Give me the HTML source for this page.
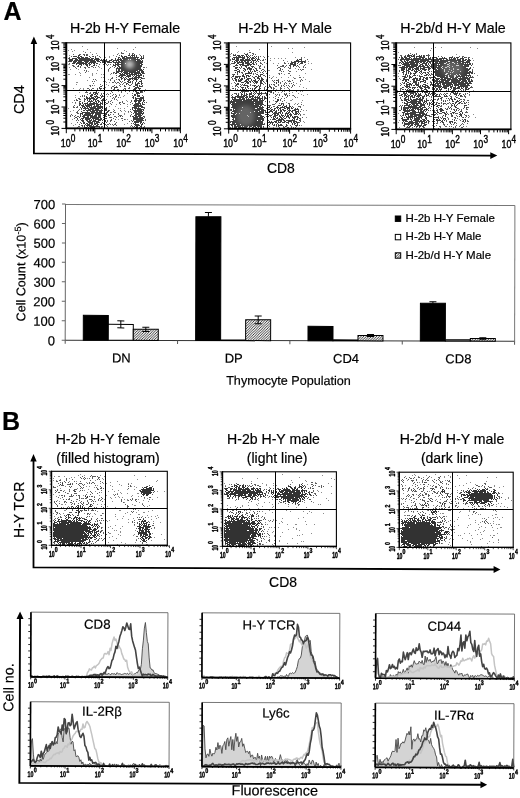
<!DOCTYPE html>
<html><head><meta charset="utf-8"><title>Figure</title>
<style>html,body{margin:0;padding:0;background:#fff}svg{display:block;filter:blur(0.4px)}text{font-family:"Liberation Sans",sans-serif;stroke:#000;stroke-width:0.2px}.lab text{stroke-width:0.4px}</style>
</head><body>
<svg width="520" height="798" viewBox="0 0 520 798" font-family="Liberation Sans, sans-serif">
<defs>
<filter id="soft" x="-5%" y="-5%" width="110%" height="110%"><feGaussianBlur stdDeviation="0.42"/></filter>
<filter id="blur2" x="-50%" y="-50%" width="200%" height="200%"><feGaussianBlur stdDeviation="2"/></filter>
<pattern id="hatch" width="2.6" height="2.6" patternUnits="userSpaceOnUse"><rect width="2.6" height="2.6" fill="#f2f2f2"/><path d="M-0.65 0.65L0.65 -0.65M0 2.6L2.6 0M1.95 3.25L3.25 1.95" stroke="#222" stroke-width="0.85"/></pattern>
<marker id="ah" viewBox="0 0 10 10" refX="2" refY="5" markerWidth="6" markerHeight="6" orient="auto-start-reverse" markerUnits="userSpaceOnUse"><path d="M0 0L10 5L0 10z"/></marker>
</defs>
<rect width="520" height="798" fill="#fff"/>

<text x="3.4" y="19.6" font-size="25" text-anchor="start" font-weight="bold" fill="#000" >A</text>
<text x="125" y="32.7" font-size="14.2" text-anchor="middle" font-weight="normal" fill="#000" >H-2b H-Y Female</text>
<text x="285" y="32.7" font-size="14.2" text-anchor="middle" font-weight="normal" fill="#000" >H-2b H-Y Male</text>
<text x="453" y="32.7" font-size="14.2" text-anchor="middle" font-weight="normal" fill="#000" >H-2b/d H-Y Male</text>
<text x="24.4" y="99.6" font-size="14.5" text-anchor="middle" font-weight="normal" fill="#000" transform="rotate(-90 24.4 99.6)" >CD4</text>
<text x="280.8" y="172.9" font-size="13.9" text-anchor="middle" font-weight="normal" fill="#000" >CD8</text>
<path d="M33.9 42V153.3L491 155.6" stroke="#000" stroke-width="1.8" fill="none"/>
<path d="M33.9 36.5L30.6 44H37.2z M497.3 155.6L490.3 152.2V159z" fill="#000"/>
<path d="M82 46.5h1M135 47.5h1M117 48.5h1M71 49.5h1m15 0h1m45 0h1M68 50.5h1m5 0h1m49 0h1M72 51.5h1m10 0h1m42 0h1M90 52.5h1M96 53.5h1m21 0h1M139 54.5h1M69 55.5h1m43 0h1M109 56.5h1M105 57.5h1m3 0h1M68 64.5h2M69 67.5h1m29 0h1m4 0h1m41 0h1M101 68.5h1M70 69.5h1m7 0h1M97 70.5h1M88 71.5h1m19 0h1M79 72.5h1M80 73.5h1m11 0h1m3 0h1M68 74.5h2m5 0h1m16 0h1m8 0h1m1 0h1m6 0h1M80 75.5h1m11 0h1M89 77.5h1m11 0h1m1 0h1M108 79.5h1M87 80.5h1m8 0h1M103 81.5h1m1 0h1M76 82.5h2m28 0h1m2 0h1M76 84.5h1m29 0h1M89 85.5h1m4 0h1m13 0h1M105 87.5h1M73 88.5h1m6 0h1m2 0h1M79 89.5h1m3 0h1m61 0h1M75 90.5h1m31 0h1M118 91.5h1M79 92.5h1M107 93.5h1m19 0h1M119 94.5h1M75 95.5h1m48 0h1M107 96.5h1m15 0h1M75 97.5h1m44 0h1M117 100.5h1m8 0h1M127 101.5h1M72 102.5h1M75 103.5h1M116 104.5h1m10 0h1m2 0h1M109 106.5h1m5 0h1m11 0h1M68 108.5h1m49 0h1m1 0h1m3 0h1M113 109.5h1M73 110.5h1m50 0h1M70 111.5h1m50 0h1m3 0h1M128 112.5h1M124 113.5h1M124 114.5h1M72 119.5h1m45 0h1m6 0h1m1 0h1M71 123.5h1m55 0h1M75 124.5h1m48 0h1M73 125.5h1M130 126.5h1M77 127.5h1m66 0h1" stroke="#8c8c8c" stroke-width="1" fill="none" filter="url(#soft)"/>
<path d="M85 52.5h1m35 0h1M121 53.5h3m5 0h1m2 0h2M73 54.5h1m5 0h2m2 0h2m1 0h2m4 0h1m24 0h1m11 0h1M87 55.5h1m9 0h1m21 0h1m20 0h1m2 0h1M71 56.5h1m20 0h1m2 0h1m3 0h1m16 0h1m26 0h1M69 57.5h1m30 0h1M68 58.5h1M112 59.5h1M68 61.5h1M69 63.5h1M99 64.5h1m3 0h1m2 0h1m1 0h1m1 0h1M72 65.5h2m22 0h1m10 0h1M73 66.5h2m2 0h1m2 0h1m10 0h2m5 0h1m13 0h1M75 67.5h1m4 0h1m3 0h2m2 0h2m3 0h1m1 0h1m14 0h1m3 0h1m28 0h2M76 68.5h1m8 0h1m23 0h1M108 69.5h1M84 70.5h1m1 0h1m21 0h1M86 71.5h1M85 72.5h1m27 0h2M111 73.5h1m1 0h1m30 0h1M116 75.5h1m26 0h1M118 76.5h1M112 77.5h1m3 0h1M111 78.5h2m30 0h2M93 79.5h1m1 0h1m14 0h1m5 0h1m1 0h2M110 80.5h1m3 0h1M92 81.5h1m1 0h1m19 0h1m7 0h1M112 82.5h2m1 0h1m1 0h2m2 0h1m2 0h2m6 0h1M93 83.5h1m22 0h1m2 0h1m3 0h1m8 0h1m9 0h1M100 84.5h1m19 0h1m1 0h1m8 0h1M90 85.5h1m1 0h1m9 0h1m11 0h1m4 0h1m4 0h1m4 0h2m11 0h1M90 86.5h1m9 0h1m11 0h2m2 0h1m3 0h1m3 0h2m7 0h1m8 0h1M111 87.5h1m5 0h1m11 0h1M87 88.5h2m3 0h2m3 0h1m5 0h1m7 0h1m12 0h2m2 0h2M89 89.5h1m1 0h1m5 0h1m2 0h1m12 0h2m2 0h2m4 0h1m1 0h1M77 90.5h1m7 0h1m5 0h2m8 0h1m19 0h1m5 0h1m2 0h1M86 91.5h1m24 0h1m9 0h1m3 0h1m3 0h1m3 0h1m8 0h1m1 0h1M85 92.5h3m2 0h1m7 0h1m13 0h1m8 0h1m19 0h2M89 93.5h2m10 0h1m1 0h1m6 0h1m21 0h1M87 94.5h1m13 0h1m2 0h1m1 0h1m1 0h1m4 0h1m1 0h1M82 95.5h1m1 0h1m27 0h1m3 0h1m2 0h1m12 0h1m9 0h1M80 96.5h1m1 0h1m1 0h1m18 0h1m6 0h1m4 0h2m26 0h1M113 97.5h1m1 0h1m2 0h1m13 0h1M78 98.5h2m32 0h1m1 0h1M76 99.5h1m2 0h2m3 0h1m21 0h1m7 0h1m1 0h1M74 100.5h1m1 0h1m7 0h1m20 0h1m5 0h1m19 0h1M79 101.5h1m28 0h1m1 0h1m11 0h1m8 0h1M75 102.5h1m3 0h1m28 0h1m3 0h1m6 0h2m1 0h1m7 0h1m15 0h1M107 103.5h1m2 0h1m8 0h1m3 0h2m7 0h1M79 104.5h1m25 0h1m5 0h1m8 0h1m23 0h1M74 105.5h1M73 106.5h1m3 0h1M73 107.5h2m1 0h2m66 0h1M144 108.5h1M79 109.5h1m1 0h1m48 0h1M78 110.5h1m30 0h1m4 0h1m5 0h1M77 111.5h1m35 0h1m14 0h1m1 0h1M76 112.5h2m32 0h2m2 0h2m15 0h1M77 113.5h2m39 0h1M71 114.5h1m38 0h1m2 0h1m4 0h1m12 0h1M70 115.5h1m1 0h1m2 0h1m33 0h1m9 0h3m8 0h1M70 116.5h1m3 0h1m2 0h2m35 0h2m2 0h1m3 0h1m7 0h1m13 0h1M75 117.5h1m33 0h3m4 0h1m27 0h1M74 118.5h1m38 0h1m7 0h2M77 119.5h1m33 0h1m3 0h1m8 0h1m20 0h1M76 120.5h1m1 0h1m28 0h1m2 0h2m10 0h1m8 0h1m13 0h1M107 121.5h1m2 0h1m3 0h1m14 0h1M77 122.5h1m2 0h1m35 0h1M101 123.5h1m7 0h1m5 0h1m15 0h1m12 0h1M79 124.5h1m27 0h2m1 0h1m1 0h1m1 0h2M81 125.5h1m22 0h1m1 0h1m6 0h1m2 0h1m14 0h1M78 126.5h2m2 0h1m18 0h2m4 0h1m24 0h1m11 0h1M84 127.5h2m13 0h1m1 0h1m31 0h1m7 0h1m1 0h1" stroke="#5c5c5c" stroke-width="1" fill="none" filter="url(#soft)"/>
<path d="M132 54.5h1m1 0h1M78 55.5h2m4 0h1m1 0h1m34 0h1m6 0h2m1 0h4m1 0h1M73 56.5h4m1 0h1m1 0h2m7 0h1m3 0h1m27 0h2m1 0h3m3 0h1m1 0h1m1 0h1m1 0h1m4 0h1M77 57.5h3m1 0h3m1 0h3m2 0h1m4 0h1m22 0h2m2 0h3m1 0h13m2 0h1m1 0h1M69 58.5h1m2 0h5m1 0h12m1 0h3m1 0h4m16 0h1m2 0h1m1 0h1m1 0h14m1 0h1m2 0h4M69 59.5h4m2 0h3m1 0h14m1 0h6m1 0h1m1 0h1m2 0h1m4 0h1m3 0h1m1 0h5m1 0h5m1 0h1m1 0h9m1 0h1M69 60.5h4m1 0h21m1 0h3m1 0h7m2 0h3m1 0h6m1 0h16m1 0h4m1 0h1M69 61.5h3m1 0h4m1 0h4m2 0h5m1 0h6m1 0h3m2 0h8m2 0h2m2 0h1m1 0h2m1 0h22M73 62.5h3m1 0h7m1 0h3m1 0h7m4 0h1m1 0h4m1 0h5m1 0h30M72 63.5h3m1 0h11m1 0h2m1 0h1m1 0h2m1 0h2m7 0h1m9 0h1m1 0h2m2 0h4m1 0h16M76 64.5h1m2 0h3m1 0h1m1 0h3m1 0h2m3 0h1m18 0h1m1 0h25m1 0h2M78 65.5h1m2 0h1m4 0h2m1 0h1m3 0h2m18 0h3m1 0h2m2 0h21M78 66.5h1m8 0h1m27 0h1m2 0h2m1 0h21M117 67.5h1m1 0h22M116 68.5h25M116 69.5h1m1 0h2m1 0h21m1 0h1M116 70.5h1m1 0h2m1 0h17m1 0h4M116 71.5h7m1 0h12m1 0h3m1 0h3M116 72.5h3m2 0h1m1 0h5m1 0h11m1 0h3M115 73.5h2m2 0h2m1 0h1m1 0h6m1 0h2m1 0h7m1 0h2M120 74.5h5m1 0h2m1 0h8m1 0h1m1 0h2M119 75.5h7m1 0h4m1 0h1m1 0h1m1 0h6M119 76.5h1m1 0h2m3 0h5m2 0h1m1 0h2m1 0h2m3 0h1M120 77.5h2m1 0h1m1 0h1m2 0h1m3 0h1m1 0h8M121 78.5h2m1 0h1m1 0h1m2 0h8m1 0h1m2 0h2M121 79.5h1m2 0h2m1 0h4m1 0h1m1 0h4m2 0h1M119 80.5h1m4 0h1m3 0h2m3 0h1m2 0h1m4 0h1M120 81.5h1m6 0h2m1 0h1m1 0h1m3 0h1m2 0h3M128 82.5h3m4 0h1m2 0h1m2 0h1M126 83.5h2m7 0h1m1 0h3m1 0h1M126 84.5h1m1 0h1m6 0h3m3 0h1M135 85.5h3m1 0h1M101 86.5h1m32 0h1m2 0h1m1 0h3M99 87.5h1m14 0h3m18 0h4M99 88.5h3m12 0h1m19 0h3m1 0h3M133 89.5h3m3 0h1M98 90.5h2m35 0h2m3 0h1M96 91.5h1m38 0h2m3 0h2M93 92.5h4m39 0h3m1 0h1M93 93.5h1m1 0h3m38 0h4M91 94.5h2m1 0h2m1 0h1m36 0h2m1 0h1M90 95.5h3m3 0h1m3 0h1m1 0h1m31 0h2m1 0h3M86 96.5h1m3 0h2m2 0h4m3 0h2m30 0h1m3 0h3M86 97.5h2m1 0h1m1 0h3m1 0h1m1 0h3m1 0h1m31 0h1m1 0h1m4 0h4M84 98.5h1m1 0h9m1 0h2m2 0h1m2 0h1m29 0h1m1 0h9M85 99.5h1m1 0h1m1 0h2m2 0h4m5 0h2m31 0h2m2 0h3m1 0h1M77 100.5h1m9 0h1m1 0h1m1 0h1m1 0h1m1 0h1m1 0h2m2 0h4m29 0h8m1 0h2M80 101.5h1m3 0h1m3 0h5m2 0h2m1 0h2m2 0h1m31 0h3m1 0h3m2 0h1M82 102.5h1m4 0h1m2 0h1m2 0h2m1 0h1m1 0h1m1 0h1m1 0h1m1 0h2m29 0h1m2 0h2m2 0h1m1 0h1M79 103.5h2m1 0h1m1 0h4m1 0h9m2 0h3m1 0h1m1 0h1m28 0h6m1 0h1M80 104.5h1m2 0h1m1 0h1m1 0h8m1 0h5m1 0h1m1 0h1m29 0h5m1 0h1m1 0h2M79 105.5h1m1 0h3m1 0h7m2 0h1m1 0h3m1 0h1m32 0h9M82 106.5h3m1 0h4m1 0h1m1 0h10m1 0h1m29 0h9M80 107.5h1m1 0h1m1 0h2m1 0h1m1 0h7m1 0h6m1 0h1m1 0h1m25 0h5m1 0h1m2 0h3M81 108.5h1m1 0h6m1 0h11m1 0h1m1 0h3m25 0h1m1 0h7M85 109.5h1m2 0h6m1 0h4m2 0h1m2 0h3m25 0h1m2 0h1m1 0h7M83 110.5h2m1 0h5m1 0h11m1 0h3m1 0h1m24 0h9m1 0h1M81 111.5h1m5 0h1m2 0h5m1 0h2m1 0h3m2 0h1m2 0h2m25 0h9M82 112.5h8m1 0h11m4 0h2m26 0h3m1 0h4m1 0h1M80 113.5h3m2 0h9m1 0h9m1 0h2m26 0h1m1 0h9M80 114.5h1m1 0h1m1 0h7m1 0h1m2 0h6m3 0h3m1 0h1m26 0h6m1 0h1M80 115.5h1m2 0h10m1 0h3m1 0h3m2 0h1m1 0h1m2 0h1m25 0h3m1 0h4M80 116.5h1m1 0h3m2 0h2m1 0h7m1 0h3m4 0h2m13 0h1m11 0h2m1 0h6m2 0h1M76 117.5h1m2 0h1m3 0h6m1 0h11m2 0h2m28 0h5m1 0h4M77 118.5h1m3 0h3m1 0h6m1 0h7m1 0h2m3 0h2m26 0h11M80 119.5h1m1 0h1m2 0h5m1 0h1m1 0h1m1 0h7m1 0h2m28 0h10M81 120.5h3m2 0h2m1 0h3m1 0h3m2 0h3m1 0h1m1 0h2m27 0h1m2 0h8M82 121.5h2m3 0h4m1 0h7m5 0h2m26 0h1m1 0h8M83 122.5h2m3 0h5m1 0h1m1 0h4m2 0h1m1 0h1m1 0h1m27 0h5m1 0h2m1 0h1M81 123.5h1m1 0h2m1 0h2m1 0h4m1 0h4m5 0h2m28 0h1m1 0h1m4 0h1m1 0h1M85 124.5h1m1 0h3m1 0h2m1 0h2m1 0h2m1 0h2m2 0h2m28 0h5m2 0h2M82 125.5h1m1 0h1m1 0h6m1 0h1m2 0h2m37 0h5m1 0h1M84 126.5h1m2 0h1m1 0h11m34 0h1m1 0h2m2 0h2M86 127.5h1m1 0h1m1 0h5m40 0h3m1 0h1" stroke="#3c3c3c" stroke-width="1" fill="none" filter="url(#soft)"/>
<ellipse cx="129.6" cy="64.4" rx="4.6" ry="4.1" fill="#c4c4c4" opacity="1" filter="url(#blur2)"/>
<rect x="66.3" y="42.8" width="114.10000000000001" height="85.60000000000001" fill="none" stroke="#000" stroke-width="1.1" />
<line x1="66.3" y1="42.3" x2="66.3" y2="128.9" stroke="#000" stroke-width="1.9"/>
<line x1="65.8" y1="128.4" x2="180.9" y2="128.4" stroke="#000" stroke-width="1.9"/>
<line x1="104.5" y1="42.8" x2="104.5" y2="128.4" stroke="#000" stroke-width="1"/>
<line x1="66.3" y1="90.5" x2="180.4" y2="90.5" stroke="#000" stroke-width="1"/>
<path d="M66.3 128.4v4.8M66.3 128.4h-4.8M74.9 128.4v2.976M66.3 122.0h-2.976M79.9 128.4v2.976M66.3 118.2h-2.976M83.5 128.4v2.976M66.3 115.5h-2.976M86.2 128.4v2.976M66.3 113.4h-2.976M88.5 128.4v2.976M66.3 111.7h-2.976M90.4 128.4v2.976M66.3 110.3h-2.976M92.1 128.4v2.976M66.3 109.1h-2.976M93.5 128.4v2.976M66.3 108.0h-2.976M94.8 128.4v4.8M66.3 107.0h-4.8M103.4 128.4v2.976M66.3 100.6h-2.976M108.4 128.4v2.976M66.3 96.8h-2.976M112.0 128.4v2.976M66.3 94.1h-2.976M114.8 128.4v2.976M66.3 92.0h-2.976M117.0 128.4v2.976M66.3 90.3h-2.976M118.9 128.4v2.976M66.3 88.9h-2.976M120.6 128.4v2.976M66.3 87.7h-2.976M122.0 128.4v2.976M66.3 86.6h-2.976M123.3 128.4v4.8M66.3 85.6h-4.8M131.9 128.4v2.976M66.3 79.2h-2.976M137.0 128.4v2.976M66.3 75.4h-2.976M140.5 128.4v2.976M66.3 72.7h-2.976M143.3 128.4v2.976M66.3 70.6h-2.976M145.5 128.4v2.976M66.3 68.9h-2.976M147.5 128.4v2.976M66.3 67.5h-2.976M149.1 128.4v2.976M66.3 66.3h-2.976M150.6 128.4v2.976M66.3 65.2h-2.976M151.9 128.4v4.8M66.3 64.2h-4.8M160.5 128.4v2.976M66.3 57.8h-2.976M165.5 128.4v2.976M66.3 54.0h-2.976M169.0 128.4v2.976M66.3 51.3h-2.976M171.8 128.4v2.976M66.3 49.2h-2.976M174.1 128.4v2.976M66.3 47.5h-2.976M176.0 128.4v2.976M66.3 46.1h-2.976M177.6 128.4v2.976M66.3 44.9h-2.976M179.1 128.4v2.976M66.3 43.8h-2.976M180.4 128.4v4.8M66.3 42.8h-4.8" stroke="#000" stroke-width="1.0" fill="none"/>
<g font-weight="normal" class="lab"><text x="60.75" y="147.0" font-size="10.6" text-anchor="start" textLength="9.9" lengthAdjust="spacingAndGlyphs">10</text><text x="70.85" y="142.0" font-size="10" text-anchor="start" textLength="4.6" lengthAdjust="spacingAndGlyphs">0</text></g>
<g transform="rotate(-90 59.0 127.9)" font-weight="normal" class="lab"><text x="51.10" y="127.9" font-size="10.6" text-anchor="start" textLength="9.9" lengthAdjust="spacingAndGlyphs">10</text><text x="62.30" y="122.9" font-size="10" text-anchor="start" textLength="4.6" lengthAdjust="spacingAndGlyphs">0</text></g>
<g font-weight="normal" class="lab"><text x="87.68" y="147.0" font-size="10.6" text-anchor="start" textLength="9.9" lengthAdjust="spacingAndGlyphs">10</text><text x="97.78" y="142.0" font-size="10" text-anchor="start" textLength="4.6" lengthAdjust="spacingAndGlyphs">1</text></g>
<g transform="rotate(-90 59.0 106.5)" font-weight="normal" class="lab"><text x="51.10" y="106.5" font-size="10.6" text-anchor="start" textLength="9.9" lengthAdjust="spacingAndGlyphs">10</text><text x="62.30" y="101.5" font-size="10" text-anchor="start" textLength="4.6" lengthAdjust="spacingAndGlyphs">1</text></g>
<g font-weight="normal" class="lab"><text x="116.20" y="147.0" font-size="10.6" text-anchor="start" textLength="9.9" lengthAdjust="spacingAndGlyphs">10</text><text x="126.30" y="142.0" font-size="10" text-anchor="start" textLength="4.6" lengthAdjust="spacingAndGlyphs">2</text></g>
<g transform="rotate(-90 59.0 85.1)" font-weight="normal" class="lab"><text x="51.10" y="85.1" font-size="10.6" text-anchor="start" textLength="9.9" lengthAdjust="spacingAndGlyphs">10</text><text x="62.30" y="80.1" font-size="10" text-anchor="start" textLength="4.6" lengthAdjust="spacingAndGlyphs">2</text></g>
<g font-weight="normal" class="lab"><text x="144.72" y="147.0" font-size="10.6" text-anchor="start" textLength="9.9" lengthAdjust="spacingAndGlyphs">10</text><text x="154.82" y="142.0" font-size="10" text-anchor="start" textLength="4.6" lengthAdjust="spacingAndGlyphs">3</text></g>
<g transform="rotate(-90 59.0 63.7)" font-weight="normal" class="lab"><text x="51.10" y="63.7" font-size="10.6" text-anchor="start" textLength="9.9" lengthAdjust="spacingAndGlyphs">10</text><text x="62.30" y="58.7" font-size="10" text-anchor="start" textLength="4.6" lengthAdjust="spacingAndGlyphs">3</text></g>
<g font-weight="normal" class="lab"><text x="173.25" y="147.0" font-size="10.6" text-anchor="start" textLength="9.9" lengthAdjust="spacingAndGlyphs">10</text><text x="183.35" y="142.0" font-size="10" text-anchor="start" textLength="4.6" lengthAdjust="spacingAndGlyphs">4</text></g>
<g transform="rotate(-90 59.0 42.3)" font-weight="normal" class="lab"><text x="51.10" y="42.3" font-size="10.6" text-anchor="start" textLength="9.9" lengthAdjust="spacingAndGlyphs">10</text><text x="62.30" y="37.3" font-size="10" text-anchor="start" textLength="4.6" lengthAdjust="spacingAndGlyphs">4</text></g>
<path d="M236 46.5h1m34 0h1M304 47.5h1M288 48.5h1m3 0h1M259 49.5h1M249 50.5h1M238 51.5h1M237 52.5h1m54 0h1M230 54.5h1M230 56.5h1m32 0h1m4 0h1M295 57.5h1m8 0h1M270 58.5h1m3 0h1m3 0h1m2 0h1m3 0h1M270 60.5h1M287 61.5h1m20 0h1M266 63.5h1m6 0h1m4 0h1m29 0h1m2 0h1M230 64.5h1M264 66.5h1M267 68.5h1m27 0h1M311 69.5h1M268 70.5h2M296 71.5h1M278 73.5h1m26 0h1M284 74.5h1M269 75.5h1m29 0h1M273 76.5h1M272 77.5h1m3 0h1m4 0h1m6 0h1m4 0h1m9 0h1M295 78.5h1M266 79.5h1m38 0h1M284 80.5h1M309 81.5h1M231 83.5h1m64 0h1M300 84.5h1M232 86.5h1m66 0h1M303 87.5h1M284 88.5h1m21 0h1M230 89.5h1m45 0h1M296 90.5h1M300 91.5h1m1 0h1M278 92.5h1m2 0h1m10 0h1M298 93.5h1M301 94.5h1m5 0h1M292 95.5h1m10 0h1M269 97.5h1m3 0h1m23 0h1M292 99.5h1M273 100.5h1m16 0h2m10 0h1M269 102.5h1m16 0h1m14 0h1M295 103.5h1m2 0h1M294 104.5h1M303 105.5h1M303 110.5h1m2 0h1M303 114.5h2M306 117.5h1M303 121.5h1M304 122.5h1M301 125.5h1M273 127.5h1" stroke="#8c8c8c" stroke-width="1" fill="none" filter="url(#soft)"/>
<path d="M249 52.5h2M231 53.5h1m12 0h1m2 0h1m4 0h2M233 54.5h1m1 0h1m17 0h1m1 0h1M250 55.5h1M258 56.5h1m1 0h1M264 57.5h1m36 0h1M301 58.5h1M230 59.5h1m28 0h1m3 0h1m1 0h1m41 0h1M230 60.5h1m29 0h1m1 0h2m19 0h1m21 0h1M291 61.5h1m13 0h1M260 62.5h1m3 0h1m19 0h1m20 0h1M231 63.5h2m23 0h1m3 0h2m22 0h2m2 0h1M256 64.5h1m5 0h1m36 0h1m5 0h1M258 65.5h1m1 0h1m16 0h1m4 0h1m3 0h1m17 0h1M233 66.5h1m25 0h2m19 0h4m1 0h1m10 0h1m1 0h1m4 0h1M241 67.5h1m12 0h1m4 0h1m4 0h1m13 0h2m4 0h1m3 0h1m1 0h1m8 0h1m3 0h1m1 0h1M240 68.5h1m15 0h1m2 0h2m16 0h1m11 0h2M244 69.5h1m17 0h2m16 0h1m1 0h1m15 0h1m1 0h1m1 0h2M234 70.5h1m29 0h1m14 0h2m7 0h1m12 0h1M259 71.5h1m3 0h1m1 0h1m15 0h1m1 0h1m5 0h2M241 72.5h2m14 0h1m2 0h1M237 73.5h1m4 0h1m10 0h1m1 0h1m7 0h1m2 0h1m12 0h1m1 0h1m6 0h2M232 74.5h2m19 0h1m2 0h1m22 0h1M263 75.5h2m2 0h1m22 0h1M252 76.5h1m12 0h1M231 77.5h1m21 0h2m14 0h1m29 0h2M232 78.5h1m38 0h1m22 0h1M232 79.5h1m45 0h1m22 0h1M233 80.5h1m32 0h1m5 0h1m1 0h1m2 0h2m8 0h1m1 0h1m2 0h1m7 0h1m1 0h1M266 81.5h1m6 0h1m8 0h1m5 0h3m9 0h1M234 82.5h1m29 0h1m15 0h1m4 0h1m7 0h1M235 83.5h1m29 0h1m14 0h1m3 0h1m1 0h1m2 0h1m1 0h1M240 84.5h1m9 0h1m12 0h1m5 0h1m1 0h1m1 0h2m3 0h1m5 0h1m8 0h1M235 85.5h1m5 0h1m8 0h1m1 0h2m13 0h1m6 0h1m3 0h1m2 0h1m1 0h1m2 0h1m1 0h1m3 0h1m1 0h1M235 86.5h1m24 0h1m4 0h1m9 0h2m4 0h1m2 0h1m4 0h1m2 0h1M238 87.5h1m25 0h1m3 0h1m1 0h1m2 0h1m6 0h1m6 0h1m3 0h1M232 88.5h1m2 0h1m28 0h1m8 0h2m5 0h2m6 0h1M235 89.5h1m1 0h1m26 0h1m1 0h1m6 0h1m6 0h1m8 0h1M231 90.5h1m2 0h2m26 0h1m7 0h1m16 0h1m2 0h1m3 0h1M267 91.5h1m2 0h1m4 0h1m6 0h1m1 0h1m4 0h1m6 0h1M270 92.5h1m2 0h1M234 93.5h3m1 0h1m23 0h3m8 0h1m10 0h1m1 0h1m2 0h1M232 94.5h1m34 0h1m1 0h1m5 0h1m1 0h1m1 0h1m4 0h3M231 95.5h1m44 0h1m2 0h1m9 0h1m3 0h1M275 96.5h1m6 0h1m4 0h1m6 0h1M231 97.5h1m46 0h1m7 0h1m8 0h1M266 98.5h1m8 0h1m5 0h1m2 0h1M267 99.5h1m12 0h1M280 100.5h1m3 0h1M265 101.5h1m3 0h1m5 0h1m6 0h1M267 102.5h1m8 0h1M275 103.5h1m3 0h1m2 0h2m4 0h2M272 104.5h3m14 0h1m7 0h1m3 0h1M264 105.5h2m2 0h3M273 106.5h2m17 0h1m5 0h3M293 107.5h1m6 0h1M266 108.5h2M230 109.5h1m70 0h1M230 110.5h1M300 111.5h1M300 114.5h1M270 115.5h1m29 0h1M266 116.5h2m2 0h1M302 117.5h1M300 118.5h1M270 119.5h1m29 0h1M268 120.5h1m31 0h1M230 121.5h1m36 0h1m32 0h1M299 122.5h1M264 123.5h1M264 124.5h1m2 0h1M267 125.5h2m4 0h1m8 0h1m4 0h1m2 0h1m8 0h1M269 126.5h1m6 0h1m6 0h1m2 0h1m4 0h1m4 0h1M230 127.5h1m1 0h1m30 0h1m3 0h1m11 0h1m3 0h2m2 0h2m2 0h1m1 0h1m1 0h1" stroke="#5c5c5c" stroke-width="1" fill="none" filter="url(#soft)"/>
<path d="M245 54.5h3M233 55.5h3m1 0h3m1 0h3m2 0h1m1 0h1m3 0h1M236 56.5h1m1 0h3m1 0h1m1 0h1m1 0h2m1 0h1m4 0h1m1 0h1M233 57.5h12m2 0h2m1 0h1m1 0h2m1 0h1m2 0h1M232 58.5h1m1 0h1m1 0h3m3 0h3m2 0h1m1 0h1m1 0h4m1 0h1m1 0h1M232 59.5h3m1 0h3m1 0h4m1 0h5m1 0h2m2 0h1m1 0h2m38 0h1m1 0h3M235 60.5h4m1 0h11m1 0h4m1 0h1m38 0h3m2 0h1M232 61.5h1m1 0h1m1 0h2m1 0h1m1 0h2m1 0h2m1 0h2m2 0h1m1 0h1m2 0h1m1 0h1m35 0h11M234 62.5h2m1 0h7m1 0h4m1 0h2m1 0h1m1 0h1m35 0h5m2 0h1m2 0h2m1 0h1M233 63.5h2m2 0h2m3 0h2m1 0h5m2 0h2m36 0h3m1 0h2m1 0h1m2 0h3M236 64.5h1m2 0h5m3 0h5m1 0h2m35 0h6M235 65.5h3m2 0h1m1 0h7m1 0h1m32 0h1m5 0h2m2 0h3m1 0h1M234 66.5h1m6 0h1m3 0h2m4 0h3m36 0h1m2 0h1M235 67.5h3m1 0h1m6 0h1m1 0h2m2 0h1M235 68.5h2m6 0h2m2 0h5m3 0h1m24 0h1M237 69.5h2m6 0h1m1 0h1m1 0h3m1 0h1m2 0h1M235 70.5h2m2 0h1m3 0h1m1 0h1m4 0h1m3 0h1m1 0h2m3 0h1M237 71.5h3m4 0h1m3 0h1m1 0h1m1 0h1m1 0h2M235 72.5h1m1 0h1m1 0h1m8 0h2m1 0h1m10 0h1M245 73.5h7M234 74.5h1m2 0h1m5 0h1m1 0h1m11 0h1m2 0h3M233 75.5h1m8 0h2m2 0h3m1 0h1m7 0h1m1 0h1M232 76.5h2m1 0h6m1 0h3m1 0h1m1 0h2m5 0h2m1 0h3M235 77.5h3m1 0h1m4 0h1m1 0h1m10 0h2m2 0h1M234 78.5h2m3 0h1m1 0h2m1 0h1m2 0h4m3 0h1m2 0h3m1 0h2M235 79.5h2m1 0h1m1 0h3m3 0h3m2 0h1m3 0h1m3 0h1m1 0h3M235 80.5h2m1 0h4m3 0h2m1 0h1m2 0h1m1 0h3m2 0h1m1 0h3m13 0h1M236 81.5h1m1 0h3m3 0h4m1 0h2m1 0h1m1 0h4m2 0h2m1 0h1m14 0h1M241 82.5h3m2 0h3m1 0h1m2 0h1m1 0h3m2 0h2m12 0h1m1 0h1m1 0h1M237 83.5h2m6 0h1m1 0h2m5 0h1m1 0h1m3 0h3m13 0h1M236 84.5h3m3 0h1m1 0h1m15 0h1M236 85.5h1m6 0h5m6 0h2m2 0h1m1 0h1m8 0h1M237 86.5h1m2 0h1m6 0h2m5 0h1m1 0h2m1 0h1m9 0h2M241 87.5h3m1 0h1m1 0h1m7 0h2m2 0h1m11 0h1M233 88.5h1m8 0h1m2 0h1m2 0h1m1 0h1m1 0h1m1 0h2m3 0h2m10 0h1M240 89.5h1m1 0h3m1 0h1m5 0h1m1 0h1m3 0h2M240 90.5h2m1 0h3m1 0h6m1 0h1m3 0h3M241 91.5h8m1 0h1m2 0h1m1 0h2m2 0h1m8 0h2m1 0h1M240 92.5h1m1 0h1m1 0h1m6 0h1m2 0h1m1 0h1m2 0h1m1 0h1m3 0h1m5 0h1M241 93.5h1m2 0h1m1 0h1m2 0h3m1 0h1m1 0h1m1 0h5m3 0h3M236 94.5h1m1 0h1m2 0h2m1 0h1m1 0h2m1 0h3m2 0h1m3 0h2m1 0h1m4 0h1M237 95.5h2m2 0h1m1 0h4m2 0h1m2 0h2m4 0h1m1 0h1m5 0h1m18 0h1m1 0h1M232 96.5h1m2 0h10m1 0h2m1 0h5m1 0h1m1 0h1m1 0h1m2 0h1m1 0h1M232 97.5h4m1 0h7m1 0h3m1 0h2m1 0h1m1 0h6m2 0h1m1 0h2M232 98.5h1m1 0h2m3 0h2m1 0h3m1 0h1m1 0h1m2 0h3m1 0h1m1 0h6m1 0h2M232 99.5h13m1 0h12m1 0h2m1 0h1m1 0h1m12 0h2M231 100.5h1m1 0h9m1 0h9m1 0h5m1 0h5m13 0h2M230 101.5h33m13 0h2M230 102.5h5m1 0h18m1 0h8M230 103.5h1m1 0h31m18 0h1M231 104.5h23m1 0h9m17 0h1m1 0h1M232 105.5h27m1 0h2m16 0h3m2 0h1m2 0h1m2 0h1M232 106.5h29m1 0h1m6 0h1m7 0h1m4 0h1m1 0h3m2 0h2M231 107.5h11m1 0h15m1 0h5m4 0h2m1 0h1m4 0h3m1 0h5m1 0h4m1 0h1M233 108.5h22m2 0h6m7 0h1m3 0h2m1 0h1m1 0h2m3 0h2m1 0h3m1 0h2m2 0h1m1 0h1M231 109.5h1m1 0h1m1 0h29m4 0h2m1 0h2m1 0h1m3 0h1m1 0h1m1 0h2m3 0h1m1 0h1m4 0h5M231 110.5h1m1 0h8m1 0h18m1 0h5m4 0h2m1 0h2m1 0h1m1 0h1m1 0h2m1 0h3m2 0h3m1 0h4m2 0h1M232 111.5h22m1 0h3m1 0h5m1 0h1m3 0h4m2 0h2m3 0h2m2 0h1m2 0h1m1 0h1m1 0h2m2 0h4M231 112.5h1m2 0h16m1 0h13m1 0h5m2 0h1m1 0h3m1 0h3m1 0h1m3 0h1m1 0h2m2 0h1m2 0h2m1 0h1M231 113.5h5m1 0h2m1 0h24m3 0h1m5 0h6m1 0h1m1 0h1m2 0h4m1 0h1m2 0h1m1 0h3m1 0h1M233 114.5h2m1 0h25m4 0h2m1 0h1m3 0h1m1 0h2m1 0h2m2 0h1m3 0h1m1 0h1m1 0h3m2 0h3m1 0h1M231 115.5h16m1 0h14m5 0h1m1 0h1m1 0h1m2 0h4m1 0h1m1 0h3m1 0h1m1 0h2m1 0h2M231 116.5h17m1 0h9m2 0h4m4 0h1m4 0h3m3 0h2m1 0h1m1 0h1m1 0h3m1 0h1m1 0h1m1 0h4M232 117.5h31m1 0h1m6 0h1m1 0h1m1 0h1m1 0h1m2 0h2m1 0h1m2 0h1m1 0h2m2 0h4m1 0h2M233 118.5h1m1 0h29m9 0h2m1 0h2m1 0h1m1 0h2m1 0h2m3 0h1m3 0h2m2 0h1m1 0h1M232 119.5h2m1 0h29m8 0h4m2 0h6m8 0h1m1 0h1m1 0h2M233 120.5h24m1 0h3m1 0h2m12 0h6m1 0h2m1 0h9m4 0h1M231 121.5h32m6 0h1m1 0h1m2 0h3m1 0h1m1 0h2m2 0h2m2 0h4m1 0h4M230 122.5h1m1 0h31m5 0h6m1 0h2m1 0h3m1 0h3m1 0h3m2 0h1m1 0h2m1 0h3M232 123.5h3m1 0h27m7 0h1m1 0h1m4 0h1m10 0h1m3 0h1m1 0h2m1 0h1M230 124.5h10m1 0h23m5 0h1m2 0h1m1 0h1m1 0h1m1 0h1m1 0h2m4 0h1m5 0h1m1 0h1m2 0h1M231 125.5h2m1 0h2m1 0h25m12 0h1m1 0h1m1 0h4m4 0h1m8 0h3M232 126.5h1m1 0h7m1 0h1m1 0h4m1 0h3m1 0h3m1 0h5m1 0h1m14 0h1m6 0h1M234 127.5h3m1 0h9m2 0h1m2 0h2m1 0h2m1 0h1m1 0h2" stroke="#3c3c3c" stroke-width="1" fill="none" filter="url(#soft)"/>
<ellipse cx="245.5" cy="115.9" rx="9.1" ry="10.7" fill="#858585" opacity="0.55" filter="url(#blur2)"/>
<rect x="228.7" y="42.9" width="121.90000000000003" height="85.9" fill="none" stroke="#000" stroke-width="1.1" />
<line x1="228.7" y1="42.4" x2="228.7" y2="129.3" stroke="#000" stroke-width="1.9"/>
<line x1="228.2" y1="128.8" x2="351.1" y2="128.8" stroke="#000" stroke-width="1.9"/>
<line x1="267.5" y1="42.9" x2="267.5" y2="128.8" stroke="#000" stroke-width="1"/>
<line x1="228.7" y1="90.5" x2="350.6" y2="90.5" stroke="#000" stroke-width="1"/>
<path d="M228.7 128.8v4.8M228.7 128.8h-4.8M237.9 128.8v2.976M228.7 122.3h-2.976M243.2 128.8v2.976M228.7 118.6h-2.976M247.0 128.8v2.976M228.7 115.9h-2.976M250.0 128.8v2.976M228.7 113.8h-2.976M252.4 128.8v2.976M228.7 112.1h-2.976M254.5 128.8v2.976M228.7 110.7h-2.976M256.2 128.8v2.976M228.7 109.4h-2.976M257.8 128.8v2.976M228.7 108.3h-2.976M259.2 128.8v4.8M228.7 107.3h-4.8M268.3 128.8v2.976M228.7 100.9h-2.976M273.7 128.8v2.976M228.7 97.1h-2.976M277.5 128.8v2.976M228.7 94.4h-2.976M280.5 128.8v2.976M228.7 92.3h-2.976M282.9 128.8v2.976M228.7 90.6h-2.976M284.9 128.8v2.976M228.7 89.2h-2.976M286.7 128.8v2.976M228.7 87.9h-2.976M288.3 128.8v2.976M228.7 86.8h-2.976M289.6 128.8v4.8M228.7 85.9h-4.8M298.8 128.8v2.976M228.7 79.4h-2.976M304.2 128.8v2.976M228.7 75.6h-2.976M308.0 128.8v2.976M228.7 72.9h-2.976M311.0 128.8v2.976M228.7 70.8h-2.976M313.4 128.8v2.976M228.7 69.1h-2.976M315.4 128.8v2.976M228.7 67.7h-2.976M317.2 128.8v2.976M228.7 66.5h-2.976M318.7 128.8v2.976M228.7 65.4h-2.976M320.1 128.8v4.8M228.7 64.4h-4.8M329.3 128.8v2.976M228.7 57.9h-2.976M334.7 128.8v2.976M228.7 54.1h-2.976M338.5 128.8v2.976M228.7 51.4h-2.976M341.4 128.8v2.976M228.7 49.4h-2.976M343.8 128.8v2.976M228.7 47.7h-2.976M345.9 128.8v2.976M228.7 46.2h-2.976M347.6 128.8v2.976M228.7 45.0h-2.976M349.2 128.8v2.976M228.7 43.9h-2.976M350.6 128.8v4.8M228.7 42.9h-4.8" stroke="#000" stroke-width="1.0" fill="none"/>
<g font-weight="normal" class="lab"><text x="223.15" y="147.4" font-size="10.6" text-anchor="start" textLength="9.9" lengthAdjust="spacingAndGlyphs">10</text><text x="233.25" y="142.4" font-size="10" text-anchor="start" textLength="4.6" lengthAdjust="spacingAndGlyphs">0</text></g>
<g transform="rotate(-90 221.39999999999998 128.3)" font-weight="normal" class="lab"><text x="213.50" y="128.3" font-size="10.6" text-anchor="start" textLength="9.9" lengthAdjust="spacingAndGlyphs">10</text><text x="224.70" y="123.30000000000001" font-size="10" text-anchor="start" textLength="4.6" lengthAdjust="spacingAndGlyphs">0</text></g>
<g font-weight="normal" class="lab"><text x="252.03" y="147.4" font-size="10.6" text-anchor="start" textLength="9.9" lengthAdjust="spacingAndGlyphs">10</text><text x="262.12" y="142.4" font-size="10" text-anchor="start" textLength="4.6" lengthAdjust="spacingAndGlyphs">1</text></g>
<g transform="rotate(-90 221.39999999999998 106.82500000000002)" font-weight="normal" class="lab"><text x="213.50" y="106.82500000000002" font-size="10.6" text-anchor="start" textLength="9.9" lengthAdjust="spacingAndGlyphs">10</text><text x="224.70" y="101.82500000000002" font-size="10" text-anchor="start" textLength="4.6" lengthAdjust="spacingAndGlyphs">1</text></g>
<g font-weight="normal" class="lab"><text x="282.50" y="147.4" font-size="10.6" text-anchor="start" textLength="9.9" lengthAdjust="spacingAndGlyphs">10</text><text x="292.60" y="142.4" font-size="10" text-anchor="start" textLength="4.6" lengthAdjust="spacingAndGlyphs">2</text></g>
<g transform="rotate(-90 221.39999999999998 85.35000000000001)" font-weight="normal" class="lab"><text x="213.50" y="85.35000000000001" font-size="10.6" text-anchor="start" textLength="9.9" lengthAdjust="spacingAndGlyphs">10</text><text x="224.70" y="80.35000000000001" font-size="10" text-anchor="start" textLength="4.6" lengthAdjust="spacingAndGlyphs">2</text></g>
<g font-weight="normal" class="lab"><text x="312.97" y="147.4" font-size="10.6" text-anchor="start" textLength="9.9" lengthAdjust="spacingAndGlyphs">10</text><text x="323.07" y="142.4" font-size="10" text-anchor="start" textLength="4.6" lengthAdjust="spacingAndGlyphs">3</text></g>
<g transform="rotate(-90 221.39999999999998 63.875)" font-weight="normal" class="lab"><text x="213.50" y="63.875" font-size="10.6" text-anchor="start" textLength="9.9" lengthAdjust="spacingAndGlyphs">10</text><text x="224.70" y="58.875" font-size="10" text-anchor="start" textLength="4.6" lengthAdjust="spacingAndGlyphs">3</text></g>
<g font-weight="normal" class="lab"><text x="343.45" y="147.4" font-size="10.6" text-anchor="start" textLength="9.9" lengthAdjust="spacingAndGlyphs">10</text><text x="353.55" y="142.4" font-size="10" text-anchor="start" textLength="4.6" lengthAdjust="spacingAndGlyphs">4</text></g>
<g transform="rotate(-90 221.39999999999998 42.400000000000006)" font-weight="normal" class="lab"><text x="213.50" y="42.400000000000006" font-size="10.6" text-anchor="start" textLength="9.9" lengthAdjust="spacingAndGlyphs">10</text><text x="224.70" y="37.400000000000006" font-size="10" text-anchor="start" textLength="4.6" lengthAdjust="spacingAndGlyphs">4</text></g>
<path d="M414 47.5h1m20 0h1m5 0h1m28 0h1M431 48.5h1m45 0h1M430 50.5h1M398 52.5h1M456 54.5h1M472 58.5h1M473 60.5h1M473 67.5h1M398 73.5h1M477 75.5h1M398 76.5h1M399 78.5h1M400 79.5h1M397 90.5h1m75 0h1M469 95.5h1M398 113.5h1M473 114.5h1M469 116.5h1M475 117.5h1M459 119.5h1M399 120.5h1M398 122.5h1M432 125.5h1M466 126.5h1M399 127.5h1M434 128.5h1m14 0h1" stroke="#8c8c8c" stroke-width="1" fill="none" filter="url(#soft)"/>
<path d="M410 53.5h1m5 0h1M416 54.5h1m11 0h1M400 55.5h2m3 0h1m18 0h1m2 0h3M438 56.5h1m2 0h1m10 0h1m6 0h1m2 0h2M465 57.5h2m1 0h2M398 59.5h1M399 62.5h1M399 63.5h1m72 0h1M472 64.5h1M398 65.5h2M399 67.5h1M472 69.5h1M399 70.5h1m72 0h1M399 71.5h1m31 0h1M424 72.5h1m3 0h1M403 73.5h1m7 0h1m8 0h1m10 0h1m42 0h1M431 74.5h2M417 75.5h1m1 0h1M402 76.5h1m69 0h1M430 77.5h1m41 0h2M430 78.5h1M472 80.5h1M410 81.5h1m19 0h1M402 82.5h1m27 0h1M400 83.5h1m2 0h1m23 0h1M401 84.5h1M400 85.5h1M471 86.5h1M403 87.5h1m67 0h2M400 88.5h2m27 0h1m2 0h1M400 89.5h1m2 0h1m13 0h2M400 90.5h1m16 0h2m27 0h1m1 0h1m12 0h1m1 0h1M398 91.5h1m2 0h1m19 0h1m18 0h1m4 0h1m3 0h1m19 0h1m1 0h1M397 92.5h1m71 0h1M399 93.5h1m40 0h1m3 0h1m1 0h2m2 0h1m9 0h1m4 0h1m1 0h1M441 94.5h1m1 0h1m6 0h1m14 0h1m3 0h1M399 95.5h2m48 0h1m14 0h1M429 96.5h1m1 0h1m15 0h1m2 0h2m3 0h1m5 0h2m1 0h2M400 97.5h1m30 0h1m9 0h2m14 0h1m7 0h1M400 98.5h1m25 0h1m19 0h1m7 0h1m3 0h1M401 99.5h1m29 0h1m2 0h2m1 0h2m2 0h1m7 0h1m10 0h2m1 0h2M401 100.5h1m28 0h1m6 0h1m3 0h1m1 0h1m1 0h1m1 0h1m1 0h1m14 0h1m2 0h2M402 102.5h1m33 0h2m3 0h1m7 0h1m14 0h1m3 0h1M441 103.5h1m2 0h2m1 0h2m1 0h1m10 0h2m2 0h1M443 104.5h1m2 0h1m4 0h1m16 0h1M400 105.5h1m40 0h1m9 0h1M399 106.5h1m1 0h1m26 0h1m11 0h2m6 0h1m2 0h1m2 0h1m9 0h1M429 107.5h1m3 0h1m14 0h1m18 0h2M430 108.5h1m2 0h1m2 0h1m8 0h1m1 0h1m3 0h1m6 0h1m4 0h1m2 0h1M437 109.5h1m8 0h2m3 0h1m1 0h2m4 0h1m1 0h1m4 0h2M399 110.5h2m29 0h1m1 0h1m1 0h1m23 0h1m2 0h1M434 111.5h1m11 0h1m3 0h1m15 0h1M427 112.5h1m37 0h3M440 113.5h2m5 0h1m2 0h1m4 0h3M431 114.5h1m5 0h1m10 0h1m15 0h1M400 115.5h1m1 0h1m26 0h1m21 0h1m4 0h1m8 0h2m1 0h1M401 116.5h1m27 0h3m6 0h1m3 0h1m8 0h2m4 0h1m8 0h1M440 117.5h1m1 0h1m4 0h1m6 0h2m6 0h1m2 0h1m2 0h1M448 118.5h1m6 0h1m1 0h1M433 119.5h1m14 0h1m3 0h1m1 0h1m7 0h1M433 120.5h1m12 0h1m9 0h1m3 0h1m6 0h1M429 121.5h1m2 0h2m12 0h1m2 0h1m12 0h1m4 0h2M437 122.5h1m2 0h1m8 0h1m5 0h1m8 0h1M402 123.5h1m25 0h1m5 0h1m1 0h2m5 0h1m10 0h1m1 0h1m5 0h1m4 0h1M443 124.5h2m2 0h1m3 0h1m1 0h1m7 0h1m1 0h1M403 125.5h1m32 0h1m7 0h1m11 0h1m3 0h1M404 126.5h1m29 0h1m4 0h2m4 0h2m2 0h1m1 0h1m3 0h1m3 0h1m3 0h1M406 127.5h2m4 0h1m3 0h1m7 0h1m15 0h1m12 0h1m1 0h1m5 0h2M405 128.5h1m15 0h1m16 0h1" stroke="#5c5c5c" stroke-width="1" fill="none" filter="url(#soft)"/>
<path d="M408 54.5h1m3 0h1m1 0h1M407 55.5h5m1 0h2m4 0h1m1 0h1m1 0h1m2 0h1M401 56.5h1m2 0h2m1 0h3m1 0h4m1 0h6m1 0h2m3 0h1M399 57.5h1m1 0h2m1 0h3m2 0h2m3 0h1m1 0h1m2 0h6m3 0h1m1 0h1m1 0h1m1 0h3m5 0h1m1 0h1m4 0h4m1 0h1m1 0h3m3 0h1m1 0h1M401 58.5h3m1 0h5m1 0h1m1 0h8m1 0h2m1 0h2m1 0h3m1 0h2m2 0h2m1 0h8m2 0h1m1 0h1m1 0h3m1 0h1m2 0h4m4 0h1M400 59.5h42m1 0h1m2 0h2m1 0h7m1 0h4m1 0h2m1 0h2m1 0h2M400 60.5h2m2 0h1m1 0h3m2 0h8m1 0h9m2 0h2m1 0h5m1 0h21m1 0h4m1 0h4M401 61.5h2m1 0h2m1 0h1m1 0h5m1 0h11m1 0h21m2 0h7m1 0h6m2 0h4M400 62.5h1m1 0h2m1 0h14m1 0h2m1 0h2m1 0h2m1 0h2m1 0h2m1 0h3m1 0h7m1 0h5m2 0h7m1 0h8M401 63.5h1m1 0h6m1 0h5m1 0h2m1 0h1m2 0h5m1 0h1m1 0h1m1 0h12m2 0h3m1 0h4m1 0h2m1 0h6m1 0h1m1 0h1m1 0h2M402 64.5h16m2 0h3m2 0h2m1 0h1m2 0h6m1 0h1m1 0h7m2 0h22M400 65.5h1m3 0h6m1 0h7m1 0h2m1 0h2m1 0h3m1 0h1m1 0h18m1 0h6m3 0h4m1 0h5m2 0h1M402 66.5h3m1 0h11m1 0h7m2 0h2m1 0h7m1 0h4m1 0h4m2 0h3m1 0h16M400 67.5h8m1 0h5m2 0h3m1 0h1m2 0h7m1 0h2m1 0h7m1 0h3m2 0h2m1 0h16m4 0h1M401 68.5h4m1 0h1m1 0h3m1 0h1m1 0h5m1 0h5m3 0h3m1 0h1m1 0h2m1 0h5m1 0h10m1 0h14m1 0h2M401 69.5h4m1 0h1m1 0h3m1 0h2m1 0h4m1 0h1m1 0h5m1 0h2m3 0h4m1 0h6m1 0h4m1 0h3m1 0h3m2 0h11M401 70.5h3m2 0h3m2 0h2m1 0h1m1 0h1m1 0h2m1 0h1m2 0h2m2 0h1m4 0h1m1 0h9m1 0h6m1 0h17M403 71.5h2m1 0h1m1 0h2m4 0h4m2 0h2m7 0h1m4 0h10m1 0h3m1 0h4m1 0h6m1 0h7m1 0h2m1 0h1M402 72.5h2m2 0h1m1 0h1m1 0h1m4 0h2m2 0h1m1 0h1m1 0h1m1 0h1m1 0h1m6 0h16m1 0h1m1 0h20M406 73.5h1m1 0h1m1 0h1m2 0h3m6 0h1m2 0h1m2 0h1m6 0h11m2 0h22m1 0h2M403 74.5h1m1 0h2m3 0h1m3 0h1m6 0h1m4 0h2m1 0h1m3 0h1m1 0h10m2 0h3m1 0h5m1 0h2m1 0h7m2 0h1M405 75.5h1m1 0h1m1 0h1m3 0h3m8 0h3m1 0h1m1 0h1m4 0h13m1 0h5m2 0h1m1 0h2m1 0h10M403 76.5h3m1 0h1m1 0h2m1 0h1m6 0h4m11 0h1m2 0h8m1 0h2m1 0h5m2 0h9m1 0h1m1 0h1m1 0h1M404 77.5h3m2 0h3m3 0h1m4 0h1m2 0h2m1 0h2m1 0h1m1 0h5m4 0h8m2 0h4m1 0h3m2 0h1m1 0h6m1 0h3M403 78.5h2m4 0h1m3 0h5m1 0h2m2 0h1m1 0h3m5 0h1m1 0h5m1 0h2m1 0h7m1 0h5m1 0h12M403 79.5h6m3 0h3m1 0h2m1 0h2m1 0h2m2 0h2m4 0h1m1 0h1m1 0h3m1 0h6m1 0h11m1 0h7m1 0h3m1 0h1M402 80.5h2m1 0h2m1 0h1m4 0h2m1 0h4m3 0h3m6 0h6m1 0h1m1 0h9m1 0h10m1 0h5m1 0h2m1 0h1M405 81.5h2m6 0h4m3 0h4m1 0h1m7 0h11m1 0h4m2 0h9m1 0h6m1 0h5M404 82.5h1m2 0h2m4 0h4m1 0h1m1 0h1m3 0h2m5 0h1m1 0h2m1 0h2m1 0h25m1 0h3m1 0h2M404 83.5h1m1 0h1m2 0h2m1 0h1m2 0h2m1 0h1m12 0h1m3 0h6m1 0h10m1 0h4m1 0h14M406 84.5h6m3 0h4m4 0h3m4 0h6m1 0h2m1 0h1m1 0h3m1 0h7m1 0h12m1 0h2M404 85.5h1m1 0h2m1 0h1m1 0h1m1 0h2m1 0h3m1 0h1m1 0h1m2 0h3m2 0h1m1 0h1m1 0h7m2 0h8m1 0h1m1 0h5m1 0h10M405 86.5h5m8 0h3m1 0h4m1 0h2m4 0h9m1 0h6m1 0h3m2 0h1m2 0h10M402 87.5h1m3 0h2m1 0h2m1 0h4m1 0h1m1 0h3m2 0h6m2 0h1m2 0h1m2 0h3m1 0h5m3 0h2m1 0h3m1 0h3m1 0h1m1 0h1m1 0h3m2 0h1M408 88.5h1m3 0h1m1 0h1m5 0h3m2 0h1m2 0h1m4 0h2m1 0h2m1 0h1m1 0h1m2 0h3m1 0h1m2 0h1m1 0h7m1 0h2m2 0h2m1 0h2M402 89.5h1m2 0h1m1 0h1m1 0h2m2 0h1m7 0h1m2 0h3m5 0h1m1 0h1m1 0h2m1 0h3m6 0h1m1 0h1m2 0h3m4 0h1m2 0h1m1 0h4M406 90.5h8m7 0h3m2 0h2m7 0h2m1 0h1m1 0h1m11 0h3m3 0h1m6 0h1M404 91.5h1m2 0h1m5 0h1m8 0h1m1 0h1m1 0h1m4 0h1m1 0h2m1 0h1m2 0h1m10 0h1m3 0h1m1 0h3m8 0h1M403 92.5h2m1 0h1m1 0h8m1 0h1m4 0h1m1 0h4m1 0h1m2 0h1m1 0h1m16 0h3m1 0h1m1 0h1M403 93.5h4m3 0h4m1 0h2m1 0h1m1 0h1m4 0h1m2 0h2m1 0h5m17 0h5m1 0h1M401 94.5h2m1 0h2m1 0h1m2 0h1m2 0h1m1 0h2m1 0h3m4 0h2m1 0h1m1 0h1m1 0h1m1 0h1m1 0h2m1 0h1m5 0h1m8 0h3m2 0h1m3 0h1M401 95.5h1m2 0h3m1 0h2m1 0h2m1 0h2m1 0h5m2 0h1m1 0h3m3 0h2m1 0h2m2 0h1m4 0h1m1 0h1m9 0h1m1 0h1m1 0h2M402 96.5h1m1 0h1m1 0h3m1 0h3m1 0h1m1 0h4m2 0h3m1 0h1m6 0h8m3 0h3m13 0h1M405 97.5h2m1 0h1m1 0h1m1 0h3m3 0h1m1 0h1m1 0h2m27 0h1m4 0h1M404 98.5h2m2 0h1m1 0h1m5 0h2m1 0h2m1 0h2m14 0h1m1 0h2m6 0h1m1 0h2m7 0h1M404 99.5h5m1 0h2m1 0h10m3 0h1m24 0h2m1 0h2M402 100.5h1m1 0h3m1 0h2m1 0h6m2 0h4m1 0h1m1 0h3m3 0h2m18 0h1m4 0h1m1 0h1M406 101.5h2m2 0h11m1 0h1m1 0h3m5 0h2m9 0h1m1 0h1m6 0h2m2 0h3m2 0h1m1 0h1M404 102.5h1m2 0h10m1 0h3m2 0h2m1 0h1m2 0h1m1 0h1m2 0h1m20 0h2m2 0h2m5 0h1M404 103.5h4m3 0h11m1 0h1m1 0h1m1 0h1m1 0h2m1 0h2m2 0h1m1 0h2m3 0h1m8 0h2m1 0h1m2 0h2m4 0h1M406 104.5h2m1 0h2m1 0h3m1 0h2m2 0h5m2 0h1m1 0h1m1 0h2m2 0h2m17 0h1m2 0h1M402 105.5h1m1 0h6m1 0h1m1 0h6m1 0h5m4 0h1m3 0h2m2 0h3m12 0h1m1 0h1m1 0h1m7 0h3M404 106.5h1m3 0h9m2 0h3m2 0h1m6 0h1m4 0h2m17 0h1M401 107.5h1m1 0h18m1 0h4m12 0h1m11 0h1m4 0h2m7 0h1m1 0h1M401 108.5h1m1 0h6m1 0h1m1 0h7m1 0h3m3 0h1m1 0h1m11 0h2m7 0h1m7 0h1M401 109.5h1m1 0h3m1 0h1m1 0h1m1 0h3m1 0h1m1 0h6m1 0h4m11 0h4m13 0h1M403 110.5h12m3 0h1m1 0h2m1 0h2m1 0h1m1 0h1m7 0h2m2 0h4m10 0h1m1 0h1M404 111.5h6m2 0h4m2 0h1m1 0h4m1 0h1m11 0h1m2 0h2m13 0h1m4 0h2M402 112.5h3m2 0h1m2 0h14m10 0h2m1 0h2m3 0h3m1 0h1m5 0h3m4 0h1m2 0h1M403 113.5h1m1 0h11m3 0h6m1 0h1m9 0h1m2 0h1m4 0h2m5 0h1m1 0h1m6 0h1m1 0h1M403 114.5h1m1 0h4m1 0h11m1 0h5m5 0h1m1 0h2m9 0h2m4 0h1m7 0h3M403 115.5h1m1 0h1m2 0h1m1 0h3m1 0h10m1 0h4m4 0h2m8 0h1m1 0h1m6 0h1m7 0h2M406 116.5h1m1 0h9m1 0h5m1 0h2m7 0h1m11 0h1m13 0h1m1 0h1M402 117.5h1m1 0h1m1 0h7m1 0h1m1 0h6m3 0h2m7 0h5m24 0h1M401 118.5h2m4 0h2m1 0h1m1 0h1m1 0h6m1 0h1m3 0h2m11 0h1m2 0h1m1 0h3M402 119.5h7m1 0h2m2 0h6m2 0h3m1 0h1m7 0h1m1 0h2m1 0h1m3 0h1m1 0h1m18 0h2M402 120.5h5m4 0h1m1 0h6m1 0h2m1 0h3m1 0h2m7 0h5m1 0h1m1 0h1m9 0h1m8 0h1m1 0h1M403 121.5h1m1 0h3m1 0h4m2 0h10m1 0h1m1 0h1m5 0h1m2 0h1m3 0h2m7 0h3m10 0h1m1 0h1M402 122.5h1m1 0h1m3 0h10m1 0h1m1 0h2m1 0h3m1 0h1m13 0h2m6 0h1m1 0h1m1 0h1M404 123.5h10m1 0h4m2 0h4m25 0h1M404 124.5h6m1 0h2m1 0h5m2 0h1m2 0h3M404 125.5h1m3 0h1m1 0h3m2 0h1m1 0h5m1 0h3M407 126.5h1m1 0h2m3 0h1m1 0h2m1 0h2m1 0h2M408 127.5h2m9 0h1m3 0h1" stroke="#3c3c3c" stroke-width="1" fill="none" filter="url(#soft)"/>
<ellipse cx="452.4" cy="68.9" rx="11.2" ry="7.6" fill="#909090" opacity="0.45" filter="url(#blur2)"/>
<rect x="396.2" y="42.9" width="114.69999999999999" height="86.5" fill="none" stroke="#000" stroke-width="1.1" />
<line x1="396.2" y1="42.4" x2="396.2" y2="129.9" stroke="#000" stroke-width="1.9"/>
<line x1="395.7" y1="129.4" x2="511.4" y2="129.4" stroke="#000" stroke-width="1.9"/>
<line x1="433.5" y1="42.9" x2="433.5" y2="129.4" stroke="#000" stroke-width="1"/>
<line x1="396.2" y1="91.5" x2="510.9" y2="91.5" stroke="#000" stroke-width="1"/>
<path d="M396.2 129.4v4.8M396.2 129.4h-4.8M404.7 129.4v2.976M396.2 122.9h-2.976M409.6 129.4v2.976M396.2 119.1h-2.976M413.1 129.4v2.976M396.2 116.4h-2.976M415.8 129.4v2.976M396.2 114.3h-2.976M418.1 129.4v2.976M396.2 112.6h-2.976M419.9 129.4v2.976M396.2 111.1h-2.976M421.6 129.4v2.976M396.2 109.9h-2.976M423.0 129.4v2.976M396.2 108.8h-2.976M424.3 129.4v4.8M396.2 107.8h-4.8M432.8 129.4v2.976M396.2 101.3h-2.976M437.7 129.4v2.976M396.2 97.5h-2.976M441.2 129.4v2.976M396.2 94.8h-2.976M443.9 129.4v2.976M396.2 92.7h-2.976M446.2 129.4v2.976M396.2 90.9h-2.976M448.0 129.4v2.976M396.2 89.5h-2.976M449.7 129.4v2.976M396.2 88.2h-2.976M451.1 129.4v2.976M396.2 87.1h-2.976M452.4 129.4v4.8M396.2 86.2h-4.8M460.9 129.4v2.976M396.2 79.6h-2.976M465.8 129.4v2.976M396.2 75.8h-2.976M469.3 129.4v2.976M396.2 73.1h-2.976M472.0 129.4v2.976M396.2 71.0h-2.976M474.3 129.4v2.976M396.2 69.3h-2.976M476.1 129.4v2.976M396.2 67.9h-2.976M477.8 129.4v2.976M396.2 66.6h-2.976M479.2 129.4v2.976M396.2 65.5h-2.976M480.5 129.4v4.8M396.2 64.5h-4.8M489.0 129.4v2.976M396.2 58.0h-2.976M493.9 129.4v2.976M396.2 54.2h-2.976M497.4 129.4v2.976M396.2 51.5h-2.976M500.1 129.4v2.976M396.2 49.4h-2.976M502.4 129.4v2.976M396.2 47.7h-2.976M504.2 129.4v2.976M396.2 46.2h-2.976M505.9 129.4v2.976M396.2 45.0h-2.976M507.3 129.4v2.976M396.2 43.9h-2.976M508.6 129.4v4.8M396.2 42.9h-4.8" stroke="#000" stroke-width="1.0" fill="none"/>
<g font-weight="normal" class="lab"><text x="390.65" y="148.0" font-size="10.6" text-anchor="start" textLength="9.9" lengthAdjust="spacingAndGlyphs">10</text><text x="400.75" y="143.0" font-size="10" text-anchor="start" textLength="4.6" lengthAdjust="spacingAndGlyphs">0</text></g>
<g transform="rotate(-90 388.9 128.9)" font-weight="normal" class="lab"><text x="381.00" y="128.9" font-size="10.6" text-anchor="start" textLength="9.9" lengthAdjust="spacingAndGlyphs">10</text><text x="392.20" y="123.9" font-size="10" text-anchor="start" textLength="4.6" lengthAdjust="spacingAndGlyphs">0</text></g>
<g font-weight="normal" class="lab"><text x="417.15" y="148.0" font-size="10.6" text-anchor="start" textLength="9.9" lengthAdjust="spacingAndGlyphs">10</text><text x="427.25" y="143.0" font-size="10" text-anchor="start" textLength="4.6" lengthAdjust="spacingAndGlyphs">1</text></g>
<g transform="rotate(-90 388.9 107.275)" font-weight="normal" class="lab"><text x="381.00" y="107.275" font-size="10.6" text-anchor="start" textLength="9.9" lengthAdjust="spacingAndGlyphs">10</text><text x="392.20" y="102.275" font-size="10" text-anchor="start" textLength="4.6" lengthAdjust="spacingAndGlyphs">1</text></g>
<g font-weight="normal" class="lab"><text x="445.25" y="148.0" font-size="10.6" text-anchor="start" textLength="9.9" lengthAdjust="spacingAndGlyphs">10</text><text x="455.35" y="143.0" font-size="10" text-anchor="start" textLength="4.6" lengthAdjust="spacingAndGlyphs">2</text></g>
<g transform="rotate(-90 388.9 85.65)" font-weight="normal" class="lab"><text x="381.00" y="85.65" font-size="10.6" text-anchor="start" textLength="9.9" lengthAdjust="spacingAndGlyphs">10</text><text x="392.20" y="80.65" font-size="10" text-anchor="start" textLength="4.6" lengthAdjust="spacingAndGlyphs">2</text></g>
<g font-weight="normal" class="lab"><text x="473.35" y="148.0" font-size="10.6" text-anchor="start" textLength="9.9" lengthAdjust="spacingAndGlyphs">10</text><text x="483.45" y="143.0" font-size="10" text-anchor="start" textLength="4.6" lengthAdjust="spacingAndGlyphs">3</text></g>
<g transform="rotate(-90 388.9 64.025)" font-weight="normal" class="lab"><text x="381.00" y="64.025" font-size="10.6" text-anchor="start" textLength="9.9" lengthAdjust="spacingAndGlyphs">10</text><text x="392.20" y="59.025000000000006" font-size="10" text-anchor="start" textLength="4.6" lengthAdjust="spacingAndGlyphs">3</text></g>
<g font-weight="normal" class="lab"><text x="501.45" y="148.0" font-size="10.6" text-anchor="start" textLength="9.9" lengthAdjust="spacingAndGlyphs">10</text><text x="511.55" y="143.0" font-size="10" text-anchor="start" textLength="4.6" lengthAdjust="spacingAndGlyphs">4</text></g>
<g transform="rotate(-90 388.9 42.400000000000006)" font-weight="normal" class="lab"><text x="381.00" y="42.400000000000006" font-size="10.6" text-anchor="start" textLength="9.9" lengthAdjust="spacingAndGlyphs">10</text><text x="392.20" y="37.400000000000006" font-size="10" text-anchor="start" textLength="4.6" lengthAdjust="spacingAndGlyphs">4</text></g>
<g transform="rotate(0.13 65 340)">
<line x1="65.2" y1="204.5" x2="514.6" y2="204.5" stroke="#777" stroke-width="1"/>
<line x1="514.6" y1="204.5" x2="514.6" y2="340.2" stroke="#777" stroke-width="1"/>
<line x1="65.2" y1="204" x2="65.2" y2="340.2" stroke="#666" stroke-width="1"/>
<line x1="65.2" y1="340.2" x2="514.6" y2="340.2" stroke="#333" stroke-width="1"/>
<line x1="61.7" y1="340.2" x2="65.2" y2="340.2" stroke="#666" stroke-width="1"/>
<text x="55.0" y="345.2" font-size="13" text-anchor="end" font-weight="normal" fill="#000" >0</text>
<line x1="61.7" y1="320.74285714285713" x2="65.2" y2="320.74285714285713" stroke="#666" stroke-width="1"/>
<text x="55.0" y="325.74285714285713" font-size="13" text-anchor="end" font-weight="normal" fill="#000" >100</text>
<line x1="61.7" y1="301.2857142857143" x2="65.2" y2="301.2857142857143" stroke="#666" stroke-width="1"/>
<text x="55.0" y="306.2857142857143" font-size="13" text-anchor="end" font-weight="normal" fill="#000" >200</text>
<line x1="61.7" y1="281.8285714285714" x2="65.2" y2="281.8285714285714" stroke="#666" stroke-width="1"/>
<text x="55.0" y="286.8285714285714" font-size="13" text-anchor="end" font-weight="normal" fill="#000" >300</text>
<line x1="61.7" y1="262.37142857142857" x2="65.2" y2="262.37142857142857" stroke="#666" stroke-width="1"/>
<text x="55.0" y="267.37142857142857" font-size="13" text-anchor="end" font-weight="normal" fill="#000" >400</text>
<line x1="61.7" y1="242.9142857142857" x2="65.2" y2="242.9142857142857" stroke="#666" stroke-width="1"/>
<text x="55.0" y="247.9142857142857" font-size="13" text-anchor="end" font-weight="normal" fill="#000" >500</text>
<line x1="61.7" y1="223.45714285714286" x2="65.2" y2="223.45714285714286" stroke="#666" stroke-width="1"/>
<text x="55.0" y="228.45714285714286" font-size="13" text-anchor="end" font-weight="normal" fill="#000" >600</text>
<line x1="61.7" y1="204.0" x2="65.2" y2="204.0" stroke="#666" stroke-width="1"/>
<text x="55.0" y="209.0" font-size="13" text-anchor="end" font-weight="normal" fill="#000" >700</text>
<line x1="65.2" y1="340.2" x2="65.2" y2="343.7" stroke="#555" stroke-width="1"/>
<line x1="177.55" y1="340.2" x2="177.55" y2="343.7" stroke="#555" stroke-width="1"/>
<line x1="289.90000000000003" y1="340.2" x2="289.90000000000003" y2="343.7" stroke="#555" stroke-width="1"/>
<line x1="402.25" y1="340.2" x2="402.25" y2="343.7" stroke="#555" stroke-width="1"/>
<line x1="514.6" y1="340.2" x2="514.6" y2="343.7" stroke="#555" stroke-width="1"/>
<text x="121.375" y="362.3" font-size="13" text-anchor="middle" font-weight="normal" fill="#000" >DN</text>
<rect x="83.275" y="315.29485714285715" width="25.0" height="24.905142857142856" fill="#000" stroke="#000" stroke-width="1" />
<rect x="108.275" y="324.24514285714287" width="25.0" height="15.954857142857142" fill="#fff" stroke="#000" stroke-width="1" />
<line x1="120.775" y1="320.74285714285713" x2="120.775" y2="327.7474285714286" stroke="#000" stroke-width="1"/>
<line x1="117.275" y1="320.74285714285713" x2="124.275" y2="320.74285714285713" stroke="#000" stroke-width="1"/>
<line x1="117.275" y1="327.7474285714286" x2="124.275" y2="327.7474285714286" stroke="#000" stroke-width="1"/>
<rect x="133.275" y="329.10942857142857" width="25.0" height="11.090571428571428" fill="url(#hatch)" stroke="#000" stroke-width="1" />
<line x1="145.775" y1="326.96914285714286" x2="145.775" y2="331.2497142857143" stroke="#000" stroke-width="1"/>
<line x1="142.275" y1="326.96914285714286" x2="149.275" y2="326.96914285714286" stroke="#000" stroke-width="1"/>
<line x1="142.275" y1="331.2497142857143" x2="149.275" y2="331.2497142857143" stroke="#000" stroke-width="1"/>
<text x="233.72500000000002" y="362.3" font-size="13" text-anchor="middle" font-weight="normal" fill="#000" >DP</text>
<rect x="195.62500000000003" y="216.45257142857142" width="25.0" height="123.74742857142857" fill="#000" stroke="#000" stroke-width="1" />
<line x1="208.12500000000003" y1="212.172" x2="208.12500000000003" y2="216.45257142857142" stroke="#000" stroke-width="1"/>
<line x1="204.62500000000003" y1="212.172" x2="211.62500000000003" y2="212.172" stroke="#000" stroke-width="1"/>
<rect x="220.62500000000003" y="339.6162857142857" width="25.0" height="0.5837142857142856" fill="#fff" stroke="#000" stroke-width="1" />
<rect x="245.62500000000003" y="319.3808571428571" width="25.0" height="20.819142857142857" fill="url(#hatch)" stroke="#000" stroke-width="1" />
<line x1="258.125" y1="315.48942857142856" x2="258.125" y2="323.27228571428566" stroke="#000" stroke-width="1"/>
<line x1="254.625" y1="315.48942857142856" x2="261.625" y2="315.48942857142856" stroke="#000" stroke-width="1"/>
<line x1="254.625" y1="323.27228571428566" x2="261.625" y2="323.27228571428566" stroke="#000" stroke-width="1"/>
<text x="346.075" y="362.3" font-size="13" text-anchor="middle" font-weight="normal" fill="#000" >CD4</text>
<rect x="307.97499999999997" y="325.8017142857143" width="25.0" height="14.398285714285713" fill="#000" stroke="#000" stroke-width="1" />
<rect x="332.97499999999997" y="339.22714285714284" width="25.0" height="0.9728571428571429" fill="#fff" stroke="#000" stroke-width="1" />
<rect x="357.97499999999997" y="334.752" width="25.0" height="5.4479999999999995" fill="url(#hatch)" stroke="#000" stroke-width="1" />
<line x1="370.47499999999997" y1="333.77914285714286" x2="370.47499999999997" y2="335.72485714285716" stroke="#000" stroke-width="1"/>
<line x1="366.97499999999997" y1="333.77914285714286" x2="373.97499999999997" y2="333.77914285714286" stroke="#000" stroke-width="1"/>
<line x1="366.97499999999997" y1="335.72485714285716" x2="373.97499999999997" y2="335.72485714285716" stroke="#000" stroke-width="1"/>
<text x="458.425" y="362.3" font-size="13" text-anchor="middle" font-weight="normal" fill="#000" >CD8</text>
<rect x="420.325" y="302.45314285714284" width="25.0" height="37.74685714285714" fill="#000" stroke="#000" stroke-width="1" />
<line x1="432.825" y1="300.8965714285714" x2="432.825" y2="302.45314285714284" stroke="#000" stroke-width="1"/>
<line x1="429.325" y1="300.8965714285714" x2="436.325" y2="300.8965714285714" stroke="#000" stroke-width="1"/>
<rect x="445.325" y="338.83799999999997" width="25.0" height="1.3619999999999999" fill="#fff" stroke="#000" stroke-width="1" />
<rect x="470.325" y="337.476" width="25.0" height="2.7239999999999998" fill="url(#hatch)" stroke="#000" stroke-width="1" />
<line x1="482.825" y1="336.6977142857143" x2="482.825" y2="338.2542857142857" stroke="#000" stroke-width="1"/>
<line x1="479.325" y1="336.6977142857143" x2="486.325" y2="336.6977142857143" stroke="#000" stroke-width="1"/>
<line x1="479.325" y1="338.2542857142857" x2="486.325" y2="338.2542857142857" stroke="#000" stroke-width="1"/>
<text x="288.6" y="384.3" font-size="12.6" text-anchor="middle" font-weight="normal" fill="#000" >Thymocyte Population</text>
<text x="25.2" y="272" font-size="12.6" text-anchor="middle" transform="rotate(-90 25.2 272)">Cell Count (x10<tspan dy="-4.5" font-size="9">-5</tspan><tspan dy="4.5">)</tspan></text>
</g>
<rect x="395.3" y="216.0" width="5.4" height="5.4" fill="#000" stroke="#000" stroke-width="1" />
<text x="405.6" y="222.0" font-size="11.5" text-anchor="start" font-weight="normal" fill="#000" >H-2b H-Y Female</text>
<rect x="395.3" y="234.4" width="5.4" height="5.4" fill="#fff" stroke="#000" stroke-width="1" />
<text x="405.6" y="240.4" font-size="11.5" text-anchor="start" font-weight="normal" fill="#000" >H-2b H-Y Male</text>
<rect x="395.3" y="252.8" width="5.4" height="5.4" fill="url(#hatch)" stroke="#000" stroke-width="1" />
<text x="405.6" y="258.8" font-size="11.5" text-anchor="start" font-weight="normal" fill="#000" >H-2b/d H-Y Male</text>
<text x="2.1" y="429.8" font-size="25" text-anchor="start" font-weight="bold" fill="#000" >B</text>
<text x="108" y="444.3" font-size="14.1" text-anchor="middle" font-weight="normal" fill="#000" >H-2b H-Y female</text>
<text x="108" y="463.3" font-size="14" text-anchor="middle" font-weight="normal" fill="#000" >(filled histogram)</text>
<text x="273.5" y="444.3" font-size="14.1" text-anchor="middle" font-weight="normal" fill="#000" >H-2b H-Y male</text>
<text x="277.2" y="463.3" font-size="14" text-anchor="middle" font-weight="normal" fill="#000" >(light line)</text>
<text x="452" y="444.3" font-size="14.1" text-anchor="middle" font-weight="normal" fill="#000" >H-2b/d H-Y male</text>
<text x="452" y="463.3" font-size="14" text-anchor="middle" font-weight="normal" fill="#000" >(dark line)</text>
<text x="23.6" y="509.8" font-size="14" text-anchor="middle" font-weight="normal" fill="#000" transform="rotate(-90 23.6 509.8)" >H-Y TCR</text>
<text x="283" y="587" font-size="13.9" text-anchor="middle" font-weight="normal" fill="#000" >CD8</text>
<path d="M33.5 460V567.4L494 569.5" stroke="#000" stroke-width="1.8" fill="none"/>
<path d="M33.5 454L30.3 461.5H36.7z M500.4 569.5L493.6 566V573z" fill="#000"/>
<path d="M80 474.5h1M78 475.5h1m5 0h1m15 0h1m33 0h1M54 476.5h1m3 0h2m4 0h1m39 0h1m40 0h1M71 477.5h1m2 0h1M53 478.5h1m15 0h1m17 0h1m14 0h1M60 479.5h1m42 0h1m33 0h1M53 480.5h1m2 0h1m38 0h1m61 0h1M69 481.5h1m6 0h1m40 0h1m38 0h1M86 482.5h1m23 0h1M100 483.5h1m2 0h1m2 0h1m21 0h1m2 0h1M119 484.5h1M97 485.5h1m7 0h1m4 0h1m10 0h1M57 486.5h1m7 0h1m20 0h1m2 0h1m22 0h1m18 0h1m2 0h1M94 487.5h1m41 0h1M60 488.5h1m16 0h1M88 489.5h1m23 0h1m14 0h1m6 0h1M64 490.5h1m4 0h1m14 0h1m33 0h1M79 491.5h1m15 0h1m12 0h1m5 0h1m42 0h1m6 0h1M87 492.5h1m13 0h1m18 0h1M68 493.5h1m48 0h1m3 0h1m5 0h1m9 0h2M53 494.5h1m59 0h1M59 495.5h1m23 0h1m15 0h1m6 0h1m25 0h1M56 496.5h1m37 0h1m23 0h1m12 0h1m6 0h1M110 497.5h1m4 0h1m3 0h1m2 0h1m34 0h1M60 498.5h1m21 0h1m28 0h1m32 0h1m2 0h1M76 499.5h1m27 0h1m19 0h1m2 0h1m10 0h1m13 0h1M57 500.5h1m69 0h1m15 0h1M59 501.5h1m52 0h1m35 0h1M124 502.5h1m14 0h1M142 503.5h1M61 504.5h2m2 0h1m31 0h1m3 0h1m2 0h1m27 0h1M134 505.5h2m13 0h1M68 506.5h1m38 0h1m36 0h1m2 0h1M63 507.5h1m51 0h1M54 508.5h1m3 0h1m41 0h1m10 0h1m22 0h1m15 0h1m6 0h1m2 0h1M64 510.5h2m53 0h2m17 0h1m13 0h1M97 511.5h1m50 0h1M127 512.5h1m8 0h1m6 0h2M53 513.5h1m9 0h1m20 0h1m5 0h1m3 0h1m8 0h1m21 0h1M60 514.5h1m34 0h1m19 0h1m14 0h1m7 0h2M100 515.5h1m46 0h1m9 0h1M54 516.5h1m37 0h1m12 0h1m9 0h1m7 0h1m18 0h1m8 0h1m3 0h1M148 517.5h1m9 0h1M122 518.5h1m10 0h1m22 0h1M117 519.5h1m10 0h1m22 0h1M106 520.5h1m2 0h1M107 521.5h1m45 0h1M128 522.5h1m31 0h1M101 523.5h1M115 525.5h1m18 0h1M105 526.5h1m4 0h1m11 0h1M102 527.5h1m5 0h1M112 528.5h1m7 0h1m33 0h1M105 529.5h1M114 530.5h1m1 0h1m18 0h1M120 531.5h1M120 532.5h1M109 533.5h2m41 0h1M118 534.5h1m15 0h1m26 0h1M120 535.5h1m12 0h1M105 536.5h1m6 0h1M109 537.5h1m44 0h1M116 538.5h1M105 539.5h1m30 0h1m27 0h1M113 540.5h1m37 0h1M108 542.5h1m12 0h1m13 0h1M125 543.5h1M117 544.5h1m28 0h2" stroke="#8c8c8c" stroke-width="1" fill="none" filter="url(#soft)"/>
<path d="M91 475.5h1M82 476.5h1m7 0h1m1 0h4m1 0h1M80 477.5h1m3 0h1m7 0h1m5 0h2M66 478.5h1m14 0h1m1 0h1m1 0h1m3 0h1m2 0h1m5 0h1M66 479.5h1m5 0h1m11 0h1m12 0h1m1 0h1M59 480.5h2m5 0h1m23 0h1M56 481.5h2m6 0h1m9 0h1m5 0h1m19 0h1M60 482.5h1m1 0h1m2 0h1m2 0h1m20 0h1m2 0h2m8 0h1M58 483.5h1m11 0h1m1 0h1m3 0h1m2 0h3m5 0h1m1 0h1m1 0h1m2 0h1M62 484.5h1m4 0h3m2 0h1m5 0h1m3 0h1m1 0h1m43 0h1M59 485.5h1m1 0h3m15 0h1m3 0h1m11 0h1m34 0h1m18 0h1M53 486.5h1m15 0h1m1 0h1m8 0h1m19 0h1m27 0h1m1 0h1m15 0h1m5 0h1M53 487.5h3m14 0h1m10 0h1m1 0h1m12 0h1m4 0h1m40 0h1M80 488.5h1m1 0h1m14 0h1m2 0h2m1 0h1m24 0h1M57 489.5h1m11 0h1m4 0h3m20 0h2M55 490.5h1m1 0h1m2 0h2m11 0h2m5 0h1m1 0h1m18 0h1m37 0h1M56 491.5h1m6 0h1m5 0h1m20 0h1m63 0h1M55 492.5h1m2 0h2m5 0h1m25 0h1m7 0h1m53 0h1M67 493.5h1m6 0h3m15 0h1m4 0h1M71 494.5h1m14 0h1m3 0h1m24 0h1m1 0h1m34 0h1M61 495.5h2m1 0h1m6 0h1m1 0h1m2 0h1m1 0h2m5 0h1m28 0h1M64 496.5h1m4 0h4m6 0h1m9 0h1m1 0h2m48 0h1M58 497.5h1m3 0h1m16 0h1m6 0h1m7 0h1m6 0h1m42 0h1m4 0h2M69 498.5h1m9 0h1m1 0h1m1 0h1m1 0h2m12 0h1m2 0h1m29 0h1M63 499.5h1m2 0h1m1 0h2m7 0h1m11 0h3m2 0h1m3 0h1m2 0h1m19 0h1m8 0h1m1 0h1m2 0h2m12 0h1M71 500.5h1m7 0h1m7 0h1m4 0h1m5 0h1m1 0h1m20 0h1m6 0h1m2 0h1m3 0h1M54 501.5h1m1 0h1m7 0h2m7 0h1m2 0h1m4 0h1m5 0h1m3 0h1m1 0h1m1 0h1m6 0h1m18 0h1m14 0h1M54 502.5h1m9 0h1m1 0h1m3 0h2m8 0h1m2 0h1m4 0h1m34 0h1M55 503.5h1m3 0h1m12 0h1m1 0h1m3 0h1m2 0h1m1 0h1m4 0h1m4 0h1M56 504.5h1m14 0h1m2 0h1m11 0h2m3 0h1m33 0h1m16 0h1M57 505.5h1m19 0h1m5 0h1m8 0h1m34 0h1m15 0h1M57 506.5h1m13 0h1m29 0h1m25 0h2M61 507.5h1m5 0h1m1 0h1m1 0h1m3 0h1m8 0h1m3 0h1m5 0h1m1 0h1m6 0h1m1 0h1m21 0h1M59 508.5h1m1 0h1m34 0h1m7 0h1m2 0h1M66 509.5h1m5 0h1m15 0h1m3 0h1m12 0h1m27 0h1m1 0h1M55 510.5h1m16 0h1m8 0h2m1 0h2m2 0h1m2 0h3m1 0h1M55 511.5h1m25 0h1m49 0h1m1 0h1M56 512.5h2m11 0h3m3 0h1m56 0h1M57 513.5h1m1 0h1m27 0h2m13 0h1M56 514.5h1m10 0h1m4 0h1m5 0h1m8 0h1m1 0h1M64 515.5h1m8 0h1m4 0h1m22 0h1M60 516.5h1m4 0h1m21 0h1m1 0h1M58 517.5h1m1 0h2m8 0h1m10 0h1m4 0h1m50 0h1m1 0h1m1 0h1m3 0h1M55 518.5h1m1 0h1m13 0h1m11 0h2m6 0h1m5 0h1m3 0h2m40 0h1M54 519.5h1m36 0h1m4 0h1m41 0h2M53 520.5h1m36 0h1m6 0h1m1 0h1m1 0h1m1 0h1m30 0h1M95 521.5h1m1 0h1m34 0h1m15 0h1M100 522.5h1m31 0h1m1 0h1m2 0h1m11 0h1M97 523.5h1m2 0h1m36 0h1m15 0h1M134 524.5h1M152 525.5h2M98 527.5h1m2 0h1m52 0h1M101 528.5h1m34 0h1m14 0h1M101 530.5h2M100 531.5h2M103 532.5h1m4 0h1M103 533.5h1m1 0h1M99 534.5h1m6 0h1M98 535.5h1m2 0h1M99 536.5h1m36 0h2M151 537.5h1M99 538.5h1m1 0h1m2 0h1m33 0h1M94 539.5h2m2 0h1m4 0h1M97 540.5h2m3 0h1m33 0h1M90 541.5h1m1 0h1m3 0h1m43 0h1M53 542.5h2m34 0h1m5 0h1m46 0h1m3 0h1M54 543.5h1m31 0h1m4 0h1m1 0h1m48 0h1M56 544.5h1m2 0h1m15 0h2m8 0h2m2 0h1" stroke="#5c5c5c" stroke-width="1" fill="none" filter="url(#soft)"/>
<path d="M62 483.5h1M60 484.5h1m9 0h1M147 486.5h1M144 487.5h3m2 0h3M143 488.5h1m2 0h6m1 0h1M141 489.5h11m1 0h1M140 490.5h1m1 0h12M74 491.5h2m64 0h11M141 492.5h11M141 493.5h1m1 0h8M142 494.5h3m1 0h3M143 495.5h1m2 0h2M85 496.5h1m1 0h1M87 497.5h1M82 504.5h1m7 0h1M78 505.5h1m1 0h1m9 0h1M72 506.5h1m3 0h1m1 0h1m1 0h1m1 0h1m6 0h3M73 507.5h1m3 0h2m1 0h1m1 0h1M71 508.5h1m1 0h2m2 0h1m6 0h4m2 0h1m2 0h2M78 509.5h1m5 0h1M76 510.5h3m1 0h1m5 0h1M78 511.5h2M76 512.5h1m1 0h2M78 513.5h1M68 514.5h2M66 515.5h1m1 0h1m1 0h1m6 0h1M68 516.5h1m6 0h1M66 517.5h1m1 0h2m4 0h4m1 0h1M65 518.5h1m2 0h1m4 0h2m1 0h1m1 0h3m1 0h1M58 519.5h2m1 0h1m4 0h2m5 0h1m2 0h2m1 0h1m4 0h3m53 0h1m2 0h1M55 520.5h1m2 0h1m2 0h10m1 0h1m1 0h1m1 0h1m1 0h5m4 0h1m1 0h1m52 0h1m1 0h2M54 521.5h1m2 0h10m1 0h4m1 0h2m1 0h2m3 0h1m1 0h2m1 0h1m1 0h2m49 0h1m1 0h5M54 522.5h3m2 0h1m1 0h20m3 0h3m1 0h1m1 0h1m50 0h1m1 0h1m2 0h2M53 523.5h2m2 0h1m1 0h10m1 0h12m1 0h7m4 0h1m44 0h1m1 0h1m1 0h4M53 524.5h13m1 0h14m1 0h9m1 0h1m1 0h4m41 0h2m1 0h1m1 0h1m1 0h1m1 0h2M53 525.5h34m4 0h2m1 0h1m1 0h1m1 0h1m40 0h1m1 0h1m1 0h4m1 0h1M53 526.5h35m1 0h1m3 0h1m1 0h1m1 0h1m1 0h1m37 0h4m2 0h8M53 527.5h1m1 0h36m1 0h1m4 0h1m41 0h5m1 0h5M53 528.5h38m3 0h2m1 0h1m40 0h3m1 0h2m1 0h3M53 529.5h35m1 0h3m1 0h4m42 0h2m1 0h1m1 0h6M53 530.5h37m2 0h4m2 0h1m40 0h5m1 0h2m1 0h1M54 531.5h30m1 0h8m1 0h1m1 0h3m38 0h1m1 0h1m1 0h3m1 0h5M53 532.5h32m1 0h1m1 0h3m1 0h1m1 0h3m3 0h1m37 0h9m1 0h2M53 533.5h33m1 0h2m1 0h2m2 0h1m1 0h1m1 0h1m39 0h9m2 0h2M53 534.5h30m1 0h3m1 0h1m2 0h1m2 0h2m1 0h1m40 0h1m1 0h2m1 0h5m1 0h2M53 535.5h36m1 0h1m1 0h4m1 0h1m42 0h2m1 0h1m1 0h3m1 0h1M53 536.5h35m1 0h1m3 0h2m1 0h1m43 0h1m1 0h4m2 0h3M54 537.5h1m1 0h37m1 0h2m45 0h2m2 0h3m1 0h2M53 538.5h3m1 0h5m1 0h21m1 0h2m1 0h1m1 0h2m4 0h1m43 0h1m1 0h2m1 0h2m1 0h2M54 539.5h5m1 0h21m1 0h6m1 0h1m51 0h1m1 0h2m3 0h1M55 540.5h1m1 0h29m3 0h1m52 0h3m1 0h1M54 541.5h5m2 0h23m5 0h1m53 0h3M57 542.5h1m1 0h11m1 0h2m2 0h1m3 0h2m1 0h1m1 0h1m1 0h1m1 0h1M58 543.5h1m1 0h1m1 0h3m1 0h1m1 0h5m1 0h2m1 0h5m1 0h2m2 0h1M60 544.5h1m1 0h3m2 0h7m3 0h1m1 0h1m1 0h1" stroke="#303030" stroke-width="1" fill="none" filter="url(#soft)"/>
<rect x="51.5" y="471.3" width="115.80000000000001" height="73.99999999999994" fill="none" stroke="#000" stroke-width="1.1" />
<line x1="51.5" y1="470.8" x2="51.5" y2="545.8" stroke="#000" stroke-width="1.3"/>
<line x1="51.0" y1="545.3" x2="167.8" y2="545.3" stroke="#000" stroke-width="1.3"/>
<line x1="105.5" y1="471.3" x2="105.5" y2="545.3" stroke="#000" stroke-width="1"/>
<line x1="51.5" y1="508.5" x2="167.3" y2="508.5" stroke="#000" stroke-width="1"/>
<path d="M51.5 545.3v2.8M51.5 545.3h-2.8M60.4 545.3v1.736M51.5 539.7h-1.736M65.6 545.3v1.736M51.5 536.5h-1.736M69.3 545.3v1.736M51.5 534.2h-1.736M72.1 545.3v1.736M51.5 532.4h-1.736M74.5 545.3v1.736M51.5 530.9h-1.736M76.4 545.3v1.736M51.5 529.7h-1.736M78.1 545.3v1.736M51.5 528.6h-1.736M79.7 545.3v1.736M51.5 527.6h-1.736M81.0 545.3v2.8M51.5 526.8h-2.8M89.9 545.3v1.736M51.5 521.2h-1.736M95.1 545.3v1.736M51.5 518.0h-1.736M98.8 545.3v1.736M51.5 515.7h-1.736M101.6 545.3v1.736M51.5 513.9h-1.736M104.0 545.3v1.736M51.5 512.4h-1.736M105.9 545.3v1.736M51.5 511.2h-1.736M107.6 545.3v1.736M51.5 510.1h-1.736M109.2 545.3v1.736M51.5 509.1h-1.736M110.5 545.3v2.8M51.5 508.3h-2.8M119.4 545.3v1.736M51.5 502.7h-1.736M124.6 545.3v1.736M51.5 499.5h-1.736M128.3 545.3v1.736M51.5 497.2h-1.736M131.1 545.3v1.736M51.5 495.4h-1.736M133.5 545.3v1.736M51.5 493.9h-1.736M135.4 545.3v1.736M51.5 492.7h-1.736M137.1 545.3v1.736M51.5 491.6h-1.736M138.7 545.3v1.736M51.5 490.6h-1.736M140.0 545.3v2.8M51.5 489.8h-2.8M148.9 545.3v1.736M51.5 484.2h-1.736M154.1 545.3v1.736M51.5 481.0h-1.736M157.8 545.3v1.736M51.5 478.7h-1.736M160.6 545.3v1.736M51.5 476.9h-1.736M163.0 545.3v1.736M51.5 475.4h-1.736M164.9 545.3v1.736M51.5 474.2h-1.736M166.6 545.3v1.736M51.5 473.1h-1.736M168.2 545.3v1.736M51.5 472.1h-1.736M169.5 545.3v2.8M51.5 471.3h-2.8" stroke="#000" stroke-width="0.7" fill="none"/>
<g font-weight="bold" class="lab"><text x="48.90" y="556.8" font-size="8.2" text-anchor="start" textLength="5.7" lengthAdjust="spacingAndGlyphs">10</text><text x="54.80" y="552.1999999999999" font-size="6.8" text-anchor="start" textLength="2.9" lengthAdjust="spacingAndGlyphs">0</text></g>
<g transform="rotate(-90 47.0 544.8)" font-weight="bold" class="lab"><text x="42.30" y="544.8" font-size="8.2" text-anchor="start" textLength="5.7" lengthAdjust="spacingAndGlyphs">10</text><text x="48.80" y="540.1999999999999" font-size="6.8" text-anchor="start" textLength="2.9" lengthAdjust="spacingAndGlyphs">0</text></g>
<g font-weight="bold" class="lab"><text x="76.80" y="556.8" font-size="8.2" text-anchor="start" textLength="5.7" lengthAdjust="spacingAndGlyphs">10</text><text x="82.70" y="552.1999999999999" font-size="6.8" text-anchor="start" textLength="2.9" lengthAdjust="spacingAndGlyphs">1</text></g>
<g transform="rotate(-90 47.0 526.3)" font-weight="bold" class="lab"><text x="42.30" y="526.3" font-size="8.2" text-anchor="start" textLength="5.7" lengthAdjust="spacingAndGlyphs">10</text><text x="48.80" y="521.6999999999999" font-size="6.8" text-anchor="start" textLength="2.9" lengthAdjust="spacingAndGlyphs">1</text></g>
<g font-weight="bold" class="lab"><text x="106.30" y="556.8" font-size="8.2" text-anchor="start" textLength="5.7" lengthAdjust="spacingAndGlyphs">10</text><text x="112.20" y="552.1999999999999" font-size="6.8" text-anchor="start" textLength="2.9" lengthAdjust="spacingAndGlyphs">2</text></g>
<g transform="rotate(-90 47.0 507.79999999999995)" font-weight="bold" class="lab"><text x="42.30" y="507.79999999999995" font-size="8.2" text-anchor="start" textLength="5.7" lengthAdjust="spacingAndGlyphs">10</text><text x="48.80" y="503.19999999999993" font-size="6.8" text-anchor="start" textLength="2.9" lengthAdjust="spacingAndGlyphs">2</text></g>
<g font-weight="bold" class="lab"><text x="135.80" y="556.8" font-size="8.2" text-anchor="start" textLength="5.7" lengthAdjust="spacingAndGlyphs">10</text><text x="141.70" y="552.1999999999999" font-size="6.8" text-anchor="start" textLength="2.9" lengthAdjust="spacingAndGlyphs">3</text></g>
<g transform="rotate(-90 47.0 489.3)" font-weight="bold" class="lab"><text x="42.30" y="489.3" font-size="8.2" text-anchor="start" textLength="5.7" lengthAdjust="spacingAndGlyphs">10</text><text x="48.80" y="484.7" font-size="6.8" text-anchor="start" textLength="2.9" lengthAdjust="spacingAndGlyphs">3</text></g>
<g font-weight="bold" class="lab"><text x="165.30" y="556.8" font-size="8.2" text-anchor="start" textLength="5.7" lengthAdjust="spacingAndGlyphs">10</text><text x="171.20" y="552.1999999999999" font-size="6.8" text-anchor="start" textLength="2.9" lengthAdjust="spacingAndGlyphs">4</text></g>
<g transform="rotate(-90 47.0 470.8)" font-weight="bold" class="lab"><text x="42.30" y="470.8" font-size="8.2" text-anchor="start" textLength="5.7" lengthAdjust="spacingAndGlyphs">10</text><text x="48.80" y="466.2" font-size="6.8" text-anchor="start" textLength="2.9" lengthAdjust="spacingAndGlyphs">4</text></g>
<path d="M282 474.5h1M322 475.5h1M299 477.5h1M242 478.5h1m14 0h1m73 0h1M334 479.5h1M291 480.5h1m13 0h1M251 481.5h1m54 0h1M292 482.5h1m22 0h1M224 483.5h1m37 0h1m10 0h1m54 0h1M229 484.5h1m36 0h1m40 0h1M225 485.5h1m40 0h1m6 0h1m2 0h1M318 486.5h1m12 0h1M269 487.5h1M317 490.5h1M318 491.5h1M321 492.5h1M331 493.5h1M268 497.5h1m44 0h1M326 498.5h1M272 499.5h1M235 500.5h1m22 0h1m69 0h1M248 502.5h1m15 0h1m4 0h1m34 0h1m8 0h1M258 503.5h1m19 0h1M256 504.5h1m15 0h1m45 0h1m1 0h1M227 505.5h1m14 0h1m5 0h1m8 0h1M235 506.5h1m6 0h1m19 0h1m10 0h1m14 0h1M230 507.5h1m41 0h1m23 0h1m9 0h1M227 508.5h1m21 0h1m8 0h1M253 509.5h1M246 510.5h1m3 0h1m18 0h1m16 0h1M227 511.5h1m34 0h1m27 0h1m12 0h1m5 0h1M272 512.5h1m38 0h1M265 513.5h1m41 0h1m15 0h1M261 517.5h1m41 0h1M282 518.5h1m15 0h1M273 519.5h1M268 520.5h1m4 0h1m2 0h1M269 521.5h1m11 0h1m23 0h1M265 522.5h1m16 0h1M279 523.5h1M267 524.5h1m19 0h1m7 0h2m9 0h1m7 0h1M269 527.5h1m1 0h1m2 0h1m3 0h1m14 0h1M275 528.5h1m20 0h1M268 529.5h1m19 0h1m7 0h1M299 530.5h1M267 531.5h1m5 0h1M272 532.5h1m9 0h1M311 533.5h1M302 534.5h1M274 535.5h1m22 0h1m1 0h1M266 536.5h1m7 0h1m5 0h1M269 537.5h1M292 538.5h1M264 539.5h1M274 540.5h1m4 0h1M275 541.5h1m3 0h1m21 0h1m1 0h1M266 542.5h1M287 543.5h1m9 0h1M263 544.5h1m8 0h1M273 545.5h1" stroke="#8c8c8c" stroke-width="1" fill="none" filter="url(#soft)"/>
<path d="M311 482.5h2M236 483.5h1m14 0h1m50 0h1m12 0h2M231 484.5h1m2 0h1m8 0h1m10 0h2m34 0h1m8 0h1m11 0h2M239 485.5h1m7 0h1m1 0h1m2 0h1m2 0h1m1 0h2m29 0h1m15 0h1m8 0h1m1 0h1m5 0h1M225 486.5h1m5 0h1m16 0h1m1 0h2m7 0h2m34 0h1m9 0h1m6 0h1m6 0h1m1 0h1m1 0h1M228 487.5h2m45 0h1m22 0h1m6 0h1m4 0h1m10 0h1M224 488.5h1m45 0h1m2 0h1m3 0h2m29 0h1m1 0h1m1 0h2M264 489.5h1m1 0h1m2 0h1m6 0h1M263 490.5h1m41 0h1m7 0h1M309 491.5h1m3 0h1M266 492.5h1m1 0h1m40 0h1m2 0h1M224 493.5h1m40 0h1m2 0h1m45 0h2M224 494.5h1m90 0h1M267 495.5h1m42 0h2m1 0h1m2 0h1M264 496.5h1m4 0h1m1 0h1M232 497.5h1m2 0h1m24 0h1m4 0h1m6 0h1m35 0h1M227 498.5h3m2 0h1m5 0h1m4 0h1m11 0h1m2 0h1m48 0h1M236 499.5h1m1 0h1m7 0h1m7 0h2m1 0h1m17 0h2m3 0h1m28 0h2M249 500.5h1m54 0h1M251 501.5h1m27 0h1m4 0h1m17 0h1m8 0h1M280 502.5h2m1 0h1M285 503.5h1m6 0h1M288 504.5h1m6 0h1m2 0h2M298 505.5h1M237 507.5h1m2 0h1M236 508.5h1M232 509.5h1m5 0h1m2 0h1m17 0h1M227 510.5h1m4 0h2m2 0h1m7 0h1M230 511.5h1m8 0h1m13 0h1m3 0h1m1 0h1M229 512.5h1m1 0h2m3 0h1m5 0h1m3 0h1m2 0h1m4 0h1M233 513.5h1m2 0h1m9 0h2m6 0h1m2 0h1M242 514.5h1m2 0h1m4 0h1m5 0h1M247 515.5h1m10 0h1M256 516.5h1m1 0h1m3 0h1M225 517.5h2m21 0h1m15 0h1M254 518.5h1m1 0h1m1 0h1m5 0h1M225 519.5h1m37 0h1m1 0h1M224 520.5h1m35 0h2m8 0h1M272 521.5h1M261 523.5h1M261 524.5h2m2 0h1M261 526.5h1m1 0h1M263 527.5h1M260 528.5h1M264 529.5h1M262 530.5h1M263 531.5h1M262 533.5h1m1 0h1m2 0h1M268 534.5h1M269 535.5h1M264 536.5h1M260 537.5h1M261 538.5h1m1 0h1M256 539.5h2m11 0h1M257 540.5h1m3 0h1m6 0h2M259 541.5h1m1 0h1m7 0h1M257 542.5h1M260 543.5h1m13 0h1M225 544.5h1m31 0h1m1 0h2m1 0h1M253 545.5h1m3 0h1" stroke="#5c5c5c" stroke-width="1" fill="none" filter="url(#soft)"/>
<path d="M237 484.5h2m62 0h1M234 485.5h3m3 0h1m1 0h2m1 0h1m53 0h1m2 0h1M232 486.5h1m1 0h1m1 0h2m1 0h1m2 0h2m1 0h1m42 0h3m8 0h3m1 0h1M235 487.5h2m1 0h2m2 0h3m2 0h1m5 0h1m32 0h1m3 0h2m2 0h2m3 0h1m1 0h2M225 488.5h3m2 0h3m1 0h1m1 0h1m1 0h4m1 0h1m1 0h4m2 0h4m1 0h2m1 0h2m21 0h1m1 0h1m1 0h2m3 0h2m1 0h2m1 0h1m3 0h1m2 0h1M225 489.5h2m3 0h2m1 0h4m1 0h12m1 0h3m1 0h1m1 0h2m1 0h1m17 0h3m2 0h7m2 0h3m1 0h2m4 0h1M226 490.5h2m2 0h1m2 0h8m1 0h4m1 0h4m2 0h1m1 0h6m7 0h2m1 0h1m1 0h1m1 0h1m3 0h1m1 0h10m1 0h8m1 0h4m1 0h1M225 491.5h1m2 0h6m1 0h20m1 0h6m4 0h1m2 0h1m1 0h1m1 0h1m1 0h2m2 0h5m1 0h10m1 0h4m1 0h2m1 0h1m1 0h1M226 492.5h4m1 0h2m1 0h29m8 0h3m2 0h1m1 0h1m1 0h3m1 0h4m1 0h12m1 0h1m1 0h1m3 0h1m2 0h1M226 493.5h3m1 0h18m1 0h9m1 0h1m2 0h1m1 0h1m6 0h1m1 0h1m1 0h1m1 0h3m2 0h10m1 0h8m1 0h1m2 0h2m2 0h1M225 494.5h3m1 0h7m2 0h5m1 0h2m2 0h4m1 0h3m1 0h6m2 0h1m6 0h1m2 0h1m1 0h23m1 0h5m1 0h1m1 0h2M227 495.5h2m1 0h1m3 0h12m2 0h4m1 0h4m1 0h1m1 0h1m2 0h1m1 0h1m8 0h1m1 0h2m2 0h1m2 0h3m1 0h16m1 0h1M227 496.5h2m1 0h1m2 0h1m1 0h1m2 0h2m1 0h1m3 0h6m1 0h3m2 0h1m2 0h2m1 0h1m9 0h1m1 0h29m1 0h2M229 497.5h1m8 0h1m3 0h5m3 0h3m2 0h1m18 0h5m2 0h13m1 0h5m1 0h1m1 0h2M247 498.5h1m3 0h2m28 0h1m1 0h15m1 0h2m1 0h1m1 0h1M250 499.5h1m1 0h1m24 0h1m1 0h1m3 0h1m1 0h1m1 0h4m1 0h7m1 0h1m1 0h2M281 500.5h1m3 0h1m1 0h12m1 0h1M283 501.5h1m1 0h1m1 0h2m2 0h6m2 0h2M288 502.5h2m3 0h1m1 0h1m2 0h1M295 503.5h1m1 0h1M238 511.5h1m1 0h1M238 512.5h1m1 0h1M239 513.5h1M235 514.5h1m2 0h1m13 0h1M228 515.5h1m1 0h1m1 0h1m4 0h1m3 0h2m8 0h3M227 516.5h4m1 0h1m1 0h4m1 0h2m1 0h2m5 0h1m1 0h3M228 517.5h1m1 0h2m1 0h1m2 0h1m2 0h1m1 0h6m4 0h1M228 518.5h2m1 0h4m1 0h3m2 0h2m1 0h1m2 0h1m1 0h1m1 0h1M231 519.5h3m1 0h4m1 0h3m3 0h2m3 0h2M225 520.5h2m2 0h1m1 0h1m1 0h2m2 0h9m1 0h3m1 0h1m3 0h2m1 0h2M225 521.5h1m1 0h18m1 0h1m1 0h2m2 0h3m2 0h1m1 0h1M225 522.5h6m1 0h18m1 0h4m3 0h1m1 0h1M224 523.5h18m1 0h13m1 0h3M225 524.5h2m1 0h23m1 0h3m1 0h2M224 525.5h1m1 0h22m1 0h1m1 0h1m3 0h2m1 0h1M225 526.5h25m1 0h4m2 0h1M224 527.5h1m1 0h2m1 0h22m1 0h1m1 0h1m2 0h1M224 528.5h30m1 0h2m2 0h1m1 0h1M224 529.5h1m1 0h3m1 0h24m1 0h3m1 0h2M224 530.5h23m2 0h9m1 0h1M224 531.5h30m1 0h2m1 0h1m2 0h1M224 532.5h1m1 0h31m1 0h1M224 533.5h34m1 0h2M224 534.5h27m1 0h4m1 0h4m1 0h1M224 535.5h26m1 0h5m2 0h3M224 536.5h26m1 0h6m1 0h1m1 0h1m1 0h1M224 537.5h30M225 538.5h3m1 0h22m1 0h4M224 539.5h24m1 0h4M224 540.5h31M225 541.5h3m1 0h18m1 0h1m1 0h4M225 542.5h1m1 0h9m1 0h1m1 0h6m1 0h1m1 0h7M225 543.5h3m1 0h12m1 0h4m1 0h4m1 0h4m3 0h1M227 544.5h3m1 0h5m2 0h9m1 0h5M227 545.5h1m1 0h2m1 0h2m2 0h1m1 0h7m1 0h1m1 0h1m1 0h2" stroke="#303030" stroke-width="1" fill="none" filter="url(#soft)"/>
<rect x="222.5" y="471.8" width="113.89999999999998" height="74.59999999999997" fill="none" stroke="#000" stroke-width="1.1" />
<line x1="222.5" y1="471.3" x2="222.5" y2="546.9" stroke="#000" stroke-width="1.3"/>
<line x1="222.0" y1="546.4" x2="336.9" y2="546.4" stroke="#000" stroke-width="1.3"/>
<line x1="275.5" y1="471.8" x2="275.5" y2="546.4" stroke="#000" stroke-width="1"/>
<line x1="222.5" y1="509.5" x2="336.4" y2="509.5" stroke="#000" stroke-width="1"/>
<path d="M222.5 546.4v2.8M222.5 546.4h-2.8M231.1 546.4v1.736M222.5 540.8h-1.736M236.1 546.4v1.736M222.5 537.5h-1.736M239.6 546.4v1.736M222.5 535.2h-1.736M242.4 546.4v1.736M222.5 533.4h-1.736M244.7 546.4v1.736M222.5 531.9h-1.736M246.6 546.4v1.736M222.5 530.6h-1.736M248.2 546.4v1.736M222.5 529.6h-1.736M249.7 546.4v1.736M222.5 528.6h-1.736M251.0 546.4v2.8M222.5 527.8h-2.8M259.5 546.4v1.736M222.5 522.1h-1.736M264.6 546.4v1.736M222.5 518.9h-1.736M268.1 546.4v1.736M222.5 516.5h-1.736M270.9 546.4v1.736M222.5 514.7h-1.736M273.1 546.4v1.736M222.5 513.2h-1.736M275.0 546.4v1.736M222.5 512.0h-1.736M276.7 546.4v1.736M222.5 510.9h-1.736M278.1 546.4v1.736M222.5 510.0h-1.736M279.4 546.4v2.8M222.5 509.1h-2.8M288.0 546.4v1.736M222.5 503.5h-1.736M293.0 546.4v1.736M222.5 500.2h-1.736M296.6 546.4v1.736M222.5 497.9h-1.736M299.4 546.4v1.736M222.5 496.1h-1.736M301.6 546.4v1.736M222.5 494.6h-1.736M303.5 546.4v1.736M222.5 493.3h-1.736M305.2 546.4v1.736M222.5 492.3h-1.736M306.6 546.4v1.736M222.5 491.3h-1.736M307.9 546.4v2.8M222.5 490.4h-2.8M316.5 546.4v1.736M222.5 484.8h-1.736M321.5 546.4v1.736M222.5 481.6h-1.736M325.1 546.4v1.736M222.5 479.2h-1.736M327.8 546.4v1.736M222.5 477.4h-1.736M330.1 546.4v1.736M222.5 475.9h-1.736M332.0 546.4v1.736M222.5 474.7h-1.736M333.6 546.4v1.736M222.5 473.6h-1.736M335.1 546.4v1.736M222.5 472.7h-1.736M336.4 546.4v2.8M222.5 471.8h-2.8" stroke="#000" stroke-width="0.7" fill="none"/>
<g font-weight="bold" class="lab"><text x="219.90" y="557.9" font-size="8.2" text-anchor="start" textLength="5.7" lengthAdjust="spacingAndGlyphs">10</text><text x="225.80" y="553.3" font-size="6.8" text-anchor="start" textLength="2.9" lengthAdjust="spacingAndGlyphs">0</text></g>
<g transform="rotate(-90 218.0 545.9)" font-weight="bold" class="lab"><text x="213.30" y="545.9" font-size="8.2" text-anchor="start" textLength="5.7" lengthAdjust="spacingAndGlyphs">10</text><text x="219.80" y="541.3" font-size="6.8" text-anchor="start" textLength="2.9" lengthAdjust="spacingAndGlyphs">0</text></g>
<g font-weight="bold" class="lab"><text x="246.77" y="557.9" font-size="8.2" text-anchor="start" textLength="5.7" lengthAdjust="spacingAndGlyphs">10</text><text x="252.67" y="553.3" font-size="6.8" text-anchor="start" textLength="2.9" lengthAdjust="spacingAndGlyphs">1</text></g>
<g transform="rotate(-90 218.0 527.25)" font-weight="bold" class="lab"><text x="213.30" y="527.25" font-size="8.2" text-anchor="start" textLength="5.7" lengthAdjust="spacingAndGlyphs">10</text><text x="219.80" y="522.65" font-size="6.8" text-anchor="start" textLength="2.9" lengthAdjust="spacingAndGlyphs">1</text></g>
<g font-weight="bold" class="lab"><text x="275.25" y="557.9" font-size="8.2" text-anchor="start" textLength="5.7" lengthAdjust="spacingAndGlyphs">10</text><text x="281.15" y="553.3" font-size="6.8" text-anchor="start" textLength="2.9" lengthAdjust="spacingAndGlyphs">2</text></g>
<g transform="rotate(-90 218.0 508.6)" font-weight="bold" class="lab"><text x="213.30" y="508.6" font-size="8.2" text-anchor="start" textLength="5.7" lengthAdjust="spacingAndGlyphs">10</text><text x="219.80" y="504.0" font-size="6.8" text-anchor="start" textLength="2.9" lengthAdjust="spacingAndGlyphs">2</text></g>
<g font-weight="bold" class="lab"><text x="303.72" y="557.9" font-size="8.2" text-anchor="start" textLength="5.7" lengthAdjust="spacingAndGlyphs">10</text><text x="309.62" y="553.3" font-size="6.8" text-anchor="start" textLength="2.9" lengthAdjust="spacingAndGlyphs">3</text></g>
<g transform="rotate(-90 218.0 489.95)" font-weight="bold" class="lab"><text x="213.30" y="489.95" font-size="8.2" text-anchor="start" textLength="5.7" lengthAdjust="spacingAndGlyphs">10</text><text x="219.80" y="485.34999999999997" font-size="6.8" text-anchor="start" textLength="2.9" lengthAdjust="spacingAndGlyphs">3</text></g>
<g font-weight="bold" class="lab"><text x="332.20" y="557.9" font-size="8.2" text-anchor="start" textLength="5.7" lengthAdjust="spacingAndGlyphs">10</text><text x="338.10" y="553.3" font-size="6.8" text-anchor="start" textLength="2.9" lengthAdjust="spacingAndGlyphs">4</text></g>
<g transform="rotate(-90 218.0 471.3)" font-weight="bold" class="lab"><text x="213.30" y="471.3" font-size="8.2" text-anchor="start" textLength="5.7" lengthAdjust="spacingAndGlyphs">10</text><text x="219.80" y="466.7" font-size="6.8" text-anchor="start" textLength="2.9" lengthAdjust="spacingAndGlyphs">4</text></g>
<path d="M414 474.5h1m20 0h1M412 475.5h1m2 0h1m10 0h1m21 0h1m8 0h1m8 0h1M405 476.5h1m12 0h1m25 0h1m5 0h1M423 477.5h1m7 0h1m12 0h1m5 0h1m36 0h1m8 0h1M459 478.5h1M407 480.5h1m37 0h1M486 481.5h1M419 482.5h1m50 0h1M436 483.5h1m29 0h1M420 484.5h1m25 0h1m28 0h1M402 485.5h1m2 0h1m6 0h1m17 0h1m28 0h1m3 0h1m30 0h1M427 486.5h1m27 0h1m25 0h1m12 0h1m8 0h1M446 487.5h1m26 0h1m25 0h1M405 488.5h1m44 0h1M457 490.5h1M407 491.5h1m21 0h1M457 492.5h1M403 493.5h1m47 0h1m50 0h1M416 494.5h1M435 496.5h1m2 0h1M508 497.5h1M401 498.5h1m12 0h1m93 0h1M402 499.5h1m6 0h1m26 0h1m3 0h1m9 0h1m54 0h1M435 500.5h1m75 0h1M405 501.5h1m49 0h1M411 502.5h1m46 0h1M401 503.5h1m17 0h1m78 0h1m2 0h1M496 504.5h1M412 505.5h1m20 0h1M449 506.5h1m8 0h1m9 0h1m27 0h1m3 0h1m3 0h1M452 507.5h1m54 0h1M403 508.5h1m59 0h1M453 509.5h1m43 0h1M427 510.5h1m24 0h1m16 0h1m23 0h1M405 511.5h1m2 0h1m51 0h1m8 0h1m26 0h1M404 512.5h1m8 0h1m45 0h1M440 513.5h1m1 0h2M429 514.5h1m42 0h1m5 0h1m1 0h1m14 0h2M404 515.5h2m2 0h1m59 0h1m23 0h1M446 516.5h1M452 517.5h1m5 0h1m29 0h1m6 0h1m1 0h1m4 0h1M469 518.5h1m12 0h1m10 0h1M457 519.5h1m41 0h1M475 520.5h1M448 521.5h1m5 0h1m38 0h1M475 522.5h1m4 0h1M490 523.5h1m2 0h1M470 524.5h1m7 0h1m17 0h1m1 0h2M458 525.5h1m9 0h1M454 526.5h1m26 0h1M467 527.5h1m11 0h1m5 0h1m6 0h1m7 0h2M497 528.5h1M454 529.5h1m23 0h1M475 530.5h1m8 0h1m8 0h1M483 531.5h1M454 532.5h1m25 0h1M464 533.5h1m4 0h1m27 0h1M477 534.5h1m3 0h1M452 535.5h1m5 0h1m1 0h1m10 0h1m18 0h1m2 0h2M450 538.5h1m11 0h1m9 0h1m9 0h1M449 539.5h1m3 0h1m26 0h1m17 0h1M452 540.5h1m14 0h1m30 0h1M445 541.5h1m24 0h1m18 0h1M449 542.5h1m20 0h1m22 0h1m4 0h1M442 543.5h1m9 0h1m34 0h1M448 544.5h1m22 0h1M450 545.5h1M481 546.5h1m6 0h1" stroke="#8c8c8c" stroke-width="1" fill="none" filter="url(#soft)"/>
<path d="M429 476.5h1m10 0h1M404 477.5h1m4 0h1m4 0h1m3 0h2m8 0h1m9 0h2M406 478.5h1m3 0h2m1 0h1m7 0h1m5 0h1m11 0h1M402 479.5h1m5 0h1m7 0h1m6 0h1m2 0h1m7 0h1m3 0h1M401 480.5h1m1 0h1m7 0h3m2 0h1m5 0h1m2 0h1m1 0h2m3 0h1m3 0h1m2 0h1m7 0h1m1 0h1M402 481.5h1m9 0h1m9 0h1m10 0h1m6 0h1m1 0h1m5 0h2M403 482.5h1m10 0h1m2 0h1m4 0h1m2 0h2m7 0h1m5 0h2m8 0h1M413 483.5h1m28 0h1m3 0h1m37 0h2M401 484.5h1m13 0h1m7 0h2m3 0h1m9 0h1m9 0h1m36 0h1M417 485.5h1m15 0h1m5 0h1m36 0h2m4 0h1M402 486.5h1m12 0h1m8 0h1m7 0h1m2 0h2m4 0h1m36 0h2m4 0h1m3 0h1M409 487.5h1m8 0h1m4 0h1m11 0h2m3 0h1m1 0h1m41 0h1m4 0h3M402 488.5h2m4 0h2m3 0h1m3 0h1m2 0h2m1 0h2m5 0h3m7 0h1m5 0h1m1 0h1m19 0h1m3 0h1m2 0h1m11 0h1M402 489.5h1m5 0h1m2 0h1m2 0h1m4 0h1m3 0h1m10 0h1m35 0h1m22 0h2M403 490.5h1m4 0h1m2 0h1m3 0h1m7 0h1m7 0h1m29 0h1m1 0h1m25 0h1M412 491.5h1m1 0h3m4 0h2m4 0h1m5 0h2m3 0h1m24 0h1m1 0h1M424 492.5h1m9 0h2m1 0h1m2 0h1m19 0h1m37 0h1M420 493.5h1m4 0h2m5 0h1m3 0h2m7 0h4m10 0h2m37 0h2M408 494.5h1m3 0h2m5 0h1m2 0h1m2 0h2m1 0h1m12 0h1m8 0h1M407 495.5h1m1 0h1m3 0h1m4 0h1m1 0h1m1 0h2m4 0h2m9 0h1m2 0h1M406 496.5h1m1 0h1m2 0h1m7 0h1m8 0h1m17 0h1m2 0h2m6 0h1m40 0h2M410 497.5h1m7 0h1m4 0h2m17 0h1m1 0h1m1 0h1m2 0h1m9 0h1m39 0h1m1 0h1M403 498.5h1m2 0h1m6 0h1m14 0h1m1 0h2m23 0h1m1 0h1m41 0h1M405 499.5h1m10 0h1m3 0h1m1 0h1m6 0h1m2 0h1m14 0h1m7 0h1m2 0h1m1 0h2m34 0h1M411 500.5h1m10 0h3m21 0h1m49 0h1M414 501.5h1m9 0h1m2 0h2m2 0h2m4 0h1m6 0h3m4 0h1m39 0h2m3 0h1M413 502.5h1m11 0h1m13 0h2m2 0h1m5 0h1M403 503.5h1m11 0h1m24 0h1m4 0h1m4 0h2m4 0h1m1 0h1m4 0h1m1 0h3m2 0h1M401 504.5h1m13 0h1m4 0h1m1 0h1m5 0h1m15 0h1m20 0h1m22 0h1m4 0h1M407 505.5h1m6 0h2m5 0h2m2 0h1m2 0h1m8 0h1m3 0h1m2 0h1m10 0h2m15 0h1m5 0h1m5 0h1m2 0h1m1 0h1m1 0h2M403 506.5h1m7 0h1m14 0h1m9 0h1m2 0h1m1 0h1m2 0h1m10 0h1m18 0h1m3 0h2m2 0h1m2 0h1m3 0h1M404 507.5h1m1 0h3m13 0h1m5 0h1m6 0h1m9 0h1m2 0h2m7 0h1m14 0h1M408 508.5h1m1 0h1m1 0h1m1 0h4m4 0h1m10 0h1m1 0h2m2 0h1m1 0h2m1 0h1m29 0h1m1 0h1m3 0h4m1 0h1M412 509.5h1m4 0h1m1 0h1m4 0h2m4 0h1m18 0h1m30 0h1m1 0h1m1 0h1M408 510.5h1m19 0h1m1 0h1m17 0h3m44 0h1M411 511.5h1m1 0h1m3 0h1m4 0h1m15 0h1m34 0h2M420 512.5h1m2 0h1m49 0h1m2 0h1M418 513.5h1m6 0h1m49 0h1M419 514.5h1m2 0h1m9 0h2m2 0h1M407 515.5h1m1 0h1m2 0h1m2 0h1m4 0h1m3 0h1M411 516.5h1m3 0h1m11 0h1m8 0h1m2 0h1m3 0h2M427 517.5h1m2 0h1m2 0h2m2 0h1m2 0h1m1 0h1M405 518.5h1m1 0h1m29 0h1m3 0h1m2 0h1m7 0h1m31 0h1M401 519.5h1m42 0h1m7 0h1m33 0h1M445 520.5h1m4 0h1m34 0h1M440 521.5h1m1 0h1m1 0h1m37 0h1m1 0h1m1 0h1M437 522.5h4m5 0h1m5 0h1m31 0h1m2 0h1M443 523.5h1m41 0h1m2 0h1M443 524.5h1m6 0h1M450 525.5h1m40 0h1M443 526.5h1m7 0h1M443 527.5h1m1 0h2m2 0h1M400 528.5h1m43 0h1m3 0h1M448 529.5h1m1 0h4M451 530.5h1M449 532.5h1M449 534.5h1m2 0h1M451 535.5h1M446 536.5h1M446 537.5h1m45 0h1M445 538.5h2M442 540.5h1m1 0h1M439 543.5h1m1 0h1M401 545.5h1M403 546.5h1m23 0h1m2 0h1m2 0h1" stroke="#5c5c5c" stroke-width="1" fill="none" filter="url(#soft)"/>
<path d="M424 482.5h1M433 488.5h1m51 0h1M432 489.5h1m9 0h2m33 0h1m1 0h1m2 0h3m1 0h2M413 490.5h1m28 0h1m1 0h1m22 0h1m1 0h1m1 0h1m1 0h4m1 0h1m1 0h6m8 0h2M441 491.5h4m21 0h1m1 0h2m2 0h14m1 0h1m3 0h1m1 0h2M442 492.5h1m1 0h1m16 0h1m2 0h1m1 0h5m3 0h4m1 0h4m1 0h2m1 0h2m4 0h3M440 493.5h1m27 0h2m1 0h20m1 0h3m1 0h1M447 494.5h1m13 0h4m1 0h2m1 0h23m5 0h1M447 495.5h1m13 0h1m1 0h3m1 0h26m1 0h1m2 0h1M448 496.5h1m12 0h1m5 0h2m1 0h23m1 0h1M464 497.5h4m1 0h5m1 0h18m1 0h1m1 0h1M462 498.5h2m4 0h25m1 0h1m2 0h1M463 499.5h2m4 0h1m1 0h18m2 0h1m1 0h1m1 0h1M430 500.5h1m32 0h3m2 0h14m1 0h6M463 501.5h1m3 0h1m6 0h3m2 0h3m2 0h7M466 502.5h1m2 0h4m1 0h6m1 0h6m3 0h1M425 503.5h1m1 0h1m14 0h1m1 0h1m27 0h1m1 0h1m1 0h2m2 0h5m3 0h1m2 0h1M424 504.5h1m17 0h1m28 0h1m1 0h1m3 0h1m7 0h1m3 0h1M423 505.5h1m2 0h1M416 506.5h1M416 507.5h1m6 0h1M434 509.5h1M432 510.5h1m2 0h1M431 511.5h1m1 0h4M431 512.5h4m1 0h1M432 513.5h1m2 0h1M422 515.5h2M414 516.5h1m6 0h1M413 517.5h2m5 0h2m1 0h2m4 0h1m2 0h1m2 0h1M409 518.5h4m1 0h3m1 0h1m2 0h1m1 0h2m2 0h1m2 0h2M408 519.5h1m1 0h1m1 0h1m1 0h1m2 0h2m3 0h2m1 0h1m2 0h3m2 0h3M402 520.5h1m1 0h1m1 0h2m1 0h2m1 0h4m1 0h4m1 0h1m2 0h6m1 0h1m9 0h1M401 521.5h2m1 0h3m1 0h1m1 0h2m1 0h4m1 0h1m1 0h1m1 0h3m1 0h1m2 0h1m1 0h4M402 522.5h13m1 0h14m1 0h5m5 0h1M401 523.5h3m1 0h1m1 0h8m1 0h15m1 0h4M402 524.5h1m1 0h26m1 0h1m2 0h2m1 0h1m2 0h1M402 525.5h1m1 0h29m1 0h2m1 0h3M405 526.5h31m3 0h1m2 0h1M402 527.5h7m1 0h32M401 528.5h40M402 529.5h37m2 0h1M401 530.5h1m1 0h35m1 0h5M401 531.5h39m1 0h1m3 0h4M401 532.5h34m1 0h5m3 0h4M400 533.5h41m3 0h1m1 0h1m1 0h1M401 534.5h45m1 0h1M402 535.5h36m1 0h3M401 536.5h1m1 0h37m1 0h2M401 537.5h36m2 0h4m1 0h1M401 538.5h38m1 0h3M401 539.5h35m1 0h1m2 0h1m3 0h1M401 540.5h4m2 0h29m1 0h3m1 0h1M401 541.5h39M401 542.5h6m1 0h28m3 0h1M403 543.5h6m2 0h9m1 0h13m1 0h3M402 544.5h3m1 0h5m2 0h4m1 0h7m1 0h1m1 0h2m3 0h3M404 545.5h1m2 0h4m1 0h2m1 0h7m2 0h2m1 0h2m4 0h2M404 546.5h3m2 0h2m3 0h8m1 0h1m1 0h1" stroke="#303030" stroke-width="1" fill="none" filter="url(#soft)"/>
<rect x="399.3" y="472.2" width="113.90000000000003" height="75.19999999999999" fill="none" stroke="#000" stroke-width="1.1" />
<line x1="399.3" y1="471.7" x2="399.3" y2="547.9" stroke="#000" stroke-width="1.3"/>
<line x1="398.8" y1="547.4" x2="513.7" y2="547.4" stroke="#000" stroke-width="1.3"/>
<line x1="452.5" y1="472.2" x2="452.5" y2="547.4" stroke="#000" stroke-width="1"/>
<line x1="399.3" y1="509.5" x2="513.2" y2="509.5" stroke="#000" stroke-width="1"/>
<path d="M399.3 547.4v2.8M399.3 547.4h-2.8M407.9 547.4v1.736M399.3 541.7h-1.736M412.9 547.4v1.736M399.3 538.4h-1.736M416.4 547.4v1.736M399.3 536.1h-1.736M419.2 547.4v1.736M399.3 534.3h-1.736M421.5 547.4v1.736M399.3 532.8h-1.736M423.4 547.4v1.736M399.3 531.5h-1.736M425.0 547.4v1.736M399.3 530.4h-1.736M426.5 547.4v1.736M399.3 529.5h-1.736M427.8 547.4v2.8M399.3 528.6h-2.8M436.3 547.4v1.736M399.3 522.9h-1.736M441.4 547.4v1.736M399.3 519.6h-1.736M444.9 547.4v1.736M399.3 517.3h-1.736M447.7 547.4v1.736M399.3 515.5h-1.736M449.9 547.4v1.736M399.3 514.0h-1.736M451.8 547.4v1.736M399.3 512.7h-1.736M453.5 547.4v1.736M399.3 511.6h-1.736M454.9 547.4v1.736M399.3 510.7h-1.736M456.2 547.4v2.8M399.3 509.8h-2.8M464.8 547.4v1.736M399.3 504.1h-1.736M469.8 547.4v1.736M399.3 500.8h-1.736M473.4 547.4v1.736M399.3 498.5h-1.736M476.2 547.4v1.736M399.3 496.7h-1.736M478.4 547.4v1.736M399.3 495.2h-1.736M480.3 547.4v1.736M399.3 493.9h-1.736M482.0 547.4v1.736M399.3 492.8h-1.736M483.4 547.4v1.736M399.3 491.9h-1.736M484.7 547.4v2.8M399.3 491.0h-2.8M493.3 547.4v1.736M399.3 485.3h-1.736M498.3 547.4v1.736M399.3 482.0h-1.736M501.9 547.4v1.736M399.3 479.7h-1.736M504.6 547.4v1.736M399.3 477.9h-1.736M506.9 547.4v1.736M399.3 476.4h-1.736M508.8 547.4v1.736M399.3 475.1h-1.736M510.4 547.4v1.736M399.3 474.0h-1.736M511.9 547.4v1.736M399.3 473.1h-1.736M513.2 547.4v2.8M399.3 472.2h-2.8" stroke="#000" stroke-width="0.7" fill="none"/>
<g font-weight="bold" class="lab"><text x="396.70" y="558.9" font-size="8.2" text-anchor="start" textLength="5.7" lengthAdjust="spacingAndGlyphs">10</text><text x="402.60" y="554.3" font-size="6.8" text-anchor="start" textLength="2.9" lengthAdjust="spacingAndGlyphs">0</text></g>
<g transform="rotate(-90 394.8 546.9)" font-weight="bold" class="lab"><text x="390.10" y="546.9" font-size="8.2" text-anchor="start" textLength="5.7" lengthAdjust="spacingAndGlyphs">10</text><text x="396.60" y="542.3" font-size="6.8" text-anchor="start" textLength="2.9" lengthAdjust="spacingAndGlyphs">0</text></g>
<g font-weight="bold" class="lab"><text x="423.58" y="558.9" font-size="8.2" text-anchor="start" textLength="5.7" lengthAdjust="spacingAndGlyphs">10</text><text x="429.48" y="554.3" font-size="6.8" text-anchor="start" textLength="2.9" lengthAdjust="spacingAndGlyphs">1</text></g>
<g transform="rotate(-90 394.8 528.1)" font-weight="bold" class="lab"><text x="390.10" y="528.1" font-size="8.2" text-anchor="start" textLength="5.7" lengthAdjust="spacingAndGlyphs">10</text><text x="396.60" y="523.5" font-size="6.8" text-anchor="start" textLength="2.9" lengthAdjust="spacingAndGlyphs">1</text></g>
<g font-weight="bold" class="lab"><text x="452.05" y="558.9" font-size="8.2" text-anchor="start" textLength="5.7" lengthAdjust="spacingAndGlyphs">10</text><text x="457.95" y="554.3" font-size="6.8" text-anchor="start" textLength="2.9" lengthAdjust="spacingAndGlyphs">2</text></g>
<g transform="rotate(-90 394.8 509.29999999999995)" font-weight="bold" class="lab"><text x="390.10" y="509.29999999999995" font-size="8.2" text-anchor="start" textLength="5.7" lengthAdjust="spacingAndGlyphs">10</text><text x="396.60" y="504.69999999999993" font-size="6.8" text-anchor="start" textLength="2.9" lengthAdjust="spacingAndGlyphs">2</text></g>
<g font-weight="bold" class="lab"><text x="480.53" y="558.9" font-size="8.2" text-anchor="start" textLength="5.7" lengthAdjust="spacingAndGlyphs">10</text><text x="486.43" y="554.3" font-size="6.8" text-anchor="start" textLength="2.9" lengthAdjust="spacingAndGlyphs">3</text></g>
<g transform="rotate(-90 394.8 490.5)" font-weight="bold" class="lab"><text x="390.10" y="490.5" font-size="8.2" text-anchor="start" textLength="5.7" lengthAdjust="spacingAndGlyphs">10</text><text x="396.60" y="485.9" font-size="6.8" text-anchor="start" textLength="2.9" lengthAdjust="spacingAndGlyphs">3</text></g>
<g font-weight="bold" class="lab"><text x="509.00" y="558.9" font-size="8.2" text-anchor="start" textLength="5.7" lengthAdjust="spacingAndGlyphs">10</text><text x="514.90" y="554.3" font-size="6.8" text-anchor="start" textLength="2.9" lengthAdjust="spacingAndGlyphs">4</text></g>
<g transform="rotate(-90 394.8 471.7)" font-weight="bold" class="lab"><text x="390.10" y="471.7" font-size="8.2" text-anchor="start" textLength="5.7" lengthAdjust="spacingAndGlyphs">10</text><text x="396.60" y="467.09999999999997" font-size="6.8" text-anchor="start" textLength="2.9" lengthAdjust="spacingAndGlyphs">4</text></g>
<g transform="rotate(0.23 20 700)">
<path d="M19.7 618V782.9H482" stroke="#000" stroke-width="1.9" fill="none"/>
<path d="M19.7 611.5L16.2 619H23.2z M487.5 782.9L480.8 779.5V786.3z" fill="#000"/>
<text x="13.4" y="687.6" font-size="14.25" text-anchor="middle" font-weight="normal" fill="#000" transform="rotate(-90 13.4 687.6)" >Cell no.</text>
<text x="275.2" y="794.4" font-size="14.4" text-anchor="middle" font-weight="normal" fill="#000" >Fluorescence</text>
<path d="M30.6 676.8L31.6 676.6L32.6 676.3L33.5 676.8L34.5 676.8L35.5 676.8L36.5 676.6L37.5 676.3L38.4 676.8L39.4 676.8L40.4 676.5L41.4 676.6L42.3 676.1L43.3 676.3L44.3 676.8L45.3 676.8L46.3 675.6L47.2 676.8L48.2 676.8L49.2 676.8L50.2 676.8L51.2 676.7L52.1 676.8L53.1 676.8L54.1 676.7L55.1 676.5L56.0 676.3L57.0 676.7L58.0 676.8L59.0 676.5L60.0 676.8L60.9 676.8L61.9 676.8L62.9 676.8L63.9 676.8L64.8 676.7L65.8 675.2L66.8 676.8L67.8 676.4L68.8 676.8L69.7 676.8L70.7 676.5L71.7 676.8L72.7 676.6L73.7 676.7L74.6 676.8L75.6 676.5L76.6 676.8L77.6 675.9L78.5 676.8L79.5 676.5L80.5 676.8L81.5 676.3L82.5 676.8L83.4 676.3L84.4 676.8L85.4 676.2L86.4 676.5L87.4 676.7L88.3 676.8L89.3 676.4L90.3 676.1L91.3 674.7L92.2 675.1L93.2 674.0L94.2 673.9L95.2 674.1L96.2 674.1L97.1 674.1L98.1 674.5L99.1 674.8L100.1 674.4L101.1 673.8L102.0 673.3L103.0 673.6L104.0 673.5L105.0 673.7L106.0 673.7L106.9 674.0L107.9 673.6L108.9 673.0L109.9 674.2L110.8 674.4L111.8 672.8L112.8 673.8L113.8 673.4L114.8 673.4L115.7 674.5L116.7 672.4L117.7 672.8L118.7 673.7L119.7 673.3L120.6 673.7L121.6 674.2L122.6 673.8L123.6 673.5L124.5 673.0L125.5 673.2L126.5 673.6L127.5 672.8L128.5 674.1L129.4 673.1L130.4 672.9L131.4 673.7L132.4 674.6L133.3 674.1L134.3 673.4L135.3 673.2L136.3 672.0L137.3 672.4L138.2 670.5L139.2 669.0L140.2 669.1L141.2 664.1L142.2 648.3L143.1 640.4L144.1 627.6L145.1 622.0L146.1 632.1L147.1 640.9L148.0 643.3L149.0 657.4L150.0 667.4L151.0 668.0L151.9 669.7L152.9 669.3L153.9 672.1L154.9 673.0L155.9 673.2L156.8 673.3L157.8 673.9L158.8 674.2L159.8 675.5L160.8 675.1L161.7 675.3L162.7 675.5L163.7 675.2L164.7 675.9L165.6 675.6L166.6 676.1L167.6 676.3L167.6 676.8L30.6 676.8Z" fill="#d4d4d4" stroke="#484848" stroke-width="0.9"/>
<path d="M30.6 676.8L31.6 676.7L32.6 676.8L33.5 676.8L34.5 676.3L35.5 676.8L36.5 676.8L37.5 675.8L38.4 676.8L39.4 676.8L40.4 676.8L41.4 676.8L42.3 676.4L43.3 676.3L44.3 676.2L45.3 675.8L46.3 675.8L47.2 676.4L48.2 676.0L49.2 676.4L50.2 676.8L51.2 676.3L52.1 676.7L53.1 676.8L54.1 675.6L55.1 676.3L56.0 676.8L57.0 676.8L58.0 675.4L59.0 676.8L60.0 676.3L60.9 676.4L61.9 676.5L62.9 676.4L63.9 676.8L64.8 676.8L65.8 676.8L66.8 676.8L67.8 676.3L68.8 675.9L69.7 676.8L70.7 676.5L71.7 676.8L72.7 676.8L73.7 676.8L74.6 676.7L75.6 676.8L76.6 676.8L77.6 676.0L78.5 676.8L79.5 676.8L80.5 676.4L81.5 676.8L82.5 676.8L83.4 676.5L84.4 676.5L85.4 676.8L86.4 675.9L87.4 672.1L88.3 671.2L89.3 668.6L90.3 669.3L91.3 669.8L92.2 667.7L93.2 667.2L94.2 665.9L95.2 667.7L96.2 665.3L97.1 664.8L98.1 663.9L99.1 662.6L100.1 660.1L101.1 659.0L102.0 657.9L103.0 657.6L104.0 653.8L105.0 653.1L106.0 653.7L106.9 653.4L107.9 651.3L108.9 654.3L109.9 647.8L110.8 650.1L111.8 643.3L112.8 639.7L113.8 636.6L114.8 640.2L115.7 638.7L116.7 641.6L117.7 648.0L118.7 645.4L119.7 647.6L120.6 648.7L121.6 653.2L122.6 655.5L123.6 658.6L124.5 659.0L125.5 660.9L126.5 659.8L127.5 666.9L128.5 669.6L129.4 671.3L130.4 672.3L131.4 671.3L132.4 672.9L133.3 675.3L134.3 675.2L135.3 674.8L136.3 676.4L137.3 675.4L138.2 675.7L139.2 674.1L140.2 675.3L141.2 675.8L142.2 676.0L143.1 674.5L144.1 676.0L145.1 674.4L146.1 676.8L147.1 676.0L148.0 676.1L149.0 676.4L150.0 676.2L151.0 675.7L151.9 676.6L152.9 676.8L153.9 675.5L154.9 675.5L155.9 676.8L156.8 676.3L157.8 676.8L158.8 675.9L159.8 676.8L160.8 676.8L161.7 675.4L162.7 676.8L163.7 676.7L164.7 676.8L165.6 676.8L166.6 676.8L167.6 676.6" fill="none" stroke="#c4c4c4" stroke-width="1.5" stroke-linejoin="round"/>
<path d="M30.6 676.8L31.6 675.9L32.6 676.8L33.5 676.8L34.5 676.6L35.5 676.4L36.5 676.6L37.5 676.5L38.4 676.8L39.4 676.8L40.4 676.8L41.4 676.8L42.3 676.8L43.3 676.2L44.3 676.4L45.3 676.8L46.3 676.3L47.2 676.8L48.2 676.1L49.2 675.9L50.2 676.4L51.2 676.8L52.1 676.4L53.1 676.8L54.1 675.8L55.1 676.8L56.0 676.8L57.0 675.7L58.0 676.8L59.0 676.7L60.0 676.8L60.9 676.8L61.9 676.8L62.9 676.3L63.9 676.8L64.8 676.5L65.8 676.4L66.8 676.8L67.8 675.9L68.8 676.8L69.7 676.8L70.7 676.8L71.7 676.2L72.7 676.2L73.7 676.8L74.6 676.7L75.6 676.6L76.6 676.1L77.6 676.8L78.5 676.2L79.5 676.8L80.5 676.8L81.5 676.4L82.5 676.3L83.4 676.8L84.4 676.4L85.4 676.6L86.4 676.3L87.4 676.1L88.3 676.4L89.3 675.3L90.3 675.1L91.3 675.1L92.2 676.3L93.2 674.4L94.2 674.6L95.2 674.2L96.2 675.7L97.1 674.7L98.1 674.7L99.1 675.5L100.1 673.6L101.1 673.3L102.0 675.0L103.0 673.7L104.0 672.1L105.0 673.0L106.0 669.8L106.9 667.7L107.9 666.2L108.9 668.3L109.9 667.7L110.8 664.5L111.8 660.0L112.8 658.8L113.8 654.2L114.8 651.5L115.7 646.0L116.7 648.1L117.7 644.3L118.7 640.8L119.7 635.8L120.6 633.3L121.6 630.1L122.6 626.3L123.6 627.3L124.5 630.1L125.5 626.8L126.5 622.6L127.5 625.5L128.5 628.7L129.4 629.1L130.4 623.4L131.4 635.7L132.4 640.5L133.3 643.5L134.3 646.9L135.3 649.9L136.3 657.0L137.3 663.3L138.2 668.1L139.2 666.6L140.2 669.6L141.2 672.8L142.2 675.4L143.1 673.6L144.1 674.4L145.1 673.9L146.1 674.2L147.1 674.6L148.0 673.5L149.0 674.2L150.0 673.6L151.0 675.2L151.9 674.8L152.9 673.9L153.9 674.6L154.9 675.3L155.9 675.5L156.8 675.4L157.8 675.2L158.8 674.9L159.8 675.5L160.8 675.3L161.7 675.5L162.7 676.1L163.7 675.6L164.7 676.1L165.6 676.7L166.6 676.8L167.6 676.7" fill="none" stroke="#444" stroke-width="1.6" stroke-linejoin="round"/>
<path d="M30.6 612.1H167.6V676.8H30.6Z" fill="none" stroke="#555" stroke-width="0.8"/>
<line x1="30.6" y1="612.1" x2="30.6" y2="676.8" stroke="#000" stroke-width="1.6"/>
<line x1="30.6" y1="676.8" x2="167.6" y2="676.8" stroke="#000" stroke-width="1.7"/>
<path d="M30.6 676.8v2.5M40.9 676.8v1.3M46.9 676.8v1.3M51.2 676.8v1.3M54.5 676.8v1.3M57.3 676.8v1.3M59.5 676.8v1.3M61.5 676.8v1.3M63.3 676.8v1.3M64.8 676.8v2.5M75.2 676.8v1.3M81.2 676.8v1.3M85.5 676.8v1.3M88.8 676.8v1.3M91.5 676.8v1.3M93.8 676.8v1.3M95.8 676.8v1.3M97.5 676.8v1.3M99.1 676.8v2.5M109.4 676.8v1.3M115.4 676.8v1.3M119.7 676.8v1.3M123.0 676.8v1.3M125.8 676.8v1.3M128.0 676.8v1.3M130.0 676.8v1.3M131.8 676.8v1.3M133.3 676.8v2.5M143.7 676.8v1.3M149.7 676.8v1.3M154.0 676.8v1.3M157.3 676.8v1.3M160.0 676.8v1.3M162.3 676.8v1.3M164.3 676.8v1.3M166.0 676.8v1.3M167.6 676.8v2.5M30.6 670.3h-2.6M30.6 663.9h-2.6M30.6 657.4h-2.6M30.6 650.9h-2.6M30.6 644.5h-2.6M30.6 638.0h-2.6M30.6 631.5h-2.6M30.6 625.0h-2.6M30.6 618.6h-2.6" stroke="#000" stroke-width="0.8" fill="none"/>
<g font-weight="bold" class="lab"><text x="27.85" y="687.8" font-size="8.2" text-anchor="start" textLength="5.9" lengthAdjust="spacingAndGlyphs">10</text><text x="33.95" y="683.1999999999999" font-size="6.8" text-anchor="start" textLength="3.0" lengthAdjust="spacingAndGlyphs">0</text></g>
<g font-weight="bold" class="lab"><text x="60.00" y="687.8" font-size="8.2" text-anchor="start" textLength="5.9" lengthAdjust="spacingAndGlyphs">10</text><text x="66.10" y="683.1999999999999" font-size="6.8" text-anchor="start" textLength="3.0" lengthAdjust="spacingAndGlyphs">1</text></g>
<g font-weight="bold" class="lab"><text x="94.25" y="687.8" font-size="8.2" text-anchor="start" textLength="5.9" lengthAdjust="spacingAndGlyphs">10</text><text x="100.35" y="683.1999999999999" font-size="6.8" text-anchor="start" textLength="3.0" lengthAdjust="spacingAndGlyphs">2</text></g>
<g font-weight="bold" class="lab"><text x="128.50" y="687.8" font-size="8.2" text-anchor="start" textLength="5.9" lengthAdjust="spacingAndGlyphs">10</text><text x="134.60" y="683.1999999999999" font-size="6.8" text-anchor="start" textLength="3.0" lengthAdjust="spacingAndGlyphs">3</text></g>
<g font-weight="bold" class="lab"><text x="162.75" y="687.8" font-size="8.2" text-anchor="start" textLength="5.9" lengthAdjust="spacingAndGlyphs">10</text><text x="168.85" y="683.1999999999999" font-size="6.8" text-anchor="start" textLength="3.0" lengthAdjust="spacingAndGlyphs">4</text></g>
<text x="97" y="628.5" font-size="13.2" text-anchor="middle" font-weight="normal" fill="#000" >CD8</text>
<path d="M201.8 676.4L202.8 676.2L203.8 676.8L204.8 676.8L205.7 676.6L206.7 676.0L207.7 676.6L208.7 676.8L209.7 676.8L210.7 676.8L211.6 676.3L212.6 676.8L213.6 676.8L214.6 676.8L215.6 676.7L216.6 676.8L217.5 676.8L218.5 676.7L219.5 676.0L220.5 676.8L221.5 676.3L222.5 676.8L223.4 676.4L224.4 676.7L225.4 676.8L226.4 676.8L227.4 676.4L228.4 676.8L229.3 676.3L230.3 676.1L231.3 676.0L232.3 676.0L233.3 676.8L234.3 676.6L235.2 676.8L236.2 676.3L237.2 676.7L238.2 676.7L239.2 676.6L240.2 676.8L241.1 676.7L242.1 676.8L243.1 675.8L244.1 676.8L245.1 676.8L246.1 676.8L247.0 676.8L248.0 676.8L249.0 676.4L250.0 676.4L251.0 676.6L252.0 676.8L252.9 675.9L253.9 676.8L254.9 676.8L255.9 676.6L256.9 676.8L257.9 676.7L258.8 676.3L259.8 676.8L260.8 676.6L261.8 676.8L262.8 676.8L263.8 676.8L264.7 676.8L265.7 676.8L266.7 676.8L267.7 676.8L268.7 676.7L269.7 676.1L270.6 676.8L271.6 676.8L272.6 676.7L273.6 676.5L274.6 676.8L275.6 675.8L276.6 676.8L277.5 675.7L278.5 676.1L279.5 675.5L280.5 674.6L281.5 674.9L282.5 675.0L283.4 675.4L284.4 675.2L285.4 675.5L286.4 673.4L287.4 675.1L288.4 675.3L289.3 672.4L290.3 672.1L291.3 672.7L292.3 671.5L293.3 672.3L294.3 672.0L295.2 670.9L296.2 668.5L297.2 665.4L298.2 659.5L299.2 657.4L300.2 657.0L301.1 654.0L302.1 645.7L303.1 641.9L304.1 640.2L305.1 635.3L306.1 634.7L307.0 633.8L308.0 636.8L309.0 640.5L310.0 639.3L311.0 650.2L312.0 654.3L312.9 660.4L313.9 660.7L314.9 659.9L315.9 666.3L316.9 668.2L317.9 670.1L318.8 671.5L319.8 671.2L320.8 673.2L321.8 672.3L322.8 674.1L323.8 674.9L324.7 674.4L325.7 674.6L326.7 675.3L327.7 675.4L328.7 675.2L329.7 675.3L330.6 675.5L331.6 676.2L332.6 676.8L333.6 675.3L334.6 676.0L335.6 676.8L336.5 676.8L337.5 676.7L338.5 676.8L339.5 676.8L339.5 676.8L201.8 676.8Z" fill="#d4d4d4" stroke="#484848" stroke-width="0.9"/>
<path d="M201.8 676.5L202.8 676.8L203.8 674.8L204.8 676.5L205.7 676.7L206.7 676.5L207.7 676.8L208.7 676.8L209.7 676.5L210.7 676.8L211.6 676.3L212.6 676.8L213.6 676.8L214.6 676.8L215.6 676.8L216.6 676.8L217.5 676.8L218.5 676.8L219.5 676.2L220.5 676.8L221.5 676.8L222.5 676.5L223.4 676.4L224.4 676.8L225.4 675.9L226.4 676.8L227.4 676.1L228.4 676.8L229.3 676.8L230.3 676.8L231.3 676.8L232.3 675.4L233.3 676.8L234.3 675.9L235.2 676.0L236.2 676.8L237.2 676.1L238.2 676.0L239.2 676.8L240.2 676.8L241.1 676.1L242.1 676.6L243.1 675.5L244.1 676.5L245.1 676.8L246.1 676.8L247.0 676.8L248.0 676.4L249.0 676.4L250.0 676.8L251.0 676.8L252.0 676.3L252.9 676.8L253.9 676.1L254.9 676.8L255.9 676.8L256.9 676.8L257.9 676.8L258.8 675.2L259.8 675.8L260.8 676.8L261.8 676.3L262.8 676.8L263.8 676.1L264.7 676.2L265.7 676.8L266.7 676.8L267.7 676.7L268.7 676.5L269.7 676.8L270.6 676.8L271.6 676.2L272.6 674.7L273.6 672.6L274.6 672.7L275.6 671.8L276.6 672.0L277.5 669.4L278.5 667.8L279.5 666.6L280.5 665.4L281.5 665.2L282.5 665.1L283.4 659.9L284.4 656.8L285.4 655.8L286.4 651.7L287.4 652.5L288.4 652.6L289.3 649.2L290.3 643.3L291.3 642.8L292.3 642.5L293.3 636.8L294.3 637.8L295.2 636.6L296.2 632.4L297.2 636.8L298.2 638.6L299.2 640.7L300.2 638.7L301.1 642.6L302.1 644.3L303.1 644.8L304.1 643.1L305.1 642.8L306.1 646.8L307.0 645.3L308.0 643.6L309.0 649.8L310.0 654.9L311.0 657.0L312.0 658.5L312.9 658.9L313.9 662.0L314.9 666.2L315.9 668.7L316.9 669.9L317.9 671.1L318.8 671.4L319.8 673.4L320.8 673.1L321.8 673.7L322.8 675.4L323.8 674.3L324.7 674.8L325.7 675.0L326.7 675.3L327.7 675.1L328.7 674.8L329.7 676.4L330.6 675.1L331.6 676.1L332.6 676.8L333.6 676.3L334.6 676.0L335.6 676.6L336.5 676.4L337.5 676.8L338.5 676.8L339.5 676.2" fill="none" stroke="#c4c4c4" stroke-width="1.5" stroke-linejoin="round"/>
<path d="M201.8 675.6L202.8 676.8L203.8 676.6L204.8 676.8L205.7 676.8L206.7 676.8L207.7 676.8L208.7 676.8L209.7 676.6L210.7 676.2L211.6 676.7L212.6 676.2L213.6 676.6L214.6 676.8L215.6 676.8L216.6 676.8L217.5 676.8L218.5 676.8L219.5 676.8L220.5 676.6L221.5 676.6L222.5 676.8L223.4 676.8L224.4 676.8L225.4 676.3L226.4 676.8L227.4 676.8L228.4 676.8L229.3 676.8L230.3 676.8L231.3 676.8L232.3 676.6L233.3 676.8L234.3 676.7L235.2 676.8L236.2 676.8L237.2 676.8L238.2 676.8L239.2 676.6L240.2 676.3L241.1 676.6L242.1 676.8L243.1 676.6L244.1 676.6L245.1 676.4L246.1 676.7L247.0 676.8L248.0 676.8L249.0 676.8L250.0 676.3L251.0 676.8L252.0 676.3L252.9 676.7L253.9 676.8L254.9 676.8L255.9 676.5L256.9 676.6L257.9 676.8L258.8 676.6L259.8 676.8L260.8 676.8L261.8 676.8L262.8 676.8L263.8 676.8L264.7 676.0L265.7 675.5L266.7 676.2L267.7 676.6L268.7 675.8L269.7 676.6L270.6 676.8L271.6 676.8L272.6 672.7L273.6 674.5L274.6 674.6L275.6 672.7L276.6 671.8L277.5 672.3L278.5 670.5L279.5 670.2L280.5 668.4L281.5 666.6L282.5 666.0L283.4 664.1L284.4 661.6L285.4 663.9L286.4 660.2L287.4 656.4L288.4 654.3L289.3 650.8L290.3 651.8L291.3 648.9L292.3 644.7L293.3 638.1L294.3 634.0L295.2 634.8L296.2 633.9L297.2 623.3L298.2 626.1L299.2 635.8L300.2 636.2L301.1 638.6L302.1 639.2L303.1 642.5L304.1 640.1L305.1 639.9L306.1 639.0L307.0 636.2L308.0 637.8L309.0 643.7L310.0 650.2L311.0 653.8L312.0 654.0L312.9 655.7L313.9 661.0L314.9 663.4L315.9 667.9L316.9 670.7L317.9 670.2L318.8 671.3L319.8 672.9L320.8 673.3L321.8 673.4L322.8 672.7L323.8 674.3L324.7 673.6L325.7 673.8L326.7 674.0L327.7 674.9L328.7 673.5L329.7 673.6L330.6 673.6L331.6 674.4L332.6 673.9L333.6 674.5L334.6 674.3L335.6 675.4L336.5 675.5L337.5 676.4L338.5 676.8L339.5 676.8" fill="none" stroke="#444" stroke-width="1.6" stroke-linejoin="round"/>
<path d="M201.8 612.1H339.5V676.8H201.8Z" fill="none" stroke="#555" stroke-width="0.8"/>
<line x1="201.8" y1="612.1" x2="201.8" y2="676.8" stroke="#000" stroke-width="1.6"/>
<line x1="201.8" y1="676.8" x2="339.5" y2="676.8" stroke="#000" stroke-width="1.7"/>
<path d="M201.8 676.8v2.5M212.2 676.8v1.3M218.2 676.8v1.3M222.5 676.8v1.3M225.9 676.8v1.3M228.6 676.8v1.3M230.9 676.8v1.3M232.9 676.8v1.3M234.6 676.8v1.3M236.2 676.8v2.5M246.6 676.8v1.3M252.6 676.8v1.3M257.0 676.8v1.3M260.3 676.8v1.3M263.0 676.8v1.3M265.3 676.8v1.3M267.3 676.8v1.3M269.1 676.8v1.3M270.6 676.8v2.5M281.0 676.8v1.3M287.1 676.8v1.3M291.4 676.8v1.3M294.7 676.8v1.3M297.4 676.8v1.3M299.7 676.8v1.3M301.7 676.8v1.3M303.5 676.8v1.3M305.1 676.8v2.5M315.4 676.8v1.3M321.5 676.8v1.3M325.8 676.8v1.3M329.1 676.8v1.3M331.9 676.8v1.3M334.2 676.8v1.3M336.2 676.8v1.3M337.9 676.8v1.3M339.5 676.8v2.5M201.8 670.3h-2.6M201.8 663.9h-2.6M201.8 657.4h-2.6M201.8 650.9h-2.6M201.8 644.5h-2.6M201.8 638.0h-2.6M201.8 631.5h-2.6M201.8 625.0h-2.6M201.8 618.6h-2.6" stroke="#000" stroke-width="0.8" fill="none"/>
<g font-weight="bold" class="lab"><text x="199.05" y="687.8" font-size="8.2" text-anchor="start" textLength="5.9" lengthAdjust="spacingAndGlyphs">10</text><text x="205.15" y="683.1999999999999" font-size="6.8" text-anchor="start" textLength="3.0" lengthAdjust="spacingAndGlyphs">0</text></g>
<g font-weight="bold" class="lab"><text x="231.38" y="687.8" font-size="8.2" text-anchor="start" textLength="5.9" lengthAdjust="spacingAndGlyphs">10</text><text x="237.47" y="683.1999999999999" font-size="6.8" text-anchor="start" textLength="3.0" lengthAdjust="spacingAndGlyphs">1</text></g>
<g font-weight="bold" class="lab"><text x="265.80" y="687.8" font-size="8.2" text-anchor="start" textLength="5.9" lengthAdjust="spacingAndGlyphs">10</text><text x="271.90" y="683.1999999999999" font-size="6.8" text-anchor="start" textLength="3.0" lengthAdjust="spacingAndGlyphs">2</text></g>
<g font-weight="bold" class="lab"><text x="300.22" y="687.8" font-size="8.2" text-anchor="start" textLength="5.9" lengthAdjust="spacingAndGlyphs">10</text><text x="306.32" y="683.1999999999999" font-size="6.8" text-anchor="start" textLength="3.0" lengthAdjust="spacingAndGlyphs">3</text></g>
<g font-weight="bold" class="lab"><text x="334.65" y="687.8" font-size="8.2" text-anchor="start" textLength="5.9" lengthAdjust="spacingAndGlyphs">10</text><text x="340.75" y="683.1999999999999" font-size="6.8" text-anchor="start" textLength="3.0" lengthAdjust="spacingAndGlyphs">4</text></g>
<text x="268.7" y="628.5" font-size="13.2" text-anchor="middle" font-weight="normal" fill="#000" >H-Y TCR</text>
<path d="M375.4 676.3L376.4 676.7L377.4 676.8L378.4 675.7L379.4 676.2L380.4 676.0L381.3 676.1L382.3 674.4L383.3 674.9L384.3 674.4L385.3 675.9L386.3 675.9L387.3 676.4L388.3 675.4L389.3 676.8L390.3 673.1L391.3 674.7L392.3 674.7L393.2 673.8L394.2 675.0L395.2 673.9L396.2 672.7L397.2 675.0L398.2 670.1L399.2 671.6L400.2 670.3L401.2 672.2L402.2 671.3L403.2 667.8L404.2 670.9L405.1 670.4L406.1 668.5L407.1 666.3L408.1 671.6L409.1 664.2L410.1 665.3L411.1 663.2L412.1 665.8L413.1 662.4L414.1 659.1L415.1 661.9L416.0 662.6L417.0 662.1L418.0 662.3L419.0 659.5L420.0 660.5L421.0 661.7L422.0 658.8L423.0 662.5L424.0 663.0L425.0 654.4L426.0 660.8L427.0 655.6L427.9 659.1L428.9 659.3L429.9 657.5L430.9 660.5L431.9 660.5L432.9 659.2L433.9 659.7L434.9 657.5L435.9 655.0L436.9 661.9L437.9 661.5L438.9 658.2L439.8 658.9L440.8 657.8L441.8 661.9L442.8 659.2L443.8 660.7L444.8 664.0L445.8 659.9L446.8 664.7L447.8 661.5L448.8 664.6L449.8 665.4L450.7 662.8L451.7 665.3L452.7 668.2L453.7 669.2L454.7 671.4L455.7 668.5L456.7 669.6L457.7 672.0L458.7 673.5L459.7 671.6L460.7 672.3L461.7 671.3L462.6 674.2L463.6 674.4L464.6 672.9L465.6 673.4L466.6 672.4L467.6 672.2L468.6 674.7L469.6 676.6L470.6 673.6L471.6 674.6L472.6 673.5L473.6 676.8L474.5 674.1L475.5 673.9L476.5 674.8L477.5 673.5L478.5 674.1L479.5 674.0L480.5 672.8L481.5 672.9L482.5 673.1L483.5 674.2L484.5 674.5L485.4 674.1L486.4 674.4L487.4 675.6L488.4 674.4L489.4 673.8L490.4 675.3L491.4 676.3L492.4 674.7L493.4 676.6L494.4 676.8L495.4 676.8L496.4 676.8L497.3 676.4L498.3 676.8L499.3 676.7L500.3 675.6L501.3 675.6L502.3 676.8L503.3 676.8L504.3 676.8L505.3 676.8L506.3 675.8L507.3 675.2L508.3 676.1L509.2 676.1L510.2 676.2L511.2 676.1L512.2 676.8L513.2 675.8L514.2 676.8L514.2 676.8L375.4 676.8Z" fill="#d4d4d4" stroke="#484848" stroke-width="0.9"/>
<path d="M375.4 676.5L376.4 676.6L377.4 676.8L378.4 675.7L379.4 676.8L380.4 676.5L381.3 676.0L382.3 676.0L383.3 675.9L384.3 676.6L385.3 675.0L386.3 676.3L387.3 675.8L388.3 675.7L389.3 675.6L390.3 675.8L391.3 674.7L392.3 675.5L393.2 674.9L394.2 676.2L395.2 674.9L396.2 675.1L397.2 674.4L398.2 674.2L399.2 673.6L400.2 673.5L401.2 673.0L402.2 672.5L403.2 672.0L404.2 671.7L405.1 671.6L406.1 670.7L407.1 671.3L408.1 669.1L409.1 669.8L410.1 669.2L411.1 670.4L412.1 671.0L413.1 671.0L414.1 670.3L415.1 669.8L416.0 669.3L417.0 668.9L418.0 667.7L419.0 669.6L420.0 666.0L421.0 667.1L422.0 666.3L423.0 667.4L424.0 665.3L425.0 666.4L426.0 664.3L427.0 664.2L427.9 664.1L428.9 664.2L429.9 664.1L430.9 664.1L431.9 663.1L432.9 663.8L433.9 663.7L434.9 661.9L435.9 664.0L436.9 665.0L437.9 666.3L438.9 666.5L439.8 664.4L440.8 663.9L441.8 665.6L442.8 665.8L443.8 665.1L444.8 664.9L445.8 664.3L446.8 665.2L447.8 665.7L448.8 664.5L449.8 665.8L450.7 666.0L451.7 665.5L452.7 664.5L453.7 664.4L454.7 663.9L455.7 663.7L456.7 661.1L457.7 662.0L458.7 663.4L459.7 661.6L460.7 659.1L461.7 659.6L462.6 656.4L463.6 659.0L464.6 658.7L465.6 657.9L466.6 657.9L467.6 656.7L468.6 657.2L469.6 656.3L470.6 657.0L471.6 659.2L472.6 655.6L473.6 653.9L474.5 656.2L475.5 654.7L476.5 652.0L477.5 652.6L478.5 651.1L479.5 651.2L480.5 649.2L481.5 648.0L482.5 642.1L483.5 642.5L484.5 641.7L485.4 643.1L486.4 639.1L487.4 639.4L488.4 636.4L489.4 639.5L490.4 641.8L491.4 651.8L492.4 653.8L493.4 654.4L494.4 663.3L495.4 667.9L496.4 672.3L497.3 674.2L498.3 674.3L499.3 673.7L500.3 674.3L501.3 674.5L502.3 674.3L503.3 675.4L504.3 674.2L505.3 675.6L506.3 675.7L507.3 676.1L508.3 676.8L509.2 676.8L510.2 676.6L511.2 676.6L512.2 676.1L513.2 675.5L514.2 676.4" fill="none" stroke="#c4c4c4" stroke-width="1.5" stroke-linejoin="round"/>
<path d="M375.4 675.8L376.4 659.9L377.4 657.0L378.4 672.3L379.4 675.7L380.4 676.3L381.3 671.9L382.3 672.9L383.3 673.1L384.3 673.0L385.3 675.2L386.3 669.0L387.3 670.4L388.3 667.6L389.3 663.3L390.3 667.1L391.3 666.1L392.3 663.1L393.2 665.9L394.2 664.8L395.2 667.5L396.2 666.2L397.2 667.3L398.2 659.2L399.2 657.5L400.2 661.6L401.2 659.9L402.2 660.2L403.2 650.6L404.2 655.4L405.1 658.1L406.1 654.4L407.1 651.1L408.1 658.0L409.1 651.6L410.1 651.3L411.1 653.2L412.1 649.9L413.1 647.5L414.1 651.0L415.1 651.7L416.0 646.2L417.0 648.9L418.0 648.0L419.0 642.2L420.0 648.5L421.0 650.5L422.0 655.7L423.0 649.7L424.0 650.1L425.0 649.5L426.0 649.9L427.0 649.4L427.9 651.1L428.9 650.9L429.9 648.3L430.9 652.1L431.9 652.2L432.9 651.4L433.9 646.5L434.9 654.1L435.9 649.1L436.9 648.3L437.9 646.9L438.9 652.9L439.8 649.4L440.8 650.2L441.8 653.0L442.8 651.3L443.8 652.5L444.8 656.0L445.8 653.2L446.8 655.2L447.8 644.9L448.8 652.4L449.8 653.7L450.7 656.6L451.7 651.1L452.7 649.5L453.7 650.7L454.7 655.8L455.7 654.4L456.7 653.7L457.7 646.9L458.7 649.0L459.7 643.7L460.7 633.4L461.7 649.1L462.6 641.5L463.6 640.0L464.6 646.4L465.6 633.3L466.6 638.9L467.6 635.0L468.6 633.6L469.6 629.5L470.6 640.9L471.6 642.6L472.6 647.7L473.6 649.7L474.5 638.7L475.5 649.2L476.5 654.6L477.5 646.1L478.5 643.4L479.5 654.4L480.5 652.1L481.5 659.7L482.5 664.8L483.5 662.4L484.5 666.7L485.4 667.3L486.4 666.2L487.4 668.1L488.4 672.0L489.4 671.0L490.4 674.6L491.4 674.3L492.4 672.6L493.4 670.8L494.4 671.6L495.4 673.7L496.4 675.2L497.3 676.8L498.3 673.2L499.3 675.6L500.3 672.0L501.3 675.6L502.3 676.8L503.3 674.1L504.3 675.7L505.3 676.8L506.3 675.9L507.3 676.3L508.3 675.9L509.2 676.8L510.2 676.5L511.2 676.0L512.2 676.8L513.2 674.8L514.2 676.8" fill="none" stroke="#444" stroke-width="1.6" stroke-linejoin="round"/>
<path d="M375.4 612.1H514.2V676.8H375.4Z" fill="none" stroke="#555" stroke-width="0.8"/>
<line x1="375.4" y1="612.1" x2="375.4" y2="676.8" stroke="#000" stroke-width="1.6"/>
<line x1="375.4" y1="676.8" x2="514.2" y2="676.8" stroke="#000" stroke-width="1.7"/>
<path d="M375.4 676.8v2.5M385.8 676.8v1.3M392.0 676.8v1.3M396.3 676.8v1.3M399.7 676.8v1.3M402.4 676.8v1.3M404.7 676.8v1.3M406.7 676.8v1.3M408.5 676.8v1.3M410.1 676.8v2.5M420.5 676.8v1.3M426.7 676.8v1.3M431.0 676.8v1.3M434.4 676.8v1.3M437.1 676.8v1.3M439.4 676.8v1.3M441.4 676.8v1.3M443.2 676.8v1.3M444.8 676.8v2.5M455.2 676.8v1.3M461.4 676.8v1.3M465.7 676.8v1.3M469.1 676.8v1.3M471.8 676.8v1.3M474.1 676.8v1.3M476.1 676.8v1.3M477.9 676.8v1.3M479.5 676.8v2.5M489.9 676.8v1.3M496.1 676.8v1.3M500.4 676.8v1.3M503.8 676.8v1.3M506.5 676.8v1.3M508.8 676.8v1.3M510.8 676.8v1.3M512.6 676.8v1.3M514.2 676.8v2.5M375.4 670.3h-2.6M375.4 663.9h-2.6M375.4 657.4h-2.6M375.4 650.9h-2.6M375.4 644.5h-2.6M375.4 638.0h-2.6M375.4 631.5h-2.6M375.4 625.0h-2.6M375.4 618.6h-2.6" stroke="#000" stroke-width="0.8" fill="none"/>
<g font-weight="bold" class="lab"><text x="372.65" y="687.8" font-size="8.2" text-anchor="start" textLength="5.9" lengthAdjust="spacingAndGlyphs">10</text><text x="378.75" y="683.1999999999999" font-size="6.8" text-anchor="start" textLength="3.0" lengthAdjust="spacingAndGlyphs">0</text></g>
<g font-weight="bold" class="lab"><text x="405.25" y="687.8" font-size="8.2" text-anchor="start" textLength="5.9" lengthAdjust="spacingAndGlyphs">10</text><text x="411.35" y="683.1999999999999" font-size="6.8" text-anchor="start" textLength="3.0" lengthAdjust="spacingAndGlyphs">1</text></g>
<g font-weight="bold" class="lab"><text x="439.95" y="687.8" font-size="8.2" text-anchor="start" textLength="5.9" lengthAdjust="spacingAndGlyphs">10</text><text x="446.05" y="683.1999999999999" font-size="6.8" text-anchor="start" textLength="3.0" lengthAdjust="spacingAndGlyphs">2</text></g>
<g font-weight="bold" class="lab"><text x="474.65" y="687.8" font-size="8.2" text-anchor="start" textLength="5.9" lengthAdjust="spacingAndGlyphs">10</text><text x="480.75" y="683.1999999999999" font-size="6.8" text-anchor="start" textLength="3.0" lengthAdjust="spacingAndGlyphs">3</text></g>
<g font-weight="bold" class="lab"><text x="509.35" y="687.8" font-size="8.2" text-anchor="start" textLength="5.9" lengthAdjust="spacingAndGlyphs">10</text><text x="515.45" y="683.1999999999999" font-size="6.8" text-anchor="start" textLength="3.0" lengthAdjust="spacingAndGlyphs">4</text></g>
<text x="444" y="629" font-size="13.2" text-anchor="middle" font-weight="normal" fill="#000" >CD44</text>
<path d="M30.6 763.4L31.6 740.7L32.6 738.6L33.6 754.1L34.6 762.8L35.6 761.7L36.5 761.8L37.5 760.6L38.5 760.1L39.5 761.7L40.5 759.0L41.5 761.7L42.5 757.8L43.5 759.2L44.5 755.6L45.5 753.5L46.5 752.8L47.4 752.1L48.4 751.0L49.4 750.6L50.4 743.0L51.4 745.1L52.4 741.4L53.4 744.4L54.4 743.1L55.4 744.1L56.4 741.4L57.3 743.7L58.3 733.8L59.3 732.2L60.3 729.3L61.3 728.7L62.3 737.2L63.3 741.7L64.3 728.5L65.3 728.9L66.3 732.7L67.3 732.2L68.2 727.7L69.2 728.1L70.2 737.2L71.2 744.0L72.2 741.0L73.2 741.6L74.2 750.6L75.2 749.5L76.2 756.4L77.2 756.1L78.2 755.5L79.1 757.2L80.1 761.2L81.1 759.5L82.1 763.7L83.1 761.7L84.1 765.9L85.1 764.0L86.1 764.2L87.1 764.9L88.1 764.1L89.1 764.4L90.0 762.9L91.0 765.0L92.0 764.5L93.0 765.9L94.0 764.6L95.0 764.9L96.0 764.3L97.0 764.2L98.0 765.9L99.0 765.9L100.0 765.9L100.9 765.9L101.9 764.2L102.9 765.9L103.9 765.8L104.9 764.7L105.9 765.9L106.9 765.9L107.9 765.9L108.9 765.2L109.9 765.0L110.8 765.9L111.8 765.5L112.8 764.2L113.8 765.9L114.8 763.5L115.8 765.9L116.8 763.6L117.8 765.9L118.8 764.3L119.8 765.9L120.8 765.9L121.7 765.8L122.7 765.2L123.7 765.2L124.7 765.8L125.7 765.9L126.7 765.9L127.7 765.8L128.7 764.5L129.7 765.3L130.7 765.1L131.7 765.7L132.6 764.2L133.6 763.0L134.6 763.3L135.6 765.9L136.6 765.9L137.6 765.9L138.6 765.9L139.6 763.6L140.6 765.9L141.6 765.8L142.6 765.9L143.5 765.9L144.5 765.9L145.5 765.9L146.5 765.9L147.5 765.9L148.5 765.9L149.5 765.9L150.5 765.9L151.5 764.7L152.5 765.3L153.4 765.9L154.4 765.9L155.4 765.9L156.4 765.9L157.4 765.1L158.4 765.9L159.4 764.6L160.4 764.1L161.4 765.9L162.4 765.9L163.4 765.3L164.3 765.9L165.3 765.9L166.3 765.9L167.3 765.4L168.3 765.9L169.3 765.8L169.3 765.9L30.6 765.9Z" fill="#d4d4d4" stroke="#484848" stroke-width="0.9"/>
<path d="M30.6 764.1L31.6 764.0L32.6 763.9L33.6 763.4L34.6 763.7L35.6 764.2L36.5 763.0L37.5 763.2L38.5 762.9L39.5 762.5L40.5 762.3L41.5 761.6L42.5 761.8L43.5 762.0L44.5 762.5L45.5 762.5L46.5 761.4L47.4 760.2L48.4 760.2L49.4 759.5L50.4 758.1L51.4 758.6L52.4 756.8L53.4 755.3L54.4 754.1L55.4 754.3L56.4 753.2L57.3 753.0L58.3 752.4L59.3 753.7L60.3 751.3L61.3 752.0L62.3 751.7L63.3 748.5L64.3 748.0L65.3 745.7L66.3 745.7L67.3 747.1L68.2 743.8L69.2 744.6L70.2 742.1L71.2 740.7L72.2 738.5L73.2 735.8L74.2 734.4L75.2 733.3L76.2 731.5L77.2 730.8L78.2 731.8L79.1 731.7L80.1 731.1L81.1 728.9L82.1 729.1L83.1 723.7L84.1 727.7L85.1 727.1L86.1 722.9L87.1 721.2L88.1 722.7L89.1 724.2L90.0 726.2L91.0 730.6L92.0 734.6L93.0 739.3L94.0 743.7L95.0 748.3L96.0 749.0L97.0 753.0L98.0 758.1L99.0 761.3L100.0 763.0L100.9 762.2L101.9 763.5L102.9 764.7L103.9 765.2L104.9 765.8L105.9 765.3L106.9 765.9L107.9 765.9L108.9 765.5L109.9 765.9L110.8 765.9L111.8 765.9L112.8 765.9L113.8 765.9L114.8 765.7L115.8 765.3L116.8 765.9L117.8 765.8L118.8 765.8L119.8 765.4L120.8 765.5L121.7 765.8L122.7 765.9L123.7 765.5L124.7 765.7L125.7 765.3L126.7 765.9L127.7 765.0L128.7 765.9L129.7 765.1L130.7 765.8L131.7 765.9L132.6 765.9L133.6 765.9L134.6 765.2L135.6 765.5L136.6 765.6L137.6 765.9L138.6 765.6L139.6 765.6L140.6 765.9L141.6 765.9L142.6 765.9L143.5 765.1L144.5 765.9L145.5 765.9L146.5 765.2L147.5 765.9L148.5 765.9L149.5 765.9L150.5 765.9L151.5 765.8L152.5 765.9L153.4 765.5L154.4 765.9L155.4 764.8L156.4 765.8L157.4 765.2L158.4 765.9L159.4 765.9L160.4 765.7L161.4 765.1L162.4 765.9L163.4 765.4L164.3 765.6L165.3 765.2L166.3 765.6L167.3 765.9L168.3 765.9L169.3 765.9" fill="none" stroke="#c4c4c4" stroke-width="1.5" stroke-linejoin="round"/>
<path d="M30.6 760.4L31.6 761.8L32.6 760.5L33.6 759.3L34.6 761.4L35.6 762.3L36.5 761.2L37.5 757.5L38.5 754.6L39.5 755.1L40.5 757.5L41.5 751.1L42.5 757.1L43.5 753.3L44.5 751.9L45.5 748.2L46.5 744.5L47.4 751.0L48.4 747.5L49.4 745.1L50.4 748.4L51.4 743.9L52.4 741.5L53.4 744.9L54.4 743.3L55.4 737.6L56.4 737.0L57.3 734.6L58.3 726.8L59.3 731.1L60.3 731.3L61.3 733.9L62.3 724.9L63.3 730.3L64.3 718.3L65.3 719.4L66.3 733.6L67.3 728.9L68.2 722.9L69.2 722.5L70.2 725.5L71.2 724.4L72.2 714.0L73.2 721.5L74.2 728.7L75.2 725.7L76.2 722.8L77.2 721.4L78.2 728.9L79.1 732.1L80.1 736.3L81.1 737.3L82.1 734.9L83.1 733.0L84.1 736.0L85.1 745.2L86.1 746.6L87.1 750.4L88.1 752.1L89.1 759.8L90.0 757.0L91.0 760.1L92.0 759.6L93.0 763.1L94.0 762.2L95.0 762.9L96.0 762.1L97.0 763.6L98.0 763.9L99.0 763.8L100.0 764.7L100.9 764.9L101.9 765.9L102.9 765.8L103.9 763.1L104.9 765.9L105.9 765.2L106.9 765.9L107.9 765.9L108.9 765.9L109.9 763.7L110.8 765.9L111.8 765.9L112.8 764.2L113.8 765.9L114.8 765.9L115.8 765.9L116.8 765.9L117.8 765.1L118.8 765.9L119.8 765.9L120.8 765.9L121.7 765.1L122.7 763.0L123.7 765.9L124.7 764.8L125.7 765.9L126.7 765.9L127.7 765.9L128.7 765.9L129.7 765.9L130.7 764.9L131.7 765.6L132.6 765.2L133.6 765.0L134.6 765.9L135.6 764.0L136.6 765.9L137.6 765.0L138.6 765.9L139.6 765.6L140.6 765.1L141.6 765.9L142.6 763.3L143.5 765.7L144.5 764.5L145.5 765.6L146.5 765.8L147.5 765.9L148.5 765.9L149.5 765.9L150.5 765.9L151.5 763.9L152.5 765.9L153.4 765.9L154.4 765.9L155.4 764.4L156.4 764.3L157.4 765.8L158.4 765.8L159.4 765.9L160.4 765.9L161.4 765.9L162.4 765.9L163.4 765.9L164.3 765.8L165.3 765.9L166.3 765.1L167.3 765.9L168.3 765.2L169.3 765.9" fill="none" stroke="#444" stroke-width="1.6" stroke-linejoin="round"/>
<path d="M30.6 701.7H169.3V765.9H30.6Z" fill="none" stroke="#555" stroke-width="0.8"/>
<line x1="30.6" y1="701.7" x2="30.6" y2="765.9" stroke="#000" stroke-width="1.6"/>
<line x1="30.6" y1="765.9" x2="169.3" y2="765.9" stroke="#000" stroke-width="1.7"/>
<path d="M30.6 765.9v2.5M41.0 765.9v1.3M47.1 765.9v1.3M51.5 765.9v1.3M54.8 765.9v1.3M57.6 765.9v1.3M59.9 765.9v1.3M61.9 765.9v1.3M63.7 765.9v1.3M65.3 765.9v2.5M75.7 765.9v1.3M81.8 765.9v1.3M86.2 765.9v1.3M89.5 765.9v1.3M92.3 765.9v1.3M94.6 765.9v1.3M96.6 765.9v1.3M98.4 765.9v1.3M100.0 765.9v2.5M110.4 765.9v1.3M116.5 765.9v1.3M120.8 765.9v1.3M124.2 765.9v1.3M126.9 765.9v1.3M129.3 765.9v1.3M131.3 765.9v1.3M133.0 765.9v1.3M134.6 765.9v2.5M145.1 765.9v1.3M151.2 765.9v1.3M155.5 765.9v1.3M158.9 765.9v1.3M161.6 765.9v1.3M163.9 765.9v1.3M165.9 765.9v1.3M167.7 765.9v1.3M169.3 765.9v2.5M30.6 759.5h-2.6M30.6 753.1h-2.6M30.6 746.6h-2.6M30.6 740.2h-2.6M30.6 733.8h-2.6M30.6 727.4h-2.6M30.6 721.0h-2.6M30.6 714.5h-2.6M30.6 708.1h-2.6" stroke="#000" stroke-width="0.8" fill="none"/>
<g font-weight="bold" class="lab"><text x="27.85" y="776.9" font-size="8.2" text-anchor="start" textLength="5.9" lengthAdjust="spacingAndGlyphs">10</text><text x="33.95" y="772.3" font-size="6.8" text-anchor="start" textLength="3.0" lengthAdjust="spacingAndGlyphs">0</text></g>
<g font-weight="bold" class="lab"><text x="60.43" y="776.9" font-size="8.2" text-anchor="start" textLength="5.9" lengthAdjust="spacingAndGlyphs">10</text><text x="66.53" y="772.3" font-size="6.8" text-anchor="start" textLength="3.0" lengthAdjust="spacingAndGlyphs">1</text></g>
<g font-weight="bold" class="lab"><text x="95.10" y="776.9" font-size="8.2" text-anchor="start" textLength="5.9" lengthAdjust="spacingAndGlyphs">10</text><text x="101.20" y="772.3" font-size="6.8" text-anchor="start" textLength="3.0" lengthAdjust="spacingAndGlyphs">2</text></g>
<g font-weight="bold" class="lab"><text x="129.77" y="776.9" font-size="8.2" text-anchor="start" textLength="5.9" lengthAdjust="spacingAndGlyphs">10</text><text x="135.87" y="772.3" font-size="6.8" text-anchor="start" textLength="3.0" lengthAdjust="spacingAndGlyphs">3</text></g>
<g font-weight="bold" class="lab"><text x="164.45" y="776.9" font-size="8.2" text-anchor="start" textLength="5.9" lengthAdjust="spacingAndGlyphs">10</text><text x="170.55" y="772.3" font-size="6.8" text-anchor="start" textLength="3.0" lengthAdjust="spacingAndGlyphs">4</text></g>
<text x="102" y="715.5" font-size="13.2" text-anchor="middle">IL-2R&#946;</text>
<path d="M202.2 759.4L203.2 724.6L204.2 725.2L205.2 748.1L206.2 757.1L207.2 753.6L208.2 753.3L209.1 755.6L210.1 748.4L211.1 752.9L212.1 755.4L213.1 752.4L214.1 753.4L215.1 751.9L216.1 746.5L217.1 749.2L218.1 741.8L219.1 748.3L220.1 744.4L221.1 746.0L222.1 752.6L223.0 745.1L224.0 743.6L225.0 740.7L226.0 748.9L227.0 738.7L228.0 737.0L229.0 745.4L230.0 739.8L231.0 735.7L232.0 748.9L233.0 738.6L234.0 749.8L235.0 739.0L236.0 732.4L236.9 740.5L237.9 735.8L238.9 746.1L239.9 741.2L240.9 740.8L241.9 737.5L242.9 745.5L243.9 742.9L244.9 747.3L245.9 751.6L246.9 750.5L247.9 750.4L248.9 752.7L249.9 750.3L250.8 756.3L251.8 754.3L252.8 754.1L253.8 758.0L254.8 756.5L255.8 756.6L256.8 760.6L257.8 752.3L258.8 757.6L259.8 755.2L260.8 765.4L261.8 754.0L262.8 758.8L263.8 760.3L264.8 758.2L265.7 755.3L266.7 762.7L267.7 755.3L268.7 761.6L269.7 755.1L270.7 757.2L271.7 755.1L272.7 756.3L273.7 760.8L274.7 759.8L275.7 757.4L276.7 760.0L277.7 759.3L278.6 762.2L279.6 758.0L280.6 753.6L281.6 757.5L282.6 759.2L283.6 763.1L284.6 761.0L285.6 757.8L286.6 760.9L287.6 759.4L288.6 761.9L289.6 762.0L290.6 760.7L291.6 762.2L292.6 762.6L293.5 760.8L294.5 762.1L295.5 765.9L296.5 760.1L297.5 758.4L298.5 761.3L299.5 763.0L300.5 764.6L301.5 764.0L302.5 762.7L303.5 760.4L304.5 762.4L305.5 762.9L306.4 764.9L307.4 762.4L308.4 764.4L309.4 758.8L310.4 761.9L311.4 763.0L312.4 759.2L313.4 759.4L314.4 763.1L315.4 765.9L316.4 760.9L317.4 764.4L318.4 762.2L319.4 765.8L320.3 764.5L321.3 764.4L322.3 765.9L323.3 765.9L324.3 763.4L325.3 765.9L326.3 763.8L327.3 765.1L328.3 765.9L329.3 765.1L330.3 765.9L331.3 765.9L332.3 765.6L333.3 765.8L334.2 765.9L335.2 764.7L336.2 765.5L337.2 763.5L338.2 765.9L339.2 761.9L340.2 765.8L341.2 764.2L341.2 765.9L202.2 765.9Z" fill="#d4d4d4" stroke="#484848" stroke-width="0.9"/>
<path d="M202.2 764.4L203.2 764.6L204.2 764.7L205.2 765.2L206.2 764.0L207.2 764.7L208.2 764.2L209.1 764.5L210.1 763.8L211.1 764.3L212.1 764.0L213.1 763.7L214.1 764.2L215.1 764.2L216.1 764.1L217.1 764.0L218.1 763.7L219.1 763.8L220.1 763.9L221.1 763.5L222.1 763.8L223.0 764.5L224.0 763.1L225.0 764.7L226.0 762.7L227.0 764.5L228.0 764.4L229.0 764.0L230.0 763.0L231.0 764.0L232.0 763.0L233.0 762.9L234.0 763.7L235.0 763.4L236.0 763.0L236.9 763.1L237.9 763.5L238.9 763.6L239.9 762.2L240.9 761.5L241.9 760.2L242.9 759.7L243.9 759.9L244.9 760.2L245.9 759.9L246.9 759.4L247.9 759.2L248.9 759.2L249.9 758.8L250.8 758.8L251.8 759.8L252.8 758.7L253.8 760.2L254.8 759.1L255.8 759.5L256.8 760.7L257.8 758.5L258.8 758.1L259.8 758.7L260.8 760.5L261.8 761.1L262.8 759.0L263.8 759.3L264.8 759.9L265.7 760.0L266.7 760.7L267.7 759.5L268.7 760.9L269.7 760.5L270.7 759.7L271.7 758.6L272.7 759.0L273.7 758.8L274.7 758.6L275.7 758.9L276.7 759.7L277.7 759.1L278.6 759.2L279.6 759.6L280.6 759.2L281.6 759.2L282.6 760.0L283.6 760.0L284.6 758.9L285.6 758.4L286.6 758.1L287.6 757.9L288.6 758.4L289.6 758.5L290.6 758.9L291.6 759.3L292.6 760.5L293.5 758.6L294.5 757.9L295.5 758.3L296.5 756.9L297.5 757.1L298.5 757.6L299.5 758.3L300.5 756.7L301.5 756.1L302.5 757.2L303.5 754.7L304.5 753.1L305.5 754.1L306.4 751.4L307.4 751.8L308.4 747.4L309.4 743.4L310.4 737.2L311.4 732.1L312.4 726.4L313.4 727.9L314.4 725.2L315.4 722.2L316.4 721.9L317.4 721.1L318.4 729.9L319.4 737.3L320.3 742.4L321.3 745.7L322.3 749.8L323.3 756.3L324.3 761.1L325.3 762.2L326.3 764.9L327.3 765.7L328.3 765.9L329.3 765.9L330.3 765.5L331.3 765.2L332.3 765.6L333.3 765.4L334.2 765.9L335.2 765.1L336.2 765.6L337.2 765.9L338.2 765.3L339.2 765.7L340.2 765.9L341.2 765.9" fill="none" stroke="#c4c4c4" stroke-width="1.5" stroke-linejoin="round"/>
<path d="M202.2 765.4L203.2 765.3L204.2 765.4L205.2 764.3L206.2 763.9L207.2 764.7L208.2 764.5L209.1 765.2L210.1 764.2L211.1 764.4L212.1 763.3L213.1 762.6L214.1 764.1L215.1 764.5L216.1 764.1L217.1 764.3L218.1 764.4L219.1 763.5L220.1 763.9L221.1 763.7L222.1 764.7L223.0 763.9L224.0 764.2L225.0 763.1L226.0 763.6L227.0 763.7L228.0 763.7L229.0 763.4L230.0 763.8L231.0 764.0L232.0 763.8L233.0 763.3L234.0 763.2L235.0 764.3L236.0 764.3L236.9 763.0L237.9 763.3L238.9 762.8L239.9 762.9L240.9 763.4L241.9 763.2L242.9 763.2L243.9 763.8L244.9 764.2L245.9 762.6L246.9 763.0L247.9 763.6L248.9 762.9L249.9 763.1L250.8 762.6L251.8 762.3L252.8 762.1L253.8 762.8L254.8 762.3L255.8 763.5L256.8 763.6L257.8 763.6L258.8 762.8L259.8 762.5L260.8 763.0L261.8 762.7L262.8 762.3L263.8 762.8L264.8 763.4L265.7 762.9L266.7 762.6L267.7 762.1L268.7 762.1L269.7 762.6L270.7 762.1L271.7 762.7L272.7 762.2L273.7 762.2L274.7 761.5L275.7 763.1L276.7 763.1L277.7 762.4L278.6 761.4L279.6 762.8L280.6 762.6L281.6 761.8L282.6 761.0L283.6 762.5L284.6 761.7L285.6 761.2L286.6 761.4L287.6 762.0L288.6 761.2L289.6 762.0L290.6 762.6L291.6 762.1L292.6 761.4L293.5 761.8L294.5 762.1L295.5 762.7L296.5 762.6L297.5 760.7L298.5 761.9L299.5 761.7L300.5 761.6L301.5 760.9L302.5 762.7L303.5 761.3L304.5 759.6L305.5 758.3L306.4 755.4L307.4 752.7L308.4 754.1L309.4 750.5L310.4 742.4L311.4 737.7L312.4 729.5L313.4 728.9L314.4 726.8L315.4 718.9L316.4 711.7L317.4 713.8L318.4 719.1L319.4 725.2L320.3 727.5L321.3 734.9L322.3 746.0L323.3 750.3L324.3 756.1L325.3 763.5L326.3 762.8L327.3 762.4L328.3 763.2L329.3 763.0L330.3 764.0L331.3 765.0L332.3 764.7L333.3 765.0L334.2 765.5L335.2 765.7L336.2 765.2L337.2 765.6L338.2 765.5L339.2 765.7L340.2 765.9L341.2 765.1" fill="none" stroke="#444" stroke-width="1.6" stroke-linejoin="round"/>
<path d="M202.2 701.7H341.2V765.9H202.2Z" fill="none" stroke="#555" stroke-width="0.8"/>
<line x1="202.2" y1="701.7" x2="202.2" y2="765.9" stroke="#000" stroke-width="1.6"/>
<line x1="202.2" y1="765.9" x2="341.2" y2="765.9" stroke="#000" stroke-width="1.7"/>
<path d="M202.2 765.9v2.5M212.7 765.9v1.3M218.8 765.9v1.3M223.1 765.9v1.3M226.5 765.9v1.3M229.2 765.9v1.3M231.6 765.9v1.3M233.6 765.9v1.3M235.4 765.9v1.3M236.9 765.9v2.5M247.4 765.9v1.3M253.5 765.9v1.3M257.9 765.9v1.3M261.2 765.9v1.3M264.0 765.9v1.3M266.3 765.9v1.3M268.3 765.9v1.3M270.1 765.9v1.3M271.7 765.9v2.5M282.2 765.9v1.3M288.3 765.9v1.3M292.6 765.9v1.3M296.0 765.9v1.3M298.7 765.9v1.3M301.1 765.9v1.3M303.1 765.9v1.3M304.9 765.9v1.3M306.4 765.9v2.5M316.9 765.9v1.3M323.0 765.9v1.3M327.4 765.9v1.3M330.7 765.9v1.3M333.5 765.9v1.3M335.8 765.9v1.3M337.8 765.9v1.3M339.6 765.9v1.3M341.2 765.9v2.5M202.2 759.5h-2.6M202.2 753.1h-2.6M202.2 746.6h-2.6M202.2 740.2h-2.6M202.2 733.8h-2.6M202.2 727.4h-2.6M202.2 721.0h-2.6M202.2 714.5h-2.6M202.2 708.1h-2.6" stroke="#000" stroke-width="0.8" fill="none"/>
<g font-weight="bold" class="lab"><text x="199.45" y="776.9" font-size="8.2" text-anchor="start" textLength="5.9" lengthAdjust="spacingAndGlyphs">10</text><text x="205.55" y="772.3" font-size="6.8" text-anchor="start" textLength="3.0" lengthAdjust="spacingAndGlyphs">0</text></g>
<g font-weight="bold" class="lab"><text x="232.10" y="776.9" font-size="8.2" text-anchor="start" textLength="5.9" lengthAdjust="spacingAndGlyphs">10</text><text x="238.20" y="772.3" font-size="6.8" text-anchor="start" textLength="3.0" lengthAdjust="spacingAndGlyphs">1</text></g>
<g font-weight="bold" class="lab"><text x="266.85" y="776.9" font-size="8.2" text-anchor="start" textLength="5.9" lengthAdjust="spacingAndGlyphs">10</text><text x="272.95" y="772.3" font-size="6.8" text-anchor="start" textLength="3.0" lengthAdjust="spacingAndGlyphs">2</text></g>
<g font-weight="bold" class="lab"><text x="301.60" y="776.9" font-size="8.2" text-anchor="start" textLength="5.9" lengthAdjust="spacingAndGlyphs">10</text><text x="307.70" y="772.3" font-size="6.8" text-anchor="start" textLength="3.0" lengthAdjust="spacingAndGlyphs">3</text></g>
<g font-weight="bold" class="lab"><text x="336.35" y="776.9" font-size="8.2" text-anchor="start" textLength="5.9" lengthAdjust="spacingAndGlyphs">10</text><text x="342.45" y="772.3" font-size="6.8" text-anchor="start" textLength="3.0" lengthAdjust="spacingAndGlyphs">4</text></g>
<text x="276" y="716.5" font-size="13.2" text-anchor="middle" font-weight="normal" fill="#000" >Ly6c</text>
<path d="M375.4 764.9L376.4 754.9L377.4 753.8L378.4 761.3L379.4 762.0L380.3 757.9L381.3 762.2L382.3 760.0L383.3 761.3L384.3 758.6L385.3 758.1L386.3 756.9L387.3 756.3L388.3 759.7L389.3 757.5L390.2 756.1L391.2 753.9L392.2 750.2L393.2 749.5L394.2 750.4L395.2 749.3L396.2 738.0L397.2 750.9L398.2 736.7L399.2 747.2L400.1 745.3L401.1 741.9L402.1 741.8L403.1 740.2L404.1 741.6L405.1 739.5L406.1 735.4L407.1 731.8L408.1 733.2L409.1 729.8L410.0 733.4L411.0 725.2L412.0 747.7L413.0 738.6L414.0 737.3L415.0 739.7L416.0 737.6L417.0 737.2L418.0 732.1L419.0 737.6L419.9 737.1L420.9 740.4L421.9 734.2L422.9 734.1L423.9 728.2L424.9 729.6L425.9 726.1L426.9 731.9L427.9 738.4L428.9 739.0L429.8 741.9L430.8 736.7L431.8 743.1L432.8 745.2L433.8 746.6L434.8 748.7L435.8 753.2L436.8 755.3L437.8 764.1L438.8 760.8L439.8 764.3L440.7 765.9L441.7 762.9L442.7 765.5L443.7 765.9L444.7 765.0L445.7 764.1L446.7 765.9L447.7 765.9L448.7 765.2L449.6 763.2L450.6 765.9L451.6 765.9L452.6 765.9L453.6 765.8L454.6 765.9L455.6 765.2L456.6 765.9L457.6 765.4L458.6 763.0L459.5 765.9L460.5 765.9L461.5 765.9L462.5 765.9L463.5 765.9L464.5 765.9L465.5 765.4L466.5 765.9L467.5 765.9L468.5 765.9L469.4 764.9L470.4 765.9L471.4 765.2L472.4 765.9L473.4 765.9L474.4 765.9L475.4 765.9L476.4 765.4L477.4 765.7L478.4 764.7L479.4 764.6L480.3 765.9L481.3 763.1L482.3 765.7L483.3 765.2L484.3 765.9L485.3 765.9L486.3 764.6L487.3 765.5L488.3 765.9L489.2 765.0L490.2 765.4L491.2 765.9L492.2 765.9L493.2 765.9L494.2 765.9L495.2 765.7L496.2 764.2L497.2 763.8L498.2 765.9L499.1 765.9L500.1 763.9L501.1 765.9L502.1 765.9L503.1 763.8L504.1 765.1L505.1 765.9L506.1 764.5L507.1 765.9L508.1 764.6L509.1 764.8L510.0 765.6L511.0 765.9L512.0 765.9L513.0 763.5L514.0 764.2L514.0 765.9L375.4 765.9Z" fill="#d4d4d4" stroke="#484848" stroke-width="0.9"/>
<path d="M375.4 763.7L376.4 764.1L377.4 763.6L378.4 764.0L379.4 765.1L380.3 763.7L381.3 764.3L382.3 763.4L383.3 763.1L384.3 762.6L385.3 763.5L386.3 763.8L387.3 763.3L388.3 763.3L389.3 764.6L390.2 763.7L391.2 764.0L392.2 762.9L393.2 763.3L394.2 763.2L395.2 762.8L396.2 763.1L397.2 764.1L398.2 763.7L399.2 762.9L400.1 763.5L401.1 763.7L402.1 762.8L403.1 762.9L404.1 763.3L405.1 762.7L406.1 761.2L407.1 761.2L408.1 760.7L409.1 759.2L410.0 758.5L411.0 760.0L412.0 759.0L413.0 757.0L414.0 756.3L415.0 754.4L416.0 753.2L417.0 750.1L418.0 752.8L419.0 749.9L419.9 750.7L420.9 751.6L421.9 749.2L422.9 746.7L423.9 742.5L424.9 741.0L425.9 739.7L426.9 738.5L427.9 736.6L428.9 734.8L429.8 735.0L430.8 730.7L431.8 728.2L432.8 726.8L433.8 725.7L434.8 725.3L435.8 724.9L436.8 724.4L437.8 722.6L438.8 725.1L439.8 729.9L440.7 735.0L441.7 733.7L442.7 741.6L443.7 746.2L444.7 750.8L445.7 754.3L446.7 755.2L447.7 760.7L448.7 763.9L449.6 765.0L450.6 764.8L451.6 764.6L452.6 763.9L453.6 765.6L454.6 765.4L455.6 765.1L456.6 765.7L457.6 765.1L458.6 765.5L459.5 765.1L460.5 765.4L461.5 765.8L462.5 765.8L463.5 765.9L464.5 765.8L465.5 765.8L466.5 765.9L467.5 765.9L468.5 765.9L469.4 765.3L470.4 765.9L471.4 765.8L472.4 765.7L473.4 765.9L474.4 765.9L475.4 765.9L476.4 765.9L477.4 765.8L478.4 765.9L479.4 765.9L480.3 765.5L481.3 765.9L482.3 765.9L483.3 765.9L484.3 765.4L485.3 765.9L486.3 765.9L487.3 765.9L488.3 765.9L489.2 765.4L490.2 765.9L491.2 765.9L492.2 765.9L493.2 765.9L494.2 765.6L495.2 765.9L496.2 765.9L497.2 765.9L498.2 765.4L499.1 765.3L500.1 765.5L501.1 765.9L502.1 765.9L503.1 765.9L504.1 765.9L505.1 765.9L506.1 765.1L507.1 765.9L508.1 765.3L509.1 765.9L510.0 765.8L511.0 765.9L512.0 765.9L513.0 765.9L514.0 765.9" fill="none" stroke="#c4c4c4" stroke-width="1.5" stroke-linejoin="round"/>
<path d="M375.4 763.9L376.4 763.1L377.4 762.6L378.4 763.8L379.4 762.3L380.3 762.7L381.3 762.9L382.3 763.1L383.3 762.4L384.3 762.9L385.3 762.8L386.3 764.2L387.3 763.1L388.3 761.9L389.3 762.9L390.2 763.8L391.2 763.5L392.2 762.2L393.2 761.7L394.2 763.6L395.2 762.5L396.2 764.2L397.2 763.2L398.2 762.3L399.2 764.3L400.1 762.9L401.1 763.8L402.1 763.3L403.1 763.2L404.1 763.2L405.1 762.9L406.1 761.2L407.1 760.6L408.1 760.3L409.1 761.6L410.0 760.5L411.0 760.7L412.0 759.6L413.0 757.8L414.0 754.9L415.0 755.1L416.0 752.6L417.0 753.3L418.0 752.0L419.0 748.5L419.9 748.2L420.9 746.1L421.9 744.5L422.9 740.6L423.9 739.1L424.9 736.3L425.9 738.1L426.9 737.7L427.9 730.7L428.9 728.3L429.8 727.0L430.8 727.6L431.8 723.7L432.8 725.7L433.8 720.6L434.8 723.8L435.8 726.1L436.8 730.2L437.8 735.3L438.8 737.3L439.8 746.2L440.7 752.5L441.7 752.4L442.7 755.8L443.7 760.6L444.7 762.4L445.7 762.4L446.7 764.2L447.7 763.3L448.7 765.1L449.6 764.6L450.6 765.3L451.6 765.0L452.6 764.4L453.6 763.4L454.6 764.7L455.6 764.7L456.6 765.3L457.6 764.8L458.6 763.0L459.5 763.7L460.5 765.9L461.5 765.9L462.5 765.4L463.5 764.5L464.5 764.1L465.5 758.4L466.5 765.1L467.5 764.6L468.5 764.1L469.4 765.4L470.4 763.0L471.4 763.6L472.4 765.9L473.4 763.8L474.4 764.8L475.4 764.5L476.4 765.3L477.4 764.8L478.4 764.5L479.4 760.5L480.3 765.1L481.3 764.1L482.3 765.7L483.3 764.5L484.3 764.4L485.3 765.3L486.3 764.5L487.3 764.5L488.3 765.0L489.2 764.9L490.2 764.2L491.2 765.2L492.2 764.3L493.2 764.7L494.2 764.4L495.2 764.9L496.2 764.6L497.2 763.9L498.2 764.8L499.1 763.9L500.1 760.7L501.1 764.6L502.1 763.7L503.1 764.4L504.1 765.3L505.1 764.0L506.1 765.0L507.1 763.4L508.1 764.6L509.1 764.3L510.0 764.8L511.0 765.6L512.0 764.4L513.0 757.4L514.0 765.0" fill="none" stroke="#444" stroke-width="1.6" stroke-linejoin="round"/>
<path d="M375.4 701.7H514.0V765.9H375.4Z" fill="none" stroke="#555" stroke-width="0.8"/>
<line x1="375.4" y1="701.7" x2="375.4" y2="765.9" stroke="#000" stroke-width="1.6"/>
<line x1="375.4" y1="765.9" x2="514.0" y2="765.9" stroke="#000" stroke-width="1.7"/>
<path d="M375.4 765.9v2.5M385.8 765.9v1.3M391.9 765.9v1.3M396.3 765.9v1.3M399.6 765.9v1.3M402.4 765.9v1.3M404.7 765.9v1.3M406.7 765.9v1.3M408.5 765.9v1.3M410.0 765.9v2.5M420.5 765.9v1.3M426.6 765.9v1.3M430.9 765.9v1.3M434.3 765.9v1.3M437.0 765.9v1.3M439.3 765.9v1.3M441.3 765.9v1.3M443.1 765.9v1.3M444.7 765.9v2.5M455.1 765.9v1.3M461.2 765.9v1.3M465.6 765.9v1.3M468.9 765.9v1.3M471.7 765.9v1.3M474.0 765.9v1.3M476.0 765.9v1.3M477.8 765.9v1.3M479.4 765.9v2.5M489.8 765.9v1.3M495.9 765.9v1.3M500.2 765.9v1.3M503.6 765.9v1.3M506.3 765.9v1.3M508.6 765.9v1.3M510.6 765.9v1.3M512.4 765.9v1.3M514.0 765.9v2.5M375.4 759.5h-2.6M375.4 753.1h-2.6M375.4 746.6h-2.6M375.4 740.2h-2.6M375.4 733.8h-2.6M375.4 727.4h-2.6M375.4 721.0h-2.6M375.4 714.5h-2.6M375.4 708.1h-2.6" stroke="#000" stroke-width="0.8" fill="none"/>
<g font-weight="bold" class="lab"><text x="372.65" y="776.9" font-size="8.2" text-anchor="start" textLength="5.9" lengthAdjust="spacingAndGlyphs">10</text><text x="378.75" y="772.3" font-size="6.8" text-anchor="start" textLength="3.0" lengthAdjust="spacingAndGlyphs">0</text></g>
<g font-weight="bold" class="lab"><text x="405.20" y="776.9" font-size="8.2" text-anchor="start" textLength="5.9" lengthAdjust="spacingAndGlyphs">10</text><text x="411.30" y="772.3" font-size="6.8" text-anchor="start" textLength="3.0" lengthAdjust="spacingAndGlyphs">1</text></g>
<g font-weight="bold" class="lab"><text x="439.85" y="776.9" font-size="8.2" text-anchor="start" textLength="5.9" lengthAdjust="spacingAndGlyphs">10</text><text x="445.95" y="772.3" font-size="6.8" text-anchor="start" textLength="3.0" lengthAdjust="spacingAndGlyphs">2</text></g>
<g font-weight="bold" class="lab"><text x="474.50" y="776.9" font-size="8.2" text-anchor="start" textLength="5.9" lengthAdjust="spacingAndGlyphs">10</text><text x="480.60" y="772.3" font-size="6.8" text-anchor="start" textLength="3.0" lengthAdjust="spacingAndGlyphs">3</text></g>
<g font-weight="bold" class="lab"><text x="509.15" y="776.9" font-size="8.2" text-anchor="start" textLength="5.9" lengthAdjust="spacingAndGlyphs">10</text><text x="515.25" y="772.3" font-size="6.8" text-anchor="start" textLength="3.0" lengthAdjust="spacingAndGlyphs">4</text></g>
<text x="454" y="718" font-size="13.2" text-anchor="middle">IL-7R&#945;</text>
</g>
</svg></body></html>
